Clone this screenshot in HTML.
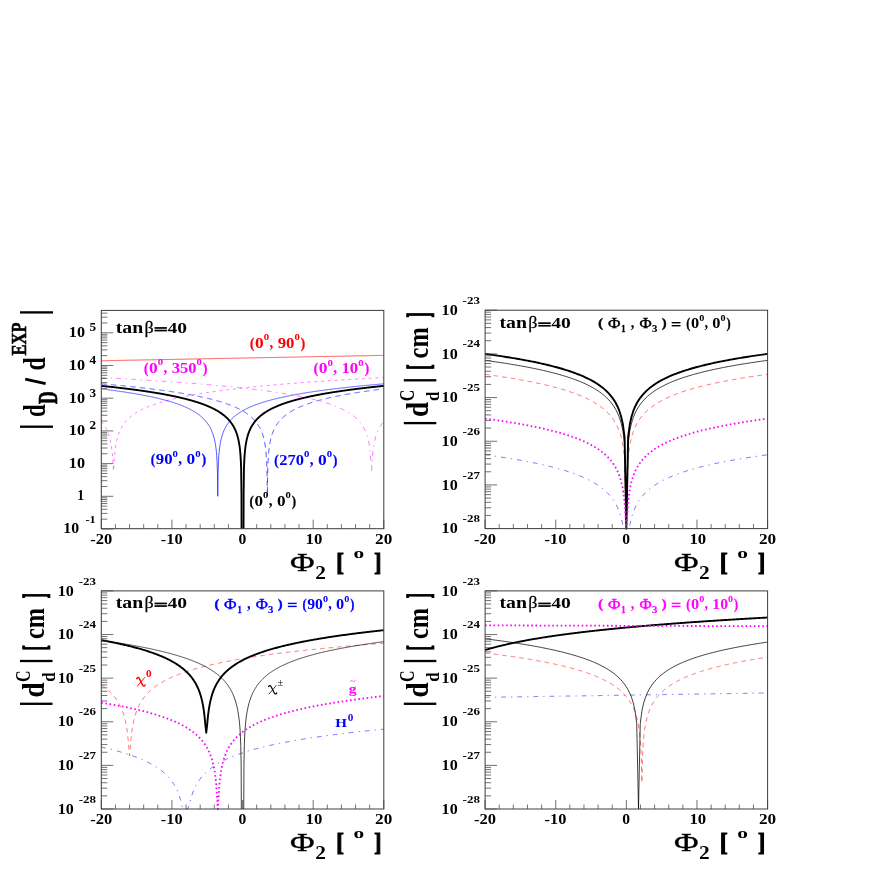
<!DOCTYPE html>
<html><head><meta charset="utf-8"><title>plot</title>
<style>
html,body{margin:0;padding:0;background:#fff;}
body{width:872px;height:872px;overflow:hidden;font-family:"Liberation Serif",serif;}
svg{display:block;font-family:"Liberation Serif",serif;}
</style></head><body>
<svg width="872" height="872" viewBox="0 0 872 872">
<defs><filter id="soft" x="0" y="0" width="872" height="872" filterUnits="userSpaceOnUse"><feGaussianBlur stdDeviation="0.42"/></filter></defs>
<rect width="872" height="872" fill="#fff"/>
<g filter="url(#soft)">
<path d="M101.30 360.76 L102.01 360.75 L102.71 360.73 L103.42 360.72 L104.12 360.70 L104.83 360.69 L105.54 360.68 L106.24 360.66 L106.95 360.65 L107.66 360.64 L108.36 360.62 L109.07 360.61 L109.77 360.60 L110.48 360.58 L111.19 360.57 L111.89 360.56 L112.60 360.54 L113.31 360.53 L114.01 360.52 L114.72 360.50 L115.42 360.49 L116.13 360.48 L116.84 360.46 L117.54 360.45 L118.25 360.43 L118.96 360.42 L119.66 360.41 L120.37 360.39 L121.08 360.38 L121.78 360.37 L122.49 360.35 L123.19 360.34 L123.90 360.33 L124.61 360.31 L125.31 360.30 L126.02 360.29 L126.73 360.27 L127.43 360.26 L128.14 360.25 L128.84 360.23 L129.55 360.22 L130.26 360.21 L130.96 360.19 L131.67 360.18 L132.38 360.16 L133.08 360.15 L133.79 360.14 L134.49 360.12 L135.20 360.11 L135.91 360.10 L136.61 360.08 L137.32 360.07 L138.02 360.06 L138.73 360.04 L139.44 360.03 L140.14 360.02 L140.85 360.00 L141.56 359.99 L142.26 359.98 L142.97 359.96 L143.68 359.95 L144.38 359.94 L145.09 359.92 L145.79 359.91 L146.50 359.90 L147.21 359.88 L147.91 359.87 L148.62 359.85 L149.32 359.84 L150.03 359.83 L150.74 359.81 L151.44 359.80 L152.15 359.79 L152.86 359.77 L153.56 359.76 L154.27 359.75 L154.98 359.73 L155.68 359.72 L156.39 359.71 L157.09 359.69 L157.80 359.68 L158.51 359.67 L159.21 359.65 L159.92 359.64 L160.62 359.63 L161.33 359.61 L162.04 359.60 L162.74 359.58 L163.45 359.57 L164.16 359.56 L164.86 359.54 L165.57 359.53 L166.28 359.52 L166.98 359.50 L167.69 359.49 L168.39 359.48 L169.10 359.46 L169.81 359.45 L170.51 359.44 L171.22 359.42 L171.93 359.41 L172.63 359.40 L173.34 359.38 L174.04 359.37 L174.75 359.36 L175.46 359.34 L176.16 359.33 L176.87 359.32 L177.57 359.30 L178.28 359.29 L178.99 359.27 L179.69 359.26 L180.40 359.25 L181.11 359.23 L181.81 359.22 L182.52 359.21 L183.23 359.19 L183.93 359.18 L184.64 359.17 L185.34 359.15 L186.05 359.14 L186.76 359.13 L187.46 359.11 L188.17 359.10 L188.88 359.09 L189.58 359.07 L190.29 359.06 L190.99 359.05 L191.70 359.03 L192.41 359.02 L193.11 359.00 L193.82 358.99 L194.53 358.98 L195.23 358.96 L195.94 358.95 L196.64 358.94 L197.35 358.92 L198.06 358.91 L198.76 358.90 L199.47 358.88 L200.18 358.87 L200.88 358.86 L201.59 358.84 L202.29 358.83 L203.00 358.82 L203.71 358.80 L204.41 358.79 L205.12 358.78 L205.82 358.76 L206.53 358.75 L207.24 358.74 L207.94 358.72 L208.65 358.71 L209.36 358.69 L210.06 358.68 L210.77 358.67 L211.47 358.65 L212.18 358.64 L212.89 358.63 L213.59 358.61 L214.30 358.60 L215.01 358.59 L215.71 358.57 L216.42 358.56 L217.12 358.55 L217.83 358.53 L218.54 358.52 L219.24 358.51 L219.95 358.49 L220.66 358.48 L221.36 358.47 L222.07 358.45 L222.77 358.44 L223.48 358.42 L224.19 358.41 L224.89 358.40 L225.60 358.38 L226.31 358.37 L227.01 358.36 L227.72 358.34 L228.43 358.33 L229.13 358.32 L229.84 358.30 L230.54 358.29 L231.25 358.28 L231.96 358.26 L232.66 358.25 L233.37 358.24 L234.07 358.22 L234.78 358.21 L235.49 358.20 L236.19 358.18 L236.90 358.17 L237.61 358.16 L238.31 358.14 L239.02 358.13 L239.73 358.11 L240.43 358.10 L241.14 358.09 L241.84 358.07 L242.55 358.06 L243.26 358.05 L243.96 358.03 L244.67 358.02 L245.38 358.01 L246.08 357.99 L246.79 357.98 L247.49 357.97 L248.20 357.95 L248.91 357.94 L249.61 357.93 L250.32 357.91 L251.02 357.90 L251.73 357.89 L252.44 357.87 L253.14 357.86 L253.85 357.84 L254.56 357.83 L255.26 357.82 L255.97 357.80 L256.68 357.79 L257.38 357.78 L258.09 357.76 L258.79 357.75 L259.50 357.74 L260.21 357.72 L260.91 357.71 L261.62 357.70 L262.32 357.68 L263.03 357.67 L263.74 357.66 L264.44 357.64 L265.15 357.63 L265.86 357.62 L266.56 357.60 L267.27 357.59 L267.98 357.58 L268.68 357.56 L269.39 357.55 L270.09 357.53 L270.80 357.52 L271.51 357.51 L272.21 357.49 L272.92 357.48 L273.62 357.47 L274.33 357.45 L275.04 357.44 L275.74 357.43 L276.45 357.41 L277.16 357.40 L277.86 357.39 L278.57 357.37 L279.28 357.36 L279.98 357.35 L280.69 357.33 L281.39 357.32 L282.10 357.31 L282.81 357.29 L283.51 357.28 L284.22 357.26 L284.93 357.25 L285.63 357.24 L286.34 357.22 L287.04 357.21 L287.75 357.20 L288.46 357.18 L289.16 357.17 L289.87 357.16 L290.57 357.14 L291.28 357.13 L291.99 357.12 L292.69 357.10 L293.40 357.09 L294.11 357.08 L294.81 357.06 L295.52 357.05 L296.23 357.04 L296.93 357.02 L297.64 357.01 L298.34 357.00 L299.05 356.98 L299.76 356.97 L300.46 356.95 L301.17 356.94 L301.88 356.93 L302.58 356.91 L303.29 356.90 L303.99 356.89 L304.70 356.87 L305.41 356.86 L306.11 356.85 L306.82 356.83 L307.53 356.82 L308.23 356.81 L308.94 356.79 L309.64 356.78 L310.35 356.77 L311.06 356.75 L311.76 356.74 L312.47 356.73 L313.18 356.71 L313.88 356.70 L314.59 356.68 L315.29 356.67 L316.00 356.66 L316.71 356.64 L317.41 356.63 L318.12 356.62 L318.82 356.60 L319.53 356.59 L320.24 356.58 L320.94 356.56 L321.65 356.55 L322.36 356.54 L323.06 356.52 L323.77 356.51 L324.48 356.50 L325.18 356.48 L325.89 356.47 L326.59 356.46 L327.30 356.44 L328.01 356.43 L328.71 356.42 L329.42 356.40 L330.12 356.39 L330.83 356.37 L331.54 356.36 L332.24 356.35 L332.95 356.33 L333.66 356.32 L334.36 356.31 L335.07 356.29 L335.78 356.28 L336.48 356.27 L337.19 356.25 L337.89 356.24 L338.60 356.23 L339.31 356.21 L340.01 356.20 L340.72 356.19 L341.43 356.17 L342.13 356.16 L342.84 356.15 L343.54 356.13 L344.25 356.12 L344.96 356.10 L345.66 356.09 L346.37 356.08 L347.08 356.06 L347.78 356.05 L348.49 356.04 L349.19 356.02 L349.90 356.01 L350.61 356.00 L351.31 355.98 L352.02 355.97 L352.73 355.96 L353.43 355.94 L354.14 355.93 L354.84 355.92 L355.55 355.90 L356.26 355.89 L356.96 355.88 L357.67 355.86 L358.38 355.85 L359.08 355.84 L359.79 355.82 L360.49 355.81 L361.20 355.79 L361.91 355.78 L362.61 355.77 L363.32 355.75 L364.03 355.74 L364.73 355.73 L365.44 355.71 L366.14 355.70 L366.85 355.69 L367.56 355.67 L368.26 355.66 L368.97 355.65 L369.68 355.63 L370.38 355.62 L371.09 355.61 L371.79 355.59 L372.50 355.58 L373.21 355.57 L373.91 355.55 L374.62 355.54 L375.33 355.52 L376.03 355.51 L376.74 355.50 L377.44 355.48 L378.15 355.47 L378.86 355.46 L379.56 355.44 L380.27 355.43 L380.98 355.42 L381.68 355.40 L382.39 355.39 L383.09 355.38 L383.80 355.36" stroke="#ff2020" stroke-width="0.75" fill="none" stroke-linejoin="round" stroke-linecap="butt"/>
<path d="M101.30 421.50 L101.51 421.75 L102.22 422.61 L102.92 423.52 L103.63 424.50 L104.34 425.55 L105.04 426.69 L105.75 427.92 L106.46 429.27 L107.16 430.76 L107.87 432.43 L108.57 434.31 L109.28 436.49 L109.99 439.05 L110.69 442.18 L111.40 446.17 L112.11 451.65 L112.81 460.20 L113.52 470.85 L114.22 460.20 L114.93 451.65 L115.64 446.17 L116.34 442.18 L117.05 439.05 L117.76 436.49 L118.46 434.31 L119.17 432.43 L119.87 430.76 L120.58 429.27 L121.29 427.92 L121.99 426.69 L122.70 425.55 L123.41 424.50 L124.11 423.52 L124.82 422.61 L125.52 421.75 L126.23 420.94 L126.94 420.17 L127.64 419.44 L128.35 418.75 L129.06 418.09 L129.76 417.46 L130.47 416.85 L131.17 416.27 L131.88 415.72 L132.59 415.18 L133.29 414.67 L134.00 414.17 L134.71 413.69 L135.41 413.22 L136.12 412.77 L136.82 412.33 L137.53 411.91 L138.24 411.50 L138.94 411.10 L139.65 410.71 L140.36 410.33 L141.06 409.96 L141.77 409.60 L142.47 409.25 L143.18 408.91 L143.89 408.58 L144.59 408.25 L145.30 407.93 L146.01 407.62 L146.71 407.31 L147.42 407.01 L148.12 406.72 L148.83 406.43 L149.54 406.15 L150.24 405.88 L150.95 405.61 L151.66 405.34 L152.36 405.08 L153.07 404.82 L153.77 404.57 L154.48 404.33 L155.19 404.08 L155.89 403.84 L156.60 403.61 L157.31 403.38 L158.01 403.15 L158.72 402.93 L159.42 402.71 L160.13 402.49 L160.84 402.28 L161.54 402.07 L162.25 401.86 L162.96 401.66 L163.66 401.45 L164.37 401.26 L165.07 401.06 L165.78 400.87 L166.49 400.68 L167.19 400.49 L167.90 400.30 L168.61 400.12 L169.31 399.94 L170.02 399.76 L170.72 399.58 L171.43 399.41 L172.14 399.24 L172.84 399.07 L173.55 398.90 L174.26 398.73 L174.96 398.57 L175.67 398.41 L176.37 398.25 L177.08 398.09 L177.79 397.93 L178.49 397.77 L179.20 397.62 L179.91 397.47 L180.61 397.32 L181.32 397.17 L182.02 397.02 L182.73 396.88 L183.44 396.73 L184.14 396.59 L184.85 396.45 L185.56 396.31 L186.26 396.17 L186.97 396.03 L187.67 395.90 L188.38 395.76 L189.09 395.63 L189.79 395.50 L190.50 395.37 L191.21 395.24 L191.91 395.11 L192.62 394.98 L193.32 394.85 L194.03 394.73 L194.74 394.61 L195.44 394.48 L196.15 394.36 L196.86 394.24 L197.56 394.12 L198.27 394.00 L198.97 393.88 L199.68 393.77 L200.39 393.65 L201.09 393.54 L201.80 393.42 L202.51 393.31 L203.21 393.20 L203.92 393.08 L204.62 392.97 L205.33 392.86 L206.04 392.76 L206.74 392.65 L207.45 392.54 L208.16 392.43 L208.86 392.33 L209.57 392.22 L210.27 392.12 L210.98 392.02 L211.69 391.91 L212.39 391.81 L213.10 391.71 L213.81 391.61 L214.51 391.51 L215.22 391.41 L215.92 391.31 L216.63 391.22 L217.34 391.12 L218.04 391.02 L218.75 390.93 L219.46 390.83 L220.16 390.74 L220.87 390.64 L221.57 390.55 L222.28 390.46 L222.99 390.37 L223.69 390.28 L224.40 390.18 L225.11 390.09 L225.81 390.00 L226.52 389.92 L227.22 389.83 L227.93 389.74 L228.64 389.65 L229.34 389.57 L230.05 389.48 L230.76 389.39 L231.46 389.31 L232.17 389.22 L232.87 389.14 L233.58 389.05 L234.29 388.97 L234.99 388.89 L235.70 388.81 L236.41 388.72 L237.11 388.64 L237.82 388.56 L238.52 388.48 L239.23 388.40 L239.94 388.32 L240.64 388.24 L241.35 388.16 L242.06 388.09 L242.76 388.01 L243.47 387.93 L244.17 387.85 L244.88 387.78 L245.59 387.70 L246.29 387.63 L247.00 387.55 L247.71 387.48 L248.41 387.40 L249.12 387.33 L249.82 387.25 L250.53 387.18 L251.24 387.11 L251.94 387.03 L252.65 386.96 L253.36 386.89 L254.06 386.82 L254.77 386.75 L255.47 386.68 L256.18 386.61 L256.89 386.54 L257.59 386.47 L258.30 386.40 L259.01 386.33 L259.71 386.26 L260.42 386.19 L261.12 386.12 L261.83 386.05 L262.54 385.99 L263.24 385.92 L263.95 385.85 L264.66 385.79 L265.36 385.72 L266.07 385.65 L266.77 385.59 L267.48 385.52 L268.19 385.46 L268.89 385.39 L269.60 385.33 L270.31 385.26 L271.01 385.20 L271.72 385.14 L272.42 385.07 L273.13 385.01 L273.84 384.95 L274.54 384.89 L275.25 384.82 L275.96 384.76 L276.66 384.70 L277.37 384.64 L278.07 384.58 L278.78 384.52 L279.49 384.46 L280.19 384.40 L280.90 384.34 L281.61 384.28 L282.31 384.22 L283.02 384.16 L283.72 384.10 L284.43 384.04 L285.14 383.98 L285.84 383.92 L286.55 383.86 L287.26 383.81 L287.96 383.75 L288.67 383.69 L289.37 383.63 L290.08 383.58 L290.79 383.52 L291.49 383.46 L292.20 383.41 L292.91 383.35 L293.61 383.30 L294.32 383.24 L295.02 383.19 L295.73 383.13 L296.44 383.08 L297.14 383.02 L297.85 382.97 L298.56 382.91 L299.26 382.86 L299.97 382.80 L300.67 382.75 L301.38 382.70 L302.09 382.64 L302.79 382.59 L303.50 382.54 L304.21 382.48 L304.91 382.43 L305.62 382.38 L306.32 382.33 L307.03 382.28 L307.74 382.22 L308.44 382.17 L309.15 382.12 L309.86 382.07 L310.56 382.02 L311.27 381.97 L311.97 381.92 L312.68 381.87 L313.39 381.82 L314.09 381.77 L314.80 381.72 L315.51 381.67 L316.21 381.62 L316.92 381.57 L317.62 381.52 L318.33 381.47 L319.04 381.42 L319.74 381.37 L320.45 381.32 L321.16 381.28 L321.86 381.23 L322.57 381.18 L323.27 381.13 L323.98 381.08 L324.69 381.04 L325.39 380.99 L326.10 380.94 L326.81 380.89 L327.51 380.85 L328.22 380.80 L328.92 380.75 L329.63 380.71 L330.34 380.66 L331.04 380.61 L331.75 380.57 L332.46 380.52 L333.16 380.48 L333.87 380.43 L334.57 380.39 L335.28 380.34 L335.99 380.30 L336.69 380.25 L337.40 380.21 L338.11 380.16 L338.81 380.12 L339.52 380.07 L340.22 380.03 L340.93 379.98 L341.64 379.94 L342.34 379.90 L343.05 379.85 L343.76 379.81 L344.46 379.76 L345.17 379.72 L345.87 379.68 L346.58 379.64 L347.29 379.59 L347.99 379.55 L348.70 379.51 L349.41 379.46 L350.11 379.42 L350.82 379.38 L351.52 379.34 L352.23 379.29 L352.94 379.25 L353.64 379.21 L354.35 379.17 L355.06 379.13 L355.76 379.09 L356.47 379.05 L357.17 379.00 L357.88 378.96 L358.59 378.92 L359.29 378.88 L360.00 378.84 L360.71 378.80 L361.41 378.76 L362.12 378.72 L362.82 378.68 L363.53 378.64 L364.24 378.60 L364.94 378.56 L365.65 378.52 L366.36 378.48 L367.06 378.44 L367.77 378.40 L368.47 378.36 L369.18 378.32 L369.89 378.28 L370.59 378.24 L371.30 378.20 L372.01 378.16 L372.71 378.13 L373.42 378.09 L374.12 378.05 L374.83 378.01 L375.54 377.97 L376.24 377.93 L376.95 377.90 L377.66 377.86 L378.36 377.82 L379.07 377.78 L379.77 377.74 L380.48 377.71 L381.19 377.67 L381.89 377.63 L382.60 377.59 L383.31 377.56 L383.80 377.53" stroke="#ff00ff" stroke-width="0.75" fill="none" stroke-linejoin="round" stroke-linecap="butt" stroke-dasharray="3 3.8" stroke-opacity="0.7"/>
<path d="M101.30 377.53 L101.79 377.56 L102.50 377.59 L103.21 377.63 L103.91 377.67 L104.62 377.71 L105.33 377.74 L106.03 377.78 L106.74 377.82 L107.44 377.86 L108.15 377.90 L108.86 377.93 L109.56 377.97 L110.27 378.01 L110.98 378.05 L111.68 378.09 L112.39 378.13 L113.09 378.16 L113.80 378.20 L114.51 378.24 L115.21 378.28 L115.92 378.32 L116.63 378.36 L117.33 378.40 L118.04 378.44 L118.74 378.48 L119.45 378.52 L120.16 378.56 L120.86 378.60 L121.57 378.64 L122.28 378.68 L122.98 378.72 L123.69 378.76 L124.39 378.80 L125.10 378.84 L125.81 378.88 L126.51 378.92 L127.22 378.96 L127.93 379.00 L128.63 379.05 L129.34 379.09 L130.04 379.13 L130.75 379.17 L131.46 379.21 L132.16 379.25 L132.87 379.29 L133.58 379.34 L134.28 379.38 L134.99 379.42 L135.69 379.46 L136.40 379.51 L137.11 379.55 L137.81 379.59 L138.52 379.64 L139.23 379.68 L139.93 379.72 L140.64 379.76 L141.34 379.81 L142.05 379.85 L142.76 379.90 L143.46 379.94 L144.17 379.98 L144.88 380.03 L145.58 380.07 L146.29 380.12 L146.99 380.16 L147.70 380.21 L148.41 380.25 L149.11 380.30 L149.82 380.34 L150.53 380.39 L151.23 380.43 L151.94 380.48 L152.64 380.52 L153.35 380.57 L154.06 380.61 L154.76 380.66 L155.47 380.71 L156.18 380.75 L156.88 380.80 L157.59 380.85 L158.29 380.89 L159.00 380.94 L159.71 380.99 L160.41 381.04 L161.12 381.08 L161.83 381.13 L162.53 381.18 L163.24 381.23 L163.94 381.28 L164.65 381.32 L165.36 381.37 L166.06 381.42 L166.77 381.47 L167.48 381.52 L168.18 381.57 L168.89 381.62 L169.59 381.67 L170.30 381.72 L171.01 381.77 L171.71 381.82 L172.42 381.87 L173.13 381.92 L173.83 381.97 L174.54 382.02 L175.24 382.07 L175.95 382.12 L176.66 382.17 L177.36 382.22 L178.07 382.28 L178.78 382.33 L179.48 382.38 L180.19 382.43 L180.89 382.48 L181.60 382.54 L182.31 382.59 L183.01 382.64 L183.72 382.70 L184.43 382.75 L185.13 382.80 L185.84 382.86 L186.54 382.91 L187.25 382.97 L187.96 383.02 L188.66 383.08 L189.37 383.13 L190.08 383.19 L190.78 383.24 L191.49 383.30 L192.19 383.35 L192.90 383.41 L193.61 383.46 L194.31 383.52 L195.02 383.58 L195.73 383.63 L196.43 383.69 L197.14 383.75 L197.84 383.81 L198.55 383.86 L199.26 383.92 L199.96 383.98 L200.67 384.04 L201.38 384.10 L202.08 384.16 L202.79 384.22 L203.49 384.28 L204.20 384.34 L204.91 384.40 L205.61 384.46 L206.32 384.52 L207.03 384.58 L207.73 384.64 L208.44 384.70 L209.14 384.76 L209.85 384.82 L210.56 384.89 L211.26 384.95 L211.97 385.01 L212.68 385.07 L213.38 385.14 L214.09 385.20 L214.79 385.26 L215.50 385.33 L216.21 385.39 L216.91 385.46 L217.62 385.52 L218.33 385.59 L219.03 385.65 L219.74 385.72 L220.44 385.79 L221.15 385.85 L221.86 385.92 L222.56 385.99 L223.27 386.05 L223.98 386.12 L224.68 386.19 L225.39 386.26 L226.09 386.33 L226.80 386.40 L227.51 386.47 L228.21 386.54 L228.92 386.61 L229.63 386.68 L230.33 386.75 L231.04 386.82 L231.74 386.89 L232.45 386.96 L233.16 387.03 L233.86 387.11 L234.57 387.18 L235.28 387.25 L235.98 387.33 L236.69 387.40 L237.39 387.48 L238.10 387.55 L238.81 387.63 L239.51 387.70 L240.22 387.78 L240.93 387.85 L241.63 387.93 L242.34 388.01 L243.04 388.09 L243.75 388.16 L244.46 388.24 L245.16 388.32 L245.87 388.40 L246.58 388.48 L247.28 388.56 L247.99 388.64 L248.69 388.72 L249.40 388.81 L250.11 388.89 L250.81 388.97 L251.52 389.05 L252.23 389.14 L252.93 389.22 L253.64 389.31 L254.34 389.39 L255.05 389.48 L255.76 389.57 L256.46 389.65 L257.17 389.74 L257.88 389.83 L258.58 389.92 L259.29 390.00 L259.99 390.09 L260.70 390.18 L261.41 390.28 L262.11 390.37 L262.82 390.46 L263.53 390.55 L264.23 390.64 L264.94 390.74 L265.64 390.83 L266.35 390.93 L267.06 391.02 L267.76 391.12 L268.47 391.22 L269.18 391.31 L269.88 391.41 L270.59 391.51 L271.29 391.61 L272.00 391.71 L272.71 391.81 L273.41 391.91 L274.12 392.02 L274.83 392.12 L275.53 392.22 L276.24 392.33 L276.94 392.43 L277.65 392.54 L278.36 392.65 L279.06 392.76 L279.77 392.86 L280.48 392.97 L281.18 393.08 L281.89 393.20 L282.59 393.31 L283.30 393.42 L284.01 393.54 L284.71 393.65 L285.42 393.77 L286.13 393.88 L286.83 394.00 L287.54 394.12 L288.24 394.24 L288.95 394.36 L289.66 394.48 L290.36 394.61 L291.07 394.73 L291.78 394.85 L292.48 394.98 L293.19 395.11 L293.89 395.24 L294.60 395.37 L295.31 395.50 L296.01 395.63 L296.72 395.76 L297.43 395.90 L298.13 396.03 L298.84 396.17 L299.54 396.31 L300.25 396.45 L300.96 396.59 L301.66 396.73 L302.37 396.88 L303.08 397.02 L303.78 397.17 L304.49 397.32 L305.19 397.47 L305.90 397.62 L306.61 397.77 L307.31 397.93 L308.02 398.09 L308.73 398.25 L309.43 398.41 L310.14 398.57 L310.84 398.73 L311.55 398.90 L312.26 399.07 L312.96 399.24 L313.67 399.41 L314.38 399.58 L315.08 399.76 L315.79 399.94 L316.49 400.12 L317.20 400.30 L317.91 400.49 L318.61 400.68 L319.32 400.87 L320.03 401.06 L320.73 401.26 L321.44 401.45 L322.14 401.66 L322.85 401.86 L323.56 402.07 L324.26 402.28 L324.97 402.49 L325.68 402.71 L326.38 402.93 L327.09 403.15 L327.79 403.38 L328.50 403.61 L329.21 403.84 L329.91 404.08 L330.62 404.33 L331.33 404.57 L332.03 404.82 L332.74 405.08 L333.44 405.34 L334.15 405.61 L334.86 405.88 L335.56 406.15 L336.27 406.43 L336.98 406.72 L337.68 407.01 L338.39 407.31 L339.09 407.62 L339.80 407.93 L340.51 408.25 L341.21 408.58 L341.92 408.91 L342.63 409.25 L343.33 409.60 L344.04 409.96 L344.74 410.33 L345.45 410.71 L346.16 411.10 L346.86 411.50 L347.57 411.91 L348.28 412.33 L348.98 412.77 L349.69 413.22 L350.39 413.69 L351.10 414.17 L351.81 414.67 L352.51 415.18 L353.22 415.72 L353.93 416.27 L354.63 416.85 L355.34 417.46 L356.04 418.09 L356.75 418.75 L357.46 419.44 L358.16 420.17 L358.87 420.94 L359.58 421.75 L360.28 422.61 L360.99 423.52 L361.69 424.50 L362.40 425.55 L363.11 426.69 L363.81 427.92 L364.52 429.27 L365.23 430.76 L365.93 432.43 L366.64 434.31 L367.34 436.49 L368.05 439.05 L368.76 442.18 L369.46 446.17 L370.17 451.65 L370.88 460.20 L371.58 470.85 L372.29 460.20 L372.99 451.65 L373.70 446.17 L374.41 442.18 L375.11 439.05 L375.82 436.49 L376.53 434.31 L377.23 432.43 L377.94 430.76 L378.64 429.27 L379.35 427.92 L380.06 426.69 L380.76 425.55 L381.47 424.50 L382.18 423.52 L382.88 422.61 L383.59 421.75 L383.80 421.50" stroke="#ff00ff" stroke-width="0.75" fill="none" stroke-linejoin="round" stroke-linecap="butt" stroke-dasharray="4.8 4.5 1.3 4.5" stroke-opacity="0.7"/>
<path d="M101.30 388.87 L101.58 388.90 L101.94 388.94 L102.29 388.99 L102.64 389.03 L103.00 389.08 L103.35 389.12 L103.70 389.16 L104.05 389.21 L104.41 389.25 L104.76 389.30 L105.11 389.34 L105.47 389.38 L105.82 389.43 L106.17 389.47 L106.53 389.52 L106.88 389.56 L107.23 389.61 L107.59 389.66 L107.94 389.70 L108.29 389.75 L108.65 389.79 L109.00 389.84 L109.35 389.88 L109.70 389.93 L110.06 389.98 L110.41 390.02 L110.76 390.07 L111.12 390.12 L111.47 390.16 L111.82 390.21 L112.18 390.26 L112.53 390.31 L112.88 390.35 L113.24 390.40 L113.59 390.45 L113.94 390.50 L114.30 390.55 L114.65 390.60 L115.00 390.64 L115.35 390.69 L115.71 390.74 L116.06 390.79 L116.41 390.84 L116.77 390.89 L117.12 390.94 L117.47 390.99 L117.83 391.04 L118.18 391.09 L118.53 391.14 L118.89 391.19 L119.24 391.24 L119.59 391.29 L119.95 391.34 L120.30 391.40 L120.65 391.45 L121.00 391.50 L121.36 391.55 L121.71 391.60 L122.06 391.66 L122.42 391.71 L122.77 391.76 L123.12 391.81 L123.48 391.87 L123.83 391.92 L124.18 391.97 L124.54 392.03 L124.89 392.08 L125.24 392.14 L125.60 392.19 L125.95 392.24 L126.30 392.30 L126.65 392.35 L127.01 392.41 L127.36 392.46 L127.71 392.52 L128.07 392.58 L128.42 392.63 L128.77 392.69 L129.13 392.74 L129.48 392.80 L129.83 392.86 L130.19 392.92 L130.54 392.97 L130.89 393.03 L131.25 393.09 L131.60 393.15 L131.95 393.20 L132.30 393.26 L132.66 393.32 L133.01 393.38 L133.36 393.44 L133.72 393.50 L134.07 393.56 L134.42 393.62 L134.78 393.68 L135.13 393.74 L135.48 393.80 L135.84 393.86 L136.19 393.92 L136.54 393.99 L136.90 394.05 L137.25 394.11 L137.60 394.17 L137.95 394.23 L138.31 394.30 L138.66 394.36 L139.01 394.42 L139.37 394.49 L139.72 394.55 L140.07 394.62 L140.43 394.68 L140.78 394.75 L141.13 394.81 L141.49 394.88 L141.84 394.94 L142.19 395.01 L142.55 395.08 L142.90 395.14 L143.25 395.21 L143.60 395.28 L143.96 395.35 L144.31 395.41 L144.66 395.48 L145.02 395.55 L145.37 395.62 L145.72 395.69 L146.08 395.76 L146.43 395.83 L146.78 395.90 L147.14 395.97 L147.49 396.04 L147.84 396.11 L148.20 396.18 L148.55 396.26 L148.90 396.33 L149.25 396.40 L149.61 396.48 L149.96 396.55 L150.31 396.62 L150.67 396.70 L151.02 396.77 L151.37 396.85 L151.73 396.92 L152.08 397.00 L152.43 397.08 L152.79 397.15 L153.14 397.23 L153.49 397.31 L153.85 397.39 L154.20 397.47 L154.55 397.55 L154.90 397.63 L155.26 397.71 L155.61 397.79 L155.96 397.87 L156.32 397.95 L156.67 398.03 L157.02 398.11 L157.38 398.20 L157.73 398.28 L158.08 398.36 L158.44 398.45 L158.79 398.53 L159.14 398.62 L159.50 398.70 L159.85 398.79 L160.20 398.88 L160.55 398.96 L160.91 399.05 L161.26 399.14 L161.61 399.23 L161.97 399.32 L162.32 399.41 L162.67 399.50 L163.03 399.59 L163.38 399.68 L163.73 399.77 L164.09 399.87 L164.44 399.96 L164.79 400.06 L165.15 400.15 L165.50 400.25 L165.85 400.34 L166.20 400.44 L166.56 400.54 L166.91 400.64 L167.26 400.73 L167.62 400.83 L167.97 400.93 L168.32 401.04 L168.68 401.14 L169.03 401.24 L169.38 401.34 L169.74 401.45 L170.09 401.55 L170.44 401.66 L170.80 401.76 L171.15 401.87 L171.50 401.98 L171.85 402.09 L172.21 402.20 L172.56 402.31 L172.91 402.42 L173.27 402.53 L173.62 402.65 L173.97 402.76 L174.33 402.87 L174.68 402.99 L175.03 403.11 L175.39 403.22 L175.74 403.34 L176.09 403.46 L176.45 403.58 L176.80 403.71 L177.15 403.83 L177.50 403.95 L177.86 404.08 L178.21 404.20 L178.56 404.33 L178.92 404.46 L179.27 404.59 L179.62 404.72 L179.98 404.85 L180.33 404.99 L180.68 405.12 L181.04 405.26 L181.39 405.39 L181.74 405.53 L182.10 405.67 L182.45 405.81 L182.80 405.96 L183.15 406.10 L183.51 406.25 L183.86 406.39 L184.21 406.54 L184.57 406.69 L184.92 406.84 L185.27 407.00 L185.63 407.15 L185.98 407.31 L186.33 407.47 L186.69 407.63 L187.04 407.79 L187.39 407.96 L187.75 408.12 L188.10 408.29 L188.45 408.46 L188.80 408.63 L189.16 408.81 L189.51 408.98 L189.86 409.16 L190.22 409.34 L190.57 409.53 L190.92 409.71 L191.28 409.90 L191.63 410.09 L191.98 410.28 L192.34 410.48 L192.69 410.68 L193.04 410.88 L193.40 411.08 L193.75 411.29 L194.10 411.50 L194.45 411.71 L194.81 411.93 L195.16 412.15 L195.51 412.38 L195.87 412.60 L196.22 412.83 L196.57 413.07 L196.93 413.31 L197.28 413.55 L197.63 413.80 L197.99 414.05 L198.34 414.30 L198.69 414.56 L199.05 414.83 L199.40 415.10 L199.75 415.38 L200.10 415.66 L200.46 415.94 L200.81 416.24 L201.16 416.54 L201.52 416.84 L201.87 417.15 L202.22 417.47 L202.58 417.80 L202.93 418.13 L203.28 418.48 L203.64 418.83 L203.99 419.19 L204.34 419.55 L204.70 419.93 L205.05 420.32 L205.40 420.72 L205.75 421.13 L206.11 421.56 L206.46 422.00 L206.81 422.45 L207.17 422.91 L207.52 423.39 L207.87 423.89 L208.23 424.41 L208.58 424.94 L208.93 425.50 L209.29 426.08 L209.64 426.69 L209.99 427.32 L210.35 427.98 L210.70 428.67 L211.05 429.40 L211.40 430.17 L211.76 430.98 L212.11 431.84 L212.46 432.75 L212.82 433.73 L213.17 434.79 L213.52 435.92 L213.88 437.16 L214.23 438.51 L214.58 440.01 L214.94 441.68 L215.29 443.58 L215.64 445.76 L216.00 448.35 L216.35 451.51 L216.70 455.59 L217.05 461.32 L217.41 471.01 L217.76 496.30 L218.11 471.01 L218.47 461.32 L218.82 455.59 L219.17 451.51 L219.53 448.35 L219.88 445.76 L220.23 443.58 L220.59 441.68 L220.94 440.01 L221.29 438.51 L221.65 437.16 L222.00 435.92 L222.35 434.79 L222.70 433.73 L223.06 432.75 L223.41 431.84 L223.76 430.98 L224.12 430.17 L224.47 429.40 L224.82 428.67 L225.18 427.98 L225.53 427.32 L225.88 426.69 L226.24 426.08 L226.59 425.50 L226.94 424.94 L227.30 424.41 L227.65 423.89 L228.00 423.39 L228.35 422.91 L228.71 422.45 L229.06 422.00 L229.41 421.56 L229.77 421.13 L230.12 420.72 L230.47 420.32 L230.83 419.93 L231.18 419.55 L231.53 419.19 L231.89 418.83 L232.24 418.48 L232.59 418.13 L232.95 417.80 L233.30 417.47 L233.65 417.15 L234.00 416.84 L234.36 416.54 L234.71 416.24 L235.06 415.94 L235.42 415.66 L235.77 415.38 L236.12 415.10 L236.48 414.83 L236.83 414.56 L237.18 414.30 L237.54 414.05 L237.89 413.80 L238.24 413.55 L238.60 413.31 L238.95 413.07 L239.30 412.83 L239.65 412.60 L240.01 412.38 L240.36 412.15 L240.71 411.93 L241.07 411.71 L241.42 411.50 L241.77 411.29 L242.13 411.08 L242.48 410.88 L242.83 410.68 L243.19 410.48 L243.54 410.28 L243.89 410.09 L244.25 409.90 L244.60 409.71 L244.95 409.53 L245.30 409.34 L245.66 409.16 L246.01 408.98 L246.36 408.81 L246.72 408.63 L247.07 408.46 L247.42 408.29 L247.78 408.12 L248.13 407.96 L248.48 407.79 L248.84 407.63 L249.19 407.47 L249.54 407.31 L249.90 407.15 L250.25 407.00 L250.60 406.84 L250.95 406.69 L251.31 406.54 L251.66 406.39 L252.01 406.25 L252.37 406.10 L252.72 405.96 L253.07 405.81 L253.43 405.67 L253.78 405.53 L254.13 405.39 L254.49 405.26 L254.84 405.12 L255.19 404.99 L255.55 404.85 L255.90 404.72 L256.25 404.59 L256.60 404.46 L256.96 404.33 L257.31 404.20 L257.66 404.08 L258.02 403.95 L258.37 403.83 L258.72 403.71 L259.08 403.58 L259.43 403.46 L259.78 403.34 L260.14 403.22 L260.49 403.11 L260.84 402.99 L261.20 402.87 L261.55 402.76 L261.90 402.65 L262.25 402.53 L262.61 402.42 L262.96 402.31 L263.31 402.20 L263.67 402.09 L264.02 401.98 L264.37 401.87 L264.73 401.76 L265.08 401.66 L265.43 401.55 L265.79 401.45 L266.14 401.34 L266.49 401.24 L266.85 401.14 L267.20 401.04 L267.55 400.93 L267.90 400.83 L268.26 400.73 L268.61 400.64 L268.96 400.54 L269.32 400.44 L269.67 400.34 L270.02 400.25 L270.38 400.15 L270.73 400.06 L271.08 399.96 L271.44 399.87 L271.79 399.77 L272.14 399.68 L272.50 399.59 L272.85 399.50 L273.20 399.41 L273.55 399.32 L273.91 399.23 L274.26 399.14 L274.61 399.05 L274.97 398.96 L275.32 398.88 L275.67 398.79 L276.03 398.70 L276.38 398.62 L276.73 398.53 L277.09 398.45 L277.44 398.36 L277.79 398.28 L278.15 398.20 L278.50 398.11 L278.85 398.03 L279.20 397.95 L279.56 397.87 L279.91 397.79 L280.26 397.71 L280.62 397.63 L280.97 397.55 L281.32 397.47 L281.68 397.39 L282.03 397.31 L282.38 397.23 L282.74 397.15 L283.09 397.08 L283.44 397.00 L283.80 396.92 L284.15 396.85 L284.50 396.77 L284.85 396.70 L285.21 396.62 L285.56 396.55 L285.91 396.48 L286.27 396.40 L286.62 396.33 L286.97 396.26 L287.33 396.18 L287.68 396.11 L288.03 396.04 L288.39 395.97 L288.74 395.90 L289.09 395.83 L289.45 395.76 L289.80 395.69 L290.15 395.62 L290.50 395.55 L290.86 395.48 L291.21 395.41 L291.56 395.35 L291.92 395.28 L292.27 395.21 L292.62 395.14 L292.98 395.08 L293.33 395.01 L293.68 394.94 L294.04 394.88 L294.39 394.81 L294.74 394.75 L295.10 394.68 L295.45 394.62 L295.80 394.55 L296.15 394.49 L296.51 394.42 L296.86 394.36 L297.21 394.30 L297.57 394.23 L297.92 394.17 L298.27 394.11 L298.63 394.05 L298.98 393.99 L299.33 393.92 L299.69 393.86 L300.04 393.80 L300.39 393.74 L300.75 393.68 L301.10 393.62 L301.45 393.56 L301.80 393.50 L302.16 393.44 L302.51 393.38 L302.86 393.32 L303.22 393.26 L303.57 393.20 L303.92 393.15 L304.28 393.09 L304.63 393.03 L304.98 392.97 L305.34 392.92 L305.69 392.86 L306.04 392.80 L306.40 392.74 L306.75 392.69 L307.10 392.63 L307.45 392.58 L307.81 392.52 L308.16 392.46 L308.51 392.41 L308.87 392.35 L309.22 392.30 L309.57 392.24 L309.93 392.19 L310.28 392.14 L310.63 392.08 L310.99 392.03 L311.34 391.97 L311.69 391.92 L312.05 391.87 L312.40 391.81 L312.75 391.76 L313.10 391.71 L313.46 391.66 L313.81 391.60 L314.16 391.55 L314.52 391.50 L314.87 391.45 L315.22 391.40 L315.58 391.34 L315.93 391.29 L316.28 391.24 L316.64 391.19 L316.99 391.14 L317.34 391.09 L317.70 391.04 L318.05 390.99 L318.40 390.94 L318.75 390.89 L319.11 390.84 L319.46 390.79 L319.81 390.74 L320.17 390.69 L320.52 390.64 L320.87 390.60 L321.23 390.55 L321.58 390.50 L321.93 390.45 L322.29 390.40 L322.64 390.35 L322.99 390.31 L323.35 390.26 L323.70 390.21 L324.05 390.16 L324.40 390.12 L324.76 390.07 L325.11 390.02 L325.46 389.98 L325.82 389.93 L326.17 389.88 L326.52 389.84 L326.88 389.79 L327.23 389.75 L327.58 389.70 L327.94 389.66 L328.29 389.61 L328.64 389.56 L329.00 389.52 L329.35 389.47 L329.70 389.43 L330.05 389.38 L330.41 389.34 L330.76 389.30 L331.11 389.25 L331.47 389.21 L331.82 389.16 L332.17 389.12 L332.53 389.08 L332.88 389.03 L333.23 388.99 L333.59 388.94 L333.94 388.90 L334.29 388.86 L334.65 388.82 L335.00 388.77 L335.35 388.73 L335.70 388.69 L336.06 388.65 L336.41 388.60 L336.76 388.56 L337.12 388.52 L337.47 388.48 L337.82 388.43 L338.18 388.39 L338.53 388.35 L338.88 388.31 L339.24 388.27 L339.59 388.23 L339.94 388.19 L340.30 388.15 L340.65 388.10 L341.00 388.06 L341.35 388.02 L341.71 387.98 L342.06 387.94 L342.41 387.90 L342.77 387.86 L343.12 387.82 L343.47 387.78 L343.83 387.74 L344.18 387.70 L344.53 387.66 L344.89 387.62 L345.24 387.58 L345.59 387.54 L345.95 387.51 L346.30 387.47 L346.65 387.43 L347.00 387.39 L347.36 387.35 L347.71 387.31 L348.06 387.27 L348.42 387.23 L348.77 387.20 L349.12 387.16 L349.48 387.12 L349.83 387.08 L350.18 387.04 L350.54 387.01 L350.89 386.97 L351.24 386.93 L351.60 386.89 L351.95 386.86 L352.30 386.82 L352.65 386.78 L353.01 386.74 L353.36 386.71 L353.71 386.67 L354.07 386.63 L354.42 386.60 L354.77 386.56 L355.13 386.52 L355.48 386.49 L355.83 386.45 L356.19 386.41 L356.54 386.38 L356.89 386.34 L357.25 386.31 L357.60 386.27 L357.95 386.23 L358.30 386.20 L358.66 386.16 L359.01 386.13 L359.36 386.09 L359.72 386.06 L360.07 386.02 L360.42 385.99 L360.78 385.95 L361.13 385.92 L361.48 385.88 L361.84 385.85 L362.19 385.81 L362.54 385.78 L362.90 385.74 L363.25 385.71 L363.60 385.67 L363.95 385.64 L364.31 385.60 L364.66 385.57 L365.01 385.54 L365.37 385.50 L365.72 385.47 L366.07 385.43 L366.43 385.40 L366.78 385.37 L367.13 385.33 L367.49 385.30 L367.84 385.27 L368.19 385.23 L368.55 385.20 L368.90 385.17 L369.25 385.13 L369.60 385.10 L369.96 385.07 L370.31 385.03 L370.66 385.00 L371.02 384.97 L371.37 384.94 L371.72 384.90 L372.08 384.87 L372.43 384.84 L372.78 384.81 L373.14 384.77 L373.49 384.74 L373.84 384.71 L374.20 384.68 L374.55 384.64 L374.90 384.61 L375.25 384.58 L375.61 384.55 L375.96 384.52 L376.31 384.49 L376.67 384.45 L377.02 384.42 L377.37 384.39 L377.73 384.36 L378.08 384.33 L378.43 384.30 L378.79 384.27 L379.14 384.23 L379.49 384.20 L379.85 384.17 L380.20 384.14 L380.55 384.11 L380.90 384.08 L381.26 384.05 L381.61 384.02 L381.96 383.99 L382.32 383.96 L382.67 383.93 L383.02 383.90 L383.38 383.87 L383.73 383.84 L383.80 383.83" stroke="#2020ff" stroke-width="0.75" fill="none" stroke-linejoin="round" stroke-linecap="butt"/>
<path d="M101.30 383.83 L101.37 383.84 L101.72 383.87 L102.08 383.90 L102.43 383.93 L102.78 383.96 L103.14 383.99 L103.49 384.02 L103.84 384.05 L104.20 384.08 L104.55 384.11 L104.90 384.14 L105.26 384.17 L105.61 384.20 L105.96 384.23 L106.31 384.27 L106.67 384.30 L107.02 384.33 L107.37 384.36 L107.73 384.39 L108.08 384.42 L108.43 384.45 L108.79 384.49 L109.14 384.52 L109.49 384.55 L109.85 384.58 L110.20 384.61 L110.55 384.64 L110.91 384.68 L111.26 384.71 L111.61 384.74 L111.96 384.77 L112.32 384.81 L112.67 384.84 L113.02 384.87 L113.38 384.90 L113.73 384.94 L114.08 384.97 L114.44 385.00 L114.79 385.03 L115.14 385.07 L115.50 385.10 L115.85 385.13 L116.20 385.17 L116.56 385.20 L116.91 385.23 L117.26 385.27 L117.61 385.30 L117.97 385.33 L118.32 385.37 L118.67 385.40 L119.03 385.43 L119.38 385.47 L119.73 385.50 L120.09 385.54 L120.44 385.57 L120.79 385.60 L121.15 385.64 L121.50 385.67 L121.85 385.71 L122.21 385.74 L122.56 385.78 L122.91 385.81 L123.26 385.85 L123.62 385.88 L123.97 385.92 L124.32 385.95 L124.68 385.99 L125.03 386.02 L125.38 386.06 L125.74 386.09 L126.09 386.13 L126.44 386.16 L126.80 386.20 L127.15 386.23 L127.50 386.27 L127.86 386.31 L128.21 386.34 L128.56 386.38 L128.91 386.41 L129.27 386.45 L129.62 386.49 L129.97 386.52 L130.33 386.56 L130.68 386.60 L131.03 386.63 L131.39 386.67 L131.74 386.71 L132.09 386.74 L132.45 386.78 L132.80 386.82 L133.15 386.86 L133.51 386.89 L133.86 386.93 L134.21 386.97 L134.56 387.01 L134.92 387.04 L135.27 387.08 L135.62 387.12 L135.98 387.16 L136.33 387.20 L136.68 387.23 L137.04 387.27 L137.39 387.31 L137.74 387.35 L138.10 387.39 L138.45 387.43 L138.80 387.47 L139.16 387.51 L139.51 387.54 L139.86 387.58 L140.21 387.62 L140.57 387.66 L140.92 387.70 L141.27 387.74 L141.63 387.78 L141.98 387.82 L142.33 387.86 L142.69 387.90 L143.04 387.94 L143.39 387.98 L143.75 388.02 L144.10 388.06 L144.45 388.10 L144.81 388.15 L145.16 388.19 L145.51 388.23 L145.86 388.27 L146.22 388.31 L146.57 388.35 L146.92 388.39 L147.28 388.43 L147.63 388.48 L147.98 388.52 L148.34 388.56 L148.69 388.60 L149.04 388.65 L149.40 388.69 L149.75 388.73 L150.10 388.77 L150.46 388.82 L150.81 388.86 L151.16 388.90 L151.51 388.94 L151.87 388.99 L152.22 389.03 L152.57 389.08 L152.93 389.12 L153.28 389.16 L153.63 389.21 L153.99 389.25 L154.34 389.30 L154.69 389.34 L155.05 389.38 L155.40 389.43 L155.75 389.47 L156.11 389.52 L156.46 389.56 L156.81 389.61 L157.16 389.66 L157.52 389.70 L157.87 389.75 L158.22 389.79 L158.58 389.84 L158.93 389.88 L159.28 389.93 L159.64 389.98 L159.99 390.02 L160.34 390.07 L160.70 390.12 L161.05 390.16 L161.40 390.21 L161.76 390.26 L162.11 390.31 L162.46 390.35 L162.81 390.40 L163.17 390.45 L163.52 390.50 L163.87 390.55 L164.23 390.60 L164.58 390.64 L164.93 390.69 L165.29 390.74 L165.64 390.79 L165.99 390.84 L166.35 390.89 L166.70 390.94 L167.05 390.99 L167.41 391.04 L167.76 391.09 L168.11 391.14 L168.46 391.19 L168.82 391.24 L169.17 391.29 L169.52 391.34 L169.88 391.40 L170.23 391.45 L170.58 391.50 L170.94 391.55 L171.29 391.60 L171.64 391.66 L172.00 391.71 L172.35 391.76 L172.70 391.81 L173.06 391.87 L173.41 391.92 L173.76 391.97 L174.11 392.03 L174.47 392.08 L174.82 392.14 L175.17 392.19 L175.53 392.24 L175.88 392.30 L176.23 392.35 L176.59 392.41 L176.94 392.46 L177.29 392.52 L177.65 392.58 L178.00 392.63 L178.35 392.69 L178.71 392.74 L179.06 392.80 L179.41 392.86 L179.76 392.92 L180.12 392.97 L180.47 393.03 L180.82 393.09 L181.18 393.15 L181.53 393.20 L181.88 393.26 L182.24 393.32 L182.59 393.38 L182.94 393.44 L183.30 393.50 L183.65 393.56 L184.00 393.62 L184.36 393.68 L184.71 393.74 L185.06 393.80 L185.41 393.86 L185.77 393.92 L186.12 393.99 L186.47 394.05 L186.83 394.11 L187.18 394.17 L187.53 394.23 L187.89 394.30 L188.24 394.36 L188.59 394.42 L188.95 394.49 L189.30 394.55 L189.65 394.62 L190.01 394.68 L190.36 394.75 L190.71 394.81 L191.06 394.88 L191.42 394.94 L191.77 395.01 L192.12 395.08 L192.48 395.14 L192.83 395.21 L193.18 395.28 L193.54 395.35 L193.89 395.41 L194.24 395.48 L194.60 395.55 L194.95 395.62 L195.30 395.69 L195.66 395.76 L196.01 395.83 L196.36 395.90 L196.71 395.97 L197.07 396.04 L197.42 396.11 L197.77 396.18 L198.13 396.26 L198.48 396.33 L198.83 396.40 L199.19 396.48 L199.54 396.55 L199.89 396.62 L200.25 396.70 L200.60 396.77 L200.95 396.85 L201.31 396.92 L201.66 397.00 L202.01 397.08 L202.36 397.15 L202.72 397.23 L203.07 397.31 L203.42 397.39 L203.78 397.47 L204.13 397.55 L204.48 397.63 L204.84 397.71 L205.19 397.79 L205.54 397.87 L205.90 397.95 L206.25 398.03 L206.60 398.11 L206.96 398.20 L207.31 398.28 L207.66 398.36 L208.01 398.45 L208.37 398.53 L208.72 398.62 L209.07 398.70 L209.43 398.79 L209.78 398.88 L210.13 398.96 L210.49 399.05 L210.84 399.14 L211.19 399.23 L211.55 399.32 L211.90 399.41 L212.25 399.50 L212.61 399.59 L212.96 399.68 L213.31 399.77 L213.66 399.87 L214.02 399.96 L214.37 400.06 L214.72 400.15 L215.08 400.25 L215.43 400.34 L215.78 400.44 L216.14 400.54 L216.49 400.64 L216.84 400.73 L217.20 400.83 L217.55 400.93 L217.90 401.04 L218.26 401.14 L218.61 401.24 L218.96 401.34 L219.31 401.45 L219.67 401.55 L220.02 401.66 L220.37 401.76 L220.73 401.87 L221.08 401.98 L221.43 402.09 L221.79 402.20 L222.14 402.31 L222.49 402.42 L222.85 402.53 L223.20 402.65 L223.55 402.76 L223.91 402.87 L224.26 402.99 L224.61 403.11 L224.96 403.22 L225.32 403.34 L225.67 403.46 L226.02 403.58 L226.38 403.71 L226.73 403.83 L227.08 403.95 L227.44 404.08 L227.79 404.20 L228.14 404.33 L228.50 404.46 L228.85 404.59 L229.20 404.72 L229.56 404.85 L229.91 404.99 L230.26 405.12 L230.61 405.26 L230.97 405.39 L231.32 405.53 L231.67 405.67 L232.03 405.81 L232.38 405.96 L232.73 406.10 L233.09 406.25 L233.44 406.39 L233.79 406.54 L234.15 406.69 L234.50 406.84 L234.85 407.00 L235.21 407.15 L235.56 407.31 L235.91 407.47 L236.26 407.63 L236.62 407.79 L236.97 407.96 L237.32 408.12 L237.68 408.29 L238.03 408.46 L238.38 408.63 L238.74 408.81 L239.09 408.98 L239.44 409.16 L239.80 409.34 L240.15 409.53 L240.50 409.71 L240.86 409.90 L241.21 410.09 L241.56 410.28 L241.91 410.48 L242.27 410.68 L242.62 410.88 L242.97 411.08 L243.33 411.29 L243.68 411.50 L244.03 411.71 L244.39 411.93 L244.74 412.15 L245.09 412.38 L245.45 412.60 L245.80 412.83 L246.15 413.07 L246.51 413.31 L246.86 413.55 L247.21 413.80 L247.56 414.05 L247.92 414.30 L248.27 414.56 L248.62 414.83 L248.98 415.10 L249.33 415.38 L249.68 415.66 L250.04 415.94 L250.39 416.24 L250.74 416.54 L251.10 416.84 L251.45 417.15 L251.80 417.47 L252.16 417.80 L252.51 418.13 L252.86 418.48 L253.21 418.83 L253.57 419.19 L253.92 419.55 L254.27 419.93 L254.63 420.32 L254.98 420.72 L255.33 421.13 L255.69 421.56 L256.04 422.00 L256.39 422.45 L256.75 422.91 L257.10 423.39 L257.45 423.89 L257.81 424.41 L258.16 424.94 L258.51 425.50 L258.86 426.08 L259.22 426.69 L259.57 427.32 L259.92 427.98 L260.28 428.67 L260.63 429.40 L260.98 430.17 L261.34 430.98 L261.69 431.84 L262.04 432.75 L262.40 433.73 L262.75 434.79 L263.10 435.92 L263.46 437.16 L263.81 438.51 L264.16 440.01 L264.51 441.68 L264.87 443.58 L265.22 445.76 L265.57 448.35 L265.93 451.51 L266.28 455.59 L266.63 461.32 L266.99 471.01 L267.34 496.30 L267.69 471.01 L268.05 461.32 L268.40 455.59 L268.75 451.51 L269.11 448.35 L269.46 445.76 L269.81 443.58 L270.16 441.68 L270.52 440.01 L270.87 438.51 L271.22 437.16 L271.58 435.92 L271.93 434.79 L272.28 433.73 L272.64 432.75 L272.99 431.84 L273.34 430.98 L273.70 430.17 L274.05 429.40 L274.40 428.67 L274.76 427.98 L275.11 427.32 L275.46 426.69 L275.81 426.08 L276.17 425.50 L276.52 424.94 L276.87 424.41 L277.23 423.89 L277.58 423.39 L277.93 422.91 L278.29 422.45 L278.64 422.00 L278.99 421.56 L279.35 421.13 L279.70 420.72 L280.05 420.32 L280.41 419.93 L280.76 419.55 L281.11 419.19 L281.46 418.83 L281.82 418.48 L282.17 418.13 L282.52 417.80 L282.88 417.47 L283.23 417.15 L283.58 416.84 L283.94 416.54 L284.29 416.24 L284.64 415.94 L285.00 415.66 L285.35 415.38 L285.70 415.10 L286.06 414.83 L286.41 414.56 L286.76 414.30 L287.11 414.05 L287.47 413.80 L287.82 413.55 L288.17 413.31 L288.53 413.07 L288.88 412.83 L289.23 412.60 L289.59 412.38 L289.94 412.15 L290.29 411.93 L290.65 411.71 L291.00 411.50 L291.35 411.29 L291.71 411.08 L292.06 410.88 L292.41 410.68 L292.76 410.48 L293.12 410.28 L293.47 410.09 L293.82 409.90 L294.18 409.71 L294.53 409.53 L294.88 409.34 L295.24 409.16 L295.59 408.98 L295.94 408.81 L296.30 408.63 L296.65 408.46 L297.00 408.29 L297.36 408.12 L297.71 407.96 L298.06 407.79 L298.41 407.63 L298.77 407.47 L299.12 407.31 L299.47 407.15 L299.83 407.00 L300.18 406.84 L300.53 406.69 L300.89 406.54 L301.24 406.39 L301.59 406.25 L301.95 406.10 L302.30 405.96 L302.65 405.81 L303.01 405.67 L303.36 405.53 L303.71 405.39 L304.06 405.26 L304.42 405.12 L304.77 404.99 L305.12 404.85 L305.48 404.72 L305.83 404.59 L306.18 404.46 L306.54 404.33 L306.89 404.20 L307.24 404.08 L307.60 403.95 L307.95 403.83 L308.30 403.71 L308.66 403.58 L309.01 403.46 L309.36 403.34 L309.71 403.22 L310.07 403.11 L310.42 402.99 L310.77 402.87 L311.13 402.76 L311.48 402.65 L311.83 402.53 L312.19 402.42 L312.54 402.31 L312.89 402.20 L313.25 402.09 L313.60 401.98 L313.95 401.87 L314.31 401.76 L314.66 401.66 L315.01 401.55 L315.36 401.45 L315.72 401.34 L316.07 401.24 L316.42 401.14 L316.78 401.04 L317.13 400.93 L317.48 400.83 L317.84 400.73 L318.19 400.64 L318.54 400.54 L318.90 400.44 L319.25 400.34 L319.60 400.25 L319.96 400.15 L320.31 400.06 L320.66 399.96 L321.01 399.87 L321.37 399.77 L321.72 399.68 L322.07 399.59 L322.43 399.50 L322.78 399.41 L323.13 399.32 L323.49 399.23 L323.84 399.14 L324.19 399.05 L324.55 398.96 L324.90 398.88 L325.25 398.79 L325.61 398.70 L325.96 398.62 L326.31 398.53 L326.66 398.45 L327.02 398.36 L327.37 398.28 L327.72 398.20 L328.08 398.11 L328.43 398.03 L328.78 397.95 L329.14 397.87 L329.49 397.79 L329.84 397.71 L330.20 397.63 L330.55 397.55 L330.90 397.47 L331.26 397.39 L331.61 397.31 L331.96 397.23 L332.31 397.15 L332.67 397.08 L333.02 397.00 L333.37 396.92 L333.73 396.85 L334.08 396.77 L334.43 396.70 L334.79 396.62 L335.14 396.55 L335.49 396.48 L335.85 396.40 L336.20 396.33 L336.55 396.26 L336.91 396.18 L337.26 396.11 L337.61 396.04 L337.96 395.97 L338.32 395.90 L338.67 395.83 L339.02 395.76 L339.38 395.69 L339.73 395.62 L340.08 395.55 L340.44 395.48 L340.79 395.41 L341.14 395.35 L341.50 395.28 L341.85 395.21 L342.20 395.14 L342.56 395.08 L342.91 395.01 L343.26 394.94 L343.61 394.88 L343.97 394.81 L344.32 394.75 L344.67 394.68 L345.03 394.62 L345.38 394.55 L345.73 394.49 L346.09 394.42 L346.44 394.36 L346.79 394.30 L347.15 394.23 L347.50 394.17 L347.85 394.11 L348.21 394.05 L348.56 393.99 L348.91 393.92 L349.26 393.86 L349.62 393.80 L349.97 393.74 L350.32 393.68 L350.68 393.62 L351.03 393.56 L351.38 393.50 L351.74 393.44 L352.09 393.38 L352.44 393.32 L352.80 393.26 L353.15 393.20 L353.50 393.15 L353.86 393.09 L354.21 393.03 L354.56 392.97 L354.91 392.92 L355.27 392.86 L355.62 392.80 L355.97 392.74 L356.33 392.69 L356.68 392.63 L357.03 392.58 L357.39 392.52 L357.74 392.46 L358.09 392.41 L358.45 392.35 L358.80 392.30 L359.15 392.24 L359.51 392.19 L359.86 392.14 L360.21 392.08 L360.56 392.03 L360.92 391.97 L361.27 391.92 L361.62 391.87 L361.98 391.81 L362.33 391.76 L362.68 391.71 L363.04 391.66 L363.39 391.60 L363.74 391.55 L364.10 391.50 L364.45 391.45 L364.80 391.40 L365.16 391.34 L365.51 391.29 L365.86 391.24 L366.21 391.19 L366.57 391.14 L366.92 391.09 L367.27 391.04 L367.63 390.99 L367.98 390.94 L368.33 390.89 L368.69 390.84 L369.04 390.79 L369.39 390.74 L369.75 390.69 L370.10 390.64 L370.45 390.60 L370.81 390.55 L371.16 390.50 L371.51 390.45 L371.86 390.40 L372.22 390.35 L372.57 390.31 L372.92 390.26 L373.28 390.21 L373.63 390.16 L373.98 390.12 L374.34 390.07 L374.69 390.02 L375.04 389.98 L375.40 389.93 L375.75 389.88 L376.10 389.84 L376.46 389.79 L376.81 389.75 L377.16 389.70 L377.51 389.66 L377.87 389.61 L378.22 389.56 L378.57 389.52 L378.93 389.47 L379.28 389.43 L379.63 389.38 L379.99 389.34 L380.34 389.30 L380.69 389.25 L381.05 389.21 L381.40 389.16 L381.75 389.12 L382.11 389.08 L382.46 389.03 L382.81 388.99 L383.16 388.94 L383.52 388.90 L383.80 388.87" stroke="#2020ff" stroke-width="0.75" fill="none" stroke-linejoin="round" stroke-linecap="butt" stroke-dasharray="5.5 4.2"/>
<path d="M101.30 385.87 L101.65 385.90 L102.01 385.94 L102.36 385.97 L102.71 386.01 L103.07 386.05 L103.42 386.08 L103.77 386.12 L104.12 386.16 L104.48 386.19 L104.83 386.23 L105.18 386.27 L105.54 386.30 L105.89 386.34 L106.24 386.38 L106.60 386.41 L106.95 386.45 L107.30 386.49 L107.66 386.53 L108.01 386.56 L108.36 386.60 L108.72 386.64 L109.07 386.68 L109.42 386.71 L109.77 386.75 L110.13 386.79 L110.48 386.83 L110.83 386.87 L111.19 386.90 L111.54 386.94 L111.89 386.98 L112.25 387.02 L112.60 387.06 L112.95 387.10 L113.31 387.14 L113.66 387.18 L114.01 387.22 L114.37 387.26 L114.72 387.29 L115.07 387.33 L115.42 387.37 L115.78 387.41 L116.13 387.45 L116.48 387.49 L116.84 387.53 L117.19 387.57 L117.54 387.61 L117.90 387.66 L118.25 387.70 L118.60 387.74 L118.96 387.78 L119.31 387.82 L119.66 387.86 L120.02 387.90 L120.37 387.94 L120.72 387.98 L121.08 388.03 L121.43 388.07 L121.78 388.11 L122.13 388.15 L122.49 388.19 L122.84 388.23 L123.19 388.28 L123.55 388.32 L123.90 388.36 L124.25 388.40 L124.61 388.45 L124.96 388.49 L125.31 388.53 L125.67 388.58 L126.02 388.62 L126.37 388.66 L126.73 388.71 L127.08 388.75 L127.43 388.79 L127.78 388.84 L128.14 388.88 L128.49 388.93 L128.84 388.97 L129.20 389.02 L129.55 389.06 L129.90 389.11 L130.26 389.15 L130.61 389.20 L130.96 389.24 L131.32 389.29 L131.67 389.33 L132.02 389.38 L132.38 389.42 L132.73 389.47 L133.08 389.52 L133.43 389.56 L133.79 389.61 L134.14 389.66 L134.49 389.70 L134.85 389.75 L135.20 389.80 L135.55 389.84 L135.91 389.89 L136.26 389.94 L136.61 389.99 L136.97 390.03 L137.32 390.08 L137.67 390.13 L138.02 390.18 L138.38 390.23 L138.73 390.28 L139.08 390.32 L139.44 390.37 L139.79 390.42 L140.14 390.47 L140.50 390.52 L140.85 390.57 L141.20 390.62 L141.56 390.67 L141.91 390.72 L142.26 390.77 L142.62 390.82 L142.97 390.87 L143.32 390.92 L143.68 390.98 L144.03 391.03 L144.38 391.08 L144.73 391.13 L145.09 391.18 L145.44 391.23 L145.79 391.29 L146.15 391.34 L146.50 391.39 L146.85 391.44 L147.21 391.50 L147.56 391.55 L147.91 391.60 L148.27 391.66 L148.62 391.71 L148.97 391.77 L149.32 391.82 L149.68 391.87 L150.03 391.93 L150.38 391.98 L150.74 392.04 L151.09 392.09 L151.44 392.15 L151.80 392.21 L152.15 392.26 L152.50 392.32 L152.86 392.37 L153.21 392.43 L153.56 392.49 L153.92 392.54 L154.27 392.60 L154.62 392.66 L154.98 392.72 L155.33 392.78 L155.68 392.83 L156.03 392.89 L156.39 392.95 L156.74 393.01 L157.09 393.07 L157.45 393.13 L157.80 393.19 L158.15 393.25 L158.51 393.31 L158.86 393.37 L159.21 393.43 L159.57 393.49 L159.92 393.55 L160.27 393.61 L160.62 393.68 L160.98 393.74 L161.33 393.80 L161.68 393.86 L162.04 393.93 L162.39 393.99 L162.74 394.05 L163.10 394.12 L163.45 394.18 L163.80 394.24 L164.16 394.31 L164.51 394.37 L164.86 394.44 L165.22 394.50 L165.57 394.57 L165.92 394.64 L166.28 394.70 L166.63 394.77 L166.98 394.84 L167.33 394.90 L167.69 394.97 L168.04 395.04 L168.39 395.11 L168.75 395.18 L169.10 395.25 L169.45 395.32 L169.81 395.39 L170.16 395.46 L170.51 395.53 L170.87 395.60 L171.22 395.67 L171.57 395.74 L171.93 395.81 L172.28 395.88 L172.63 395.96 L172.98 396.03 L173.34 396.10 L173.69 396.18 L174.04 396.25 L174.40 396.32 L174.75 396.40 L175.10 396.47 L175.46 396.55 L175.81 396.63 L176.16 396.70 L176.52 396.78 L176.87 396.86 L177.22 396.93 L177.57 397.01 L177.93 397.09 L178.28 397.17 L178.63 397.25 L178.99 397.33 L179.34 397.41 L179.69 397.49 L180.05 397.57 L180.40 397.65 L180.75 397.74 L181.11 397.82 L181.46 397.90 L181.81 397.99 L182.17 398.07 L182.52 398.15 L182.87 398.24 L183.23 398.33 L183.58 398.41 L183.93 398.50 L184.28 398.59 L184.64 398.67 L184.99 398.76 L185.34 398.85 L185.70 398.94 L186.05 399.03 L186.40 399.12 L186.76 399.21 L187.11 399.30 L187.46 399.40 L187.82 399.49 L188.17 399.58 L188.52 399.68 L188.88 399.77 L189.23 399.87 L189.58 399.96 L189.93 400.06 L190.29 400.16 L190.64 400.26 L190.99 400.36 L191.35 400.45 L191.70 400.55 L192.05 400.66 L192.41 400.76 L192.76 400.86 L193.11 400.96 L193.47 401.07 L193.82 401.17 L194.17 401.28 L194.53 401.38 L194.88 401.49 L195.23 401.60 L195.58 401.71 L195.94 401.82 L196.29 401.93 L196.64 402.04 L197.00 402.15 L197.35 402.26 L197.70 402.38 L198.06 402.49 L198.41 402.61 L198.76 402.72 L199.12 402.84 L199.47 402.96 L199.82 403.08 L200.18 403.20 L200.53 403.32 L200.88 403.44 L201.23 403.57 L201.59 403.69 L201.94 403.82 L202.29 403.95 L202.65 404.08 L203.00 404.20 L203.35 404.34 L203.71 404.47 L204.06 404.60 L204.41 404.73 L204.77 404.87 L205.12 405.01 L205.47 405.15 L205.82 405.29 L206.18 405.43 L206.53 405.57 L206.88 405.71 L207.24 405.86 L207.59 406.00 L207.94 406.15 L208.30 406.30 L208.65 406.45 L209.00 406.61 L209.36 406.76 L209.71 406.92 L210.06 407.08 L210.42 407.24 L210.77 407.40 L211.12 407.56 L211.47 407.73 L211.83 407.90 L212.18 408.07 L212.53 408.24 L212.89 408.41 L213.24 408.59 L213.59 408.77 L213.95 408.95 L214.30 409.13 L214.65 409.31 L215.01 409.50 L215.36 409.69 L215.71 409.88 L216.07 410.08 L216.42 410.28 L216.77 410.48 L217.12 410.68 L217.48 410.89 L217.83 411.10 L218.18 411.31 L218.54 411.53 L218.89 411.75 L219.24 411.97 L219.60 412.20 L219.95 412.43 L220.30 412.66 L220.66 412.90 L221.01 413.14 L221.36 413.39 L221.72 413.64 L222.07 413.89 L222.42 414.15 L222.77 414.42 L223.13 414.69 L223.48 414.96 L223.83 415.24 L224.19 415.53 L224.54 415.82 L224.89 416.12 L225.25 416.42 L225.60 416.73 L225.95 417.05 L226.31 417.37 L226.66 417.71 L227.01 418.05 L227.37 418.40 L227.72 418.75 L228.07 419.12 L228.43 419.50 L228.78 419.88 L229.13 420.28 L229.48 420.69 L229.84 421.11 L230.19 421.55 L230.54 422.00 L230.90 422.46 L231.25 422.94 L231.60 423.43 L231.96 423.94 L232.31 424.48 L232.66 425.03 L233.02 425.60 L233.37 426.20 L233.72 426.83 L234.07 427.48 L234.43 428.17 L234.78 428.89 L235.13 429.65 L235.49 430.45 L235.84 431.30 L236.19 432.21 L236.55 433.17 L236.90 434.21 L237.25 435.33 L237.61 436.55 L237.96 437.87 L238.31 439.34 L238.67 440.97 L239.02 442.82 L239.37 444.94 L239.73 447.44 L240.08 450.47 L240.43 454.34 L240.78 459.66 L241.14 468.27 L241.49 493.71 L241.56 528.70" stroke="#000" stroke-width="1.9" fill="none" stroke-linejoin="round" stroke-linecap="butt"/>
<path d="M243.54 528.70 L243.61 493.71 L243.96 468.27 L244.32 459.66 L244.67 454.34 L245.02 450.47 L245.38 447.44 L245.73 444.94 L246.08 442.82 L246.43 440.97 L246.79 439.34 L247.14 437.87 L247.49 436.55 L247.85 435.33 L248.20 434.21 L248.55 433.17 L248.91 432.21 L249.26 431.30 L249.61 430.45 L249.97 429.65 L250.32 428.89 L250.67 428.17 L251.02 427.48 L251.38 426.83 L251.73 426.20 L252.08 425.60 L252.44 425.03 L252.79 424.48 L253.14 423.94 L253.50 423.43 L253.85 422.94 L254.20 422.46 L254.56 422.00 L254.91 421.55 L255.26 421.11 L255.62 420.69 L255.97 420.28 L256.32 419.88 L256.68 419.50 L257.03 419.12 L257.38 418.75 L257.73 418.40 L258.09 418.05 L258.44 417.71 L258.79 417.37 L259.15 417.05 L259.50 416.73 L259.85 416.42 L260.21 416.12 L260.56 415.82 L260.91 415.53 L261.27 415.24 L261.62 414.96 L261.97 414.69 L262.32 414.42 L262.68 414.15 L263.03 413.89 L263.38 413.64 L263.74 413.39 L264.09 413.14 L264.44 412.90 L264.80 412.66 L265.15 412.43 L265.50 412.20 L265.86 411.97 L266.21 411.75 L266.56 411.53 L266.92 411.31 L267.27 411.10 L267.62 410.89 L267.97 410.68 L268.33 410.48 L268.68 410.28 L269.03 410.08 L269.39 409.88 L269.74 409.69 L270.09 409.50 L270.45 409.31 L270.80 409.13 L271.15 408.95 L271.51 408.77 L271.86 408.59 L272.21 408.41 L272.57 408.24 L272.92 408.07 L273.27 407.90 L273.62 407.73 L273.98 407.56 L274.33 407.40 L274.68 407.24 L275.04 407.08 L275.39 406.92 L275.74 406.76 L276.10 406.61 L276.45 406.45 L276.80 406.30 L277.16 406.15 L277.51 406.00 L277.86 405.86 L278.22 405.71 L278.57 405.57 L278.92 405.43 L279.27 405.29 L279.63 405.15 L279.98 405.01 L280.33 404.87 L280.69 404.73 L281.04 404.60 L281.39 404.47 L281.75 404.34 L282.10 404.20 L282.45 404.08 L282.81 403.95 L283.16 403.82 L283.51 403.69 L283.87 403.57 L284.22 403.44 L284.57 403.32 L284.93 403.20 L285.28 403.08 L285.63 402.96 L285.98 402.84 L286.34 402.72 L286.69 402.61 L287.04 402.49 L287.40 402.38 L287.75 402.26 L288.10 402.15 L288.46 402.04 L288.81 401.93 L289.16 401.82 L289.52 401.71 L289.87 401.60 L290.22 401.49 L290.57 401.38 L290.93 401.28 L291.28 401.17 L291.63 401.07 L291.99 400.96 L292.34 400.86 L292.69 400.76 L293.05 400.66 L293.40 400.55 L293.75 400.45 L294.11 400.36 L294.46 400.26 L294.81 400.16 L295.17 400.06 L295.52 399.96 L295.87 399.87 L296.23 399.77 L296.58 399.68 L296.93 399.58 L297.28 399.49 L297.64 399.40 L297.99 399.30 L298.34 399.21 L298.70 399.12 L299.05 399.03 L299.40 398.94 L299.76 398.85 L300.11 398.76 L300.46 398.67 L300.82 398.59 L301.17 398.50 L301.52 398.41 L301.88 398.33 L302.23 398.24 L302.58 398.15 L302.93 398.07 L303.29 397.99 L303.64 397.90 L303.99 397.82 L304.35 397.74 L304.70 397.65 L305.05 397.57 L305.41 397.49 L305.76 397.41 L306.11 397.33 L306.47 397.25 L306.82 397.17 L307.17 397.09 L307.52 397.01 L307.88 396.93 L308.23 396.86 L308.58 396.78 L308.94 396.70 L309.29 396.63 L309.64 396.55 L310.00 396.47 L310.35 396.40 L310.70 396.32 L311.06 396.25 L311.41 396.18 L311.76 396.10 L312.12 396.03 L312.47 395.96 L312.82 395.88 L313.18 395.81 L313.53 395.74 L313.88 395.67 L314.23 395.60 L314.59 395.53 L314.94 395.46 L315.29 395.39 L315.65 395.32 L316.00 395.25 L316.35 395.18 L316.71 395.11 L317.06 395.04 L317.41 394.97 L317.77 394.90 L318.12 394.84 L318.47 394.77 L318.82 394.70 L319.18 394.64 L319.53 394.57 L319.88 394.50 L320.24 394.44 L320.59 394.37 L320.94 394.31 L321.30 394.24 L321.65 394.18 L322.00 394.12 L322.36 394.05 L322.71 393.99 L323.06 393.93 L323.42 393.86 L323.77 393.80 L324.12 393.74 L324.48 393.68 L324.83 393.61 L325.18 393.55 L325.53 393.49 L325.89 393.43 L326.24 393.37 L326.59 393.31 L326.95 393.25 L327.30 393.19 L327.65 393.13 L328.01 393.07 L328.36 393.01 L328.71 392.95 L329.07 392.89 L329.42 392.83 L329.77 392.78 L330.12 392.72 L330.48 392.66 L330.83 392.60 L331.18 392.54 L331.54 392.49 L331.89 392.43 L332.24 392.37 L332.60 392.32 L332.95 392.26 L333.30 392.21 L333.66 392.15 L334.01 392.09 L334.36 392.04 L334.72 391.98 L335.07 391.93 L335.42 391.87 L335.78 391.82 L336.13 391.77 L336.48 391.71 L336.83 391.66 L337.19 391.60 L337.54 391.55 L337.89 391.50 L338.25 391.44 L338.60 391.39 L338.95 391.34 L339.31 391.29 L339.66 391.23 L340.01 391.18 L340.37 391.13 L340.72 391.08 L341.07 391.03 L341.43 390.98 L341.78 390.92 L342.13 390.87 L342.48 390.82 L342.84 390.77 L343.19 390.72 L343.54 390.67 L343.90 390.62 L344.25 390.57 L344.60 390.52 L344.96 390.47 L345.31 390.42 L345.66 390.37 L346.02 390.32 L346.37 390.28 L346.72 390.23 L347.07 390.18 L347.43 390.13 L347.78 390.08 L348.13 390.03 L348.49 389.99 L348.84 389.94 L349.19 389.89 L349.55 389.84 L349.90 389.80 L350.25 389.75 L350.61 389.70 L350.96 389.66 L351.31 389.61 L351.67 389.56 L352.02 389.52 L352.37 389.47 L352.73 389.42 L353.08 389.38 L353.43 389.33 L353.78 389.29 L354.14 389.24 L354.49 389.20 L354.84 389.15 L355.20 389.11 L355.55 389.06 L355.90 389.02 L356.26 388.97 L356.61 388.93 L356.96 388.88 L357.32 388.84 L357.67 388.79 L358.02 388.75 L358.38 388.71 L358.73 388.66 L359.08 388.62 L359.43 388.58 L359.79 388.53 L360.14 388.49 L360.49 388.45 L360.85 388.40 L361.20 388.36 L361.55 388.32 L361.91 388.28 L362.26 388.23 L362.61 388.19 L362.97 388.15 L363.32 388.11 L363.67 388.07 L364.03 388.03 L364.38 387.98 L364.73 387.94 L365.08 387.90 L365.44 387.86 L365.79 387.82 L366.14 387.78 L366.50 387.74 L366.85 387.70 L367.20 387.66 L367.56 387.61 L367.91 387.57 L368.26 387.53 L368.62 387.49 L368.97 387.45 L369.32 387.41 L369.68 387.37 L370.03 387.33 L370.38 387.29 L370.73 387.26 L371.09 387.22 L371.44 387.18 L371.79 387.14 L372.15 387.10 L372.50 387.06 L372.85 387.02 L373.21 386.98 L373.56 386.94 L373.91 386.90 L374.27 386.87 L374.62 386.83 L374.97 386.79 L375.32 386.75 L375.68 386.71 L376.03 386.68 L376.38 386.64 L376.74 386.60 L377.09 386.56 L377.44 386.53 L377.80 386.49 L378.15 386.45 L378.50 386.41 L378.86 386.38 L379.21 386.34 L379.56 386.30 L379.92 386.27 L380.27 386.23 L380.62 386.19 L380.98 386.16 L381.33 386.12 L381.68 386.08 L382.03 386.05 L382.39 386.01 L382.74 385.97 L383.09 385.94 L383.45 385.90 L383.80 385.87" stroke="#000" stroke-width="1.9" fill="none" stroke-linejoin="round" stroke-linecap="butt"/>
<rect x="101.30" y="310.40" width="282.50" height="218.30" fill="none" stroke="#3c3c3c" stroke-width="1"/>
<path d="M101.30 528.70v-9 M115.42 528.70v-4.5 M129.55 528.70v-4.5 M143.68 528.70v-4.5 M157.80 528.70v-4.5 M171.93 528.70v-9 M186.05 528.70v-4.5 M200.18 528.70v-4.5 M214.30 528.70v-4.5 M228.43 528.70v-4.5 M242.55 528.70v-9 M256.68 528.70v-4.5 M270.80 528.70v-4.5 M284.93 528.70v-4.5 M299.05 528.70v-4.5 M313.18 528.70v-9 M327.30 528.70v-4.5 M341.43 528.70v-4.5 M355.55 528.70v-4.5 M369.68 528.70v-4.5 M383.80 528.70v-9 M101.30 529.00h12 M101.30 519.16h6 M101.30 513.40h6 M101.30 509.31h6 M101.30 506.14h6 M101.30 503.55h6 M101.30 501.37h6 M101.30 499.47h6 M101.30 497.80h6 M101.30 496.30h12 M101.30 486.46h6 M101.30 480.70h6 M101.30 476.61h6 M101.30 473.44h6 M101.30 470.85h6 M101.30 468.67h6 M101.30 466.77h6 M101.30 465.10h6 M101.30 463.60h12 M101.30 453.76h6 M101.30 448.00h6 M101.30 443.91h6 M101.30 440.74h6 M101.30 438.15h6 M101.30 435.97h6 M101.30 434.07h6 M101.30 432.40h6 M101.30 430.90h12 M101.30 421.06h6 M101.30 415.30h6 M101.30 411.21h6 M101.30 408.04h6 M101.30 405.45h6 M101.30 403.27h6 M101.30 401.37h6 M101.30 399.70h6 M101.30 398.20h12 M101.30 388.36h6 M101.30 382.60h6 M101.30 378.51h6 M101.30 375.34h6 M101.30 372.75h6 M101.30 370.57h6 M101.30 368.67h6 M101.30 367.00h6 M101.30 365.50h12 M101.30 355.66h6 M101.30 349.90h6 M101.30 345.81h6 M101.30 342.64h6 M101.30 340.05h6 M101.30 337.87h6 M101.30 335.97h6 M101.30 334.30h6 M101.30 332.80h12 M101.30 322.96h6 M101.30 317.20h6 M101.30 313.11h6" stroke="#444" stroke-width="0.75" fill="none"/>
<path d="M485.10 454.77 L486.87 455.01 L488.63 455.25 L490.40 455.50 L492.16 455.75 L493.93 456.00 L495.69 456.25 L497.46 456.51 L499.23 456.77 L500.99 457.04 L502.76 457.31 L504.52 457.58 L506.29 457.86 L508.05 458.14 L509.82 458.42 L511.58 458.71 L513.35 459.01 L515.12 459.30 L516.88 459.61 L518.65 459.92 L520.41 460.23 L522.18 460.55 L523.94 460.87 L525.71 461.20 L527.48 461.54 L529.24 461.88 L531.01 462.23 L532.77 462.58 L534.54 462.94 L536.30 463.31 L538.07 463.69 L539.83 464.07 L541.60 464.46 L543.37 464.86 L545.13 465.27 L546.90 465.69 L548.66 466.11 L550.43 466.55 L552.19 467.00 L553.96 467.45 L555.73 467.92 L557.49 468.40 L559.26 468.89 L561.02 469.40 L562.79 469.92 L564.55 470.45 L566.32 471.00 L568.08 471.57 L569.85 472.15 L571.62 472.76 L573.38 473.38 L575.15 474.02 L576.91 474.69 L578.68 475.38 L580.44 476.09 L582.21 476.84 L583.98 477.61 L585.74 478.42 L587.51 479.26 L589.27 480.14 L591.04 481.07 L592.80 482.04 L594.57 483.07 L596.33 484.15 L598.10 485.30 L599.87 486.53 L601.63 487.84 L603.40 489.24 L605.16 490.76 L606.93 492.41 L608.69 494.22 L610.46 496.22 L612.23 498.45 L613.99 500.99 L615.76 503.91 L617.52 507.37 L619.29 511.60 L621.05 517.06 L622.82 524.75 L624.58 528.60 L626.35 528.60 L628.12 528.60 L629.88 524.75 L631.65 517.06 L633.41 511.60 L635.18 507.37 L636.94 503.91 L638.71 500.99 L640.48 498.45 L642.24 496.22 L644.01 494.22 L645.77 492.41 L647.54 490.76 L649.30 489.24 L651.07 487.84 L652.83 486.53 L654.60 485.30 L656.37 484.15 L658.13 483.07 L659.90 482.04 L661.66 481.07 L663.43 480.14 L665.19 479.26 L666.96 478.42 L668.73 477.61 L670.49 476.84 L672.26 476.09 L674.02 475.38 L675.79 474.69 L677.55 474.02 L679.32 473.38 L681.08 472.76 L682.85 472.15 L684.62 471.57 L686.38 471.00 L688.15 470.45 L689.91 469.92 L691.68 469.40 L693.44 468.89 L695.21 468.40 L696.98 467.92 L698.74 467.45 L700.51 467.00 L702.27 466.55 L704.04 466.11 L705.80 465.69 L707.57 465.27 L709.33 464.86 L711.10 464.46 L712.87 464.07 L714.63 463.69 L716.40 463.31 L718.16 462.94 L719.93 462.58 L721.69 462.23 L723.46 461.88 L725.23 461.54 L726.99 461.20 L728.76 460.87 L730.52 460.55 L732.29 460.23 L734.05 459.92 L735.82 459.61 L737.58 459.30 L739.35 459.01 L741.12 458.71 L742.88 458.42 L744.65 458.14 L746.41 457.86 L748.18 457.58 L749.94 457.31 L751.71 457.04 L753.48 456.77 L755.24 456.51 L757.01 456.25 L758.77 456.00 L760.54 455.75 L762.30 455.50 L764.07 455.25 L765.83 455.01 L767.60 454.77" stroke="#2020ff" stroke-width="0.75" fill="none" stroke-linejoin="round" stroke-linecap="butt" stroke-dasharray="4.8 5 1.3 5" stroke-opacity="0.8"/>
<path d="M485.10 374.35 L486.87 374.58 L488.63 374.83 L490.40 375.07 L492.16 375.32 L493.93 375.57 L495.69 375.82 L497.46 376.08 L499.23 376.34 L500.99 376.61 L502.76 376.88 L504.52 377.15 L506.29 377.43 L508.05 377.71 L509.82 377.99 L511.58 378.28 L513.35 378.58 L515.12 378.88 L516.88 379.18 L518.65 379.49 L520.41 379.80 L522.18 380.12 L523.94 380.45 L525.71 380.78 L527.48 381.11 L529.24 381.45 L531.01 381.80 L532.77 382.16 L534.54 382.52 L536.30 382.89 L538.07 383.26 L539.83 383.64 L541.60 384.04 L543.37 384.43 L545.13 384.84 L546.90 385.26 L548.66 385.69 L550.43 386.12 L552.19 386.57 L553.96 387.03 L555.73 387.49 L557.49 387.97 L559.26 388.47 L561.02 388.97 L562.79 389.49 L564.55 390.03 L566.32 390.58 L568.08 391.14 L569.85 391.73 L571.62 392.33 L573.38 392.95 L575.15 393.59 L576.91 394.26 L578.68 394.95 L580.44 395.67 L582.21 396.41 L583.98 397.18 L585.74 397.99 L587.51 398.83 L589.27 399.72 L591.04 400.64 L592.80 401.62 L594.57 402.64 L596.33 403.73 L598.10 404.88 L599.87 406.10 L601.63 407.41 L603.40 408.81 L605.16 410.33 L606.93 411.98 L608.69 413.79 L610.46 415.79 L612.23 418.03 L613.99 420.56 L615.76 423.48 L617.52 426.94 L619.29 431.17 L621.05 436.63 L622.82 444.32 L624.58 457.47 L626.35 528.60 L628.12 457.47 L629.88 444.32 L631.65 436.63 L633.41 431.17 L635.18 426.94 L636.94 423.48 L638.71 420.56 L640.48 418.03 L642.24 415.79 L644.01 413.79 L645.77 411.98 L647.54 410.33 L649.30 408.81 L651.07 407.41 L652.83 406.10 L654.60 404.88 L656.37 403.73 L658.13 402.64 L659.90 401.62 L661.66 400.64 L663.43 399.72 L665.19 398.83 L666.96 397.99 L668.73 397.18 L670.49 396.41 L672.26 395.67 L674.02 394.95 L675.79 394.26 L677.55 393.59 L679.32 392.95 L681.08 392.33 L682.85 391.73 L684.62 391.14 L686.38 390.58 L688.15 390.03 L689.91 389.49 L691.68 388.97 L693.44 388.47 L695.21 387.97 L696.98 387.49 L698.74 387.03 L700.51 386.57 L702.27 386.12 L704.04 385.69 L705.80 385.26 L707.57 384.84 L709.33 384.43 L711.10 384.04 L712.87 383.64 L714.63 383.26 L716.40 382.89 L718.16 382.52 L719.93 382.16 L721.69 381.80 L723.46 381.45 L725.23 381.11 L726.99 380.78 L728.76 380.45 L730.52 380.12 L732.29 379.80 L734.05 379.49 L735.82 379.18 L737.58 378.88 L739.35 378.58 L741.12 378.28 L742.88 377.99 L744.65 377.71 L746.41 377.43 L748.18 377.15 L749.94 376.88 L751.71 376.61 L753.48 376.34 L755.24 376.08 L757.01 375.82 L758.77 375.57 L760.54 375.32 L762.30 375.07 L764.07 374.83 L765.83 374.58 L767.60 374.35" stroke="#ff2020" stroke-width="0.75" fill="none" stroke-linejoin="round" stroke-linecap="butt" stroke-dasharray="4.6 4" stroke-opacity="0.8"/>
<path d="M485.10 360.38 L486.87 360.62 L488.63 360.86 L490.40 361.10 L492.16 361.35 L493.93 361.60 L495.69 361.86 L497.46 362.11 L499.23 362.38 L500.99 362.64 L502.76 362.91 L504.52 363.18 L506.29 363.46 L508.05 363.74 L509.82 364.03 L511.58 364.32 L513.35 364.61 L515.12 364.91 L516.88 365.21 L518.65 365.52 L520.41 365.83 L522.18 366.15 L523.94 366.48 L525.71 366.81 L527.48 367.14 L529.24 367.48 L531.01 367.83 L532.77 368.19 L534.54 368.55 L536.30 368.92 L538.07 369.29 L539.83 369.68 L541.60 370.07 L543.37 370.47 L545.13 370.87 L546.90 371.29 L548.66 371.72 L550.43 372.15 L552.19 372.60 L553.96 373.06 L555.73 373.53 L557.49 374.01 L559.26 374.50 L561.02 375.00 L562.79 375.52 L564.55 376.06 L566.32 376.61 L568.08 377.18 L569.85 377.76 L571.62 378.36 L573.38 378.98 L575.15 379.63 L576.91 380.29 L578.68 380.98 L580.44 381.70 L582.21 382.44 L583.98 383.22 L585.74 384.02 L587.51 384.87 L589.27 385.75 L591.04 386.68 L592.80 387.65 L594.57 388.67 L596.33 389.76 L598.10 390.91 L599.87 392.13 L601.63 393.44 L603.40 394.85 L605.16 396.37 L606.93 398.02 L608.69 399.82 L610.46 401.82 L612.23 404.06 L613.99 406.59 L615.76 409.51 L617.52 412.97 L619.29 417.21 L621.05 422.66 L622.82 430.36 L624.58 443.50 L626.35 528.60 L628.12 443.50 L629.88 430.36 L631.65 422.66 L633.41 417.21 L635.18 412.97 L636.94 409.51 L638.71 406.59 L640.48 404.06 L642.24 401.82 L644.01 399.82 L645.77 398.02 L647.54 396.37 L649.30 394.85 L651.07 393.44 L652.83 392.13 L654.60 390.91 L656.37 389.76 L658.13 388.67 L659.90 387.65 L661.66 386.68 L663.43 385.75 L665.19 384.87 L666.96 384.02 L668.73 383.22 L670.49 382.44 L672.26 381.70 L674.02 380.98 L675.79 380.29 L677.55 379.63 L679.32 378.98 L681.08 378.36 L682.85 377.76 L684.62 377.18 L686.38 376.61 L688.15 376.06 L689.91 375.52 L691.68 375.00 L693.44 374.50 L695.21 374.01 L696.98 373.53 L698.74 373.06 L700.51 372.60 L702.27 372.15 L704.04 371.72 L705.80 371.29 L707.57 370.87 L709.33 370.47 L711.10 370.07 L712.87 369.68 L714.63 369.29 L716.40 368.92 L718.16 368.55 L719.93 368.19 L721.69 367.83 L723.46 367.48 L725.23 367.14 L726.99 366.81 L728.76 366.48 L730.52 366.15 L732.29 365.83 L734.05 365.52 L735.82 365.21 L737.58 364.91 L739.35 364.61 L741.12 364.32 L742.88 364.03 L744.65 363.74 L746.41 363.46 L748.18 363.18 L749.94 362.91 L751.71 362.64 L753.48 362.38 L755.24 362.11 L757.01 361.86 L758.77 361.60 L760.54 361.35 L762.30 361.10 L764.07 360.86 L765.83 360.62 L767.60 360.38" stroke="#000" stroke-width="0.75" fill="none" stroke-linejoin="round" stroke-linecap="butt"/>
<path d="M485.10 353.88 L486.87 354.12 L488.63 354.36 L490.40 354.61 L492.16 354.85 L493.93 355.10 L495.69 355.36 L497.46 355.62 L499.23 355.88 L500.99 356.14 L502.76 356.41 L504.52 356.69 L506.29 356.96 L508.05 357.24 L509.82 357.53 L511.58 357.82 L513.35 358.11 L515.12 358.41 L516.88 358.72 L518.65 359.02 L520.41 359.34 L522.18 359.66 L523.94 359.98 L525.71 360.31 L527.48 360.65 L529.24 360.99 L531.01 361.34 L532.77 361.69 L534.54 362.05 L536.30 362.42 L538.07 362.80 L539.83 363.18 L541.60 363.57 L543.37 363.97 L545.13 364.38 L546.90 364.79 L548.66 365.22 L550.43 365.66 L552.19 366.10 L553.96 366.56 L555.73 367.03 L557.49 367.51 L559.26 368.00 L561.02 368.51 L562.79 369.03 L564.55 369.56 L566.32 370.11 L568.08 370.68 L569.85 371.26 L571.62 371.86 L573.38 372.49 L575.15 373.13 L576.91 373.80 L578.68 374.49 L580.44 375.20 L582.21 375.94 L583.98 376.72 L585.74 377.53 L587.51 378.37 L589.27 379.25 L591.04 380.18 L592.80 381.15 L594.57 382.18 L596.33 383.26 L598.10 384.41 L599.87 385.64 L601.63 386.94 L603.40 388.35 L605.16 389.87 L606.93 391.52 L608.69 393.33 L610.46 395.33 L612.23 397.56 L613.99 400.09 L615.76 403.02 L617.52 406.48 L619.29 410.71 L621.05 416.17 L622.82 423.86 L624.58 437.01 L626.35 528.60 L628.12 437.01 L629.88 423.86 L631.65 416.17 L633.41 410.71 L635.18 406.48 L636.94 403.02 L638.71 400.09 L640.48 397.56 L642.24 395.33 L644.01 393.33 L645.77 391.52 L647.54 389.87 L649.30 388.35 L651.07 386.94 L652.83 385.64 L654.60 384.41 L656.37 383.26 L658.13 382.18 L659.90 381.15 L661.66 380.18 L663.43 379.25 L665.19 378.37 L666.96 377.53 L668.73 376.72 L670.49 375.94 L672.26 375.20 L674.02 374.49 L675.79 373.80 L677.55 373.13 L679.32 372.49 L681.08 371.86 L682.85 371.26 L684.62 370.68 L686.38 370.11 L688.15 369.56 L689.91 369.03 L691.68 368.51 L693.44 368.00 L695.21 367.51 L696.98 367.03 L698.74 366.56 L700.51 366.10 L702.27 365.66 L704.04 365.22 L705.80 364.79 L707.57 364.38 L709.33 363.97 L711.10 363.57 L712.87 363.18 L714.63 362.80 L716.40 362.42 L718.16 362.05 L719.93 361.69 L721.69 361.34 L723.46 360.99 L725.23 360.65 L726.99 360.31 L728.76 359.98 L730.52 359.66 L732.29 359.34 L734.05 359.02 L735.82 358.72 L737.58 358.41 L739.35 358.11 L741.12 357.82 L742.88 357.53 L744.65 357.24 L746.41 356.96 L748.18 356.69 L749.94 356.41 L751.71 356.14 L753.48 355.88 L755.24 355.62 L757.01 355.36 L758.77 355.10 L760.54 354.85 L762.30 354.61 L764.07 354.36 L765.83 354.12 L767.60 353.88" stroke="#000" stroke-width="1.9" fill="none" stroke-linejoin="round" stroke-linecap="butt"/>
<path d="M485.10 418.59 L486.87 418.83 L488.63 419.07 L490.40 419.32 L492.16 419.56 L493.93 419.82 L495.69 420.07 L497.46 420.33 L499.23 420.59 L500.99 420.86 L502.76 421.12 L504.52 421.40 L506.29 421.67 L508.05 421.96 L509.82 422.24 L511.58 422.53 L513.35 422.82 L515.12 423.12 L516.88 423.43 L518.65 423.74 L520.41 424.05 L522.18 424.37 L523.94 424.69 L525.71 425.02 L527.48 425.36 L529.24 425.70 L531.01 426.05 L532.77 426.40 L534.54 426.76 L536.30 427.13 L538.07 427.51 L539.83 427.89 L541.60 428.28 L543.37 428.68 L545.13 429.09 L546.90 429.51 L548.66 429.93 L550.43 430.37 L552.19 430.81 L553.96 431.27 L555.73 431.74 L557.49 432.22 L559.26 432.71 L561.02 433.22 L562.79 433.74 L564.55 434.27 L566.32 434.82 L568.08 435.39 L569.85 435.97 L571.62 436.58 L573.38 437.20 L575.15 437.84 L576.91 438.51 L578.68 439.20 L580.44 439.91 L582.21 440.66 L583.98 441.43 L585.74 442.24 L587.51 443.08 L589.27 443.96 L591.04 444.89 L592.80 445.86 L594.57 446.89 L596.33 447.97 L598.10 449.12 L599.87 450.35 L601.63 451.66 L603.40 453.06 L605.16 454.58 L606.93 456.23 L608.69 458.04 L610.46 460.04 L612.23 462.27 L613.99 464.80 L615.76 467.73 L617.52 471.19 L619.29 475.42 L621.05 480.88 L622.82 488.57 L624.58 501.72 L626.35 528.60 L628.12 501.72 L629.88 488.57 L631.65 480.88 L633.41 475.42 L635.18 471.19 L636.94 467.73 L638.71 464.80 L640.48 462.27 L642.24 460.04 L644.01 458.04 L645.77 456.23 L647.54 454.58 L649.30 453.06 L651.07 451.66 L652.83 450.35 L654.60 449.12 L656.37 447.97 L658.13 446.89 L659.90 445.86 L661.66 444.89 L663.43 443.96 L665.19 443.08 L666.96 442.24 L668.73 441.43 L670.49 440.66 L672.26 439.91 L674.02 439.20 L675.79 438.51 L677.55 437.84 L679.32 437.20 L681.08 436.58 L682.85 435.97 L684.62 435.39 L686.38 434.82 L688.15 434.27 L689.91 433.74 L691.68 433.22 L693.44 432.71 L695.21 432.22 L696.98 431.74 L698.74 431.27 L700.51 430.81 L702.27 430.37 L704.04 429.93 L705.80 429.51 L707.57 429.09 L709.33 428.68 L711.10 428.28 L712.87 427.89 L714.63 427.51 L716.40 427.13 L718.16 426.76 L719.93 426.40 L721.69 426.05 L723.46 425.70 L725.23 425.36 L726.99 425.02 L728.76 424.69 L730.52 424.37 L732.29 424.05 L734.05 423.74 L735.82 423.43 L737.58 423.12 L739.35 422.82 L741.12 422.53 L742.88 422.24 L744.65 421.96 L746.41 421.67 L748.18 421.40 L749.94 421.12 L751.71 420.86 L753.48 420.59 L755.24 420.33 L757.01 420.07 L758.77 419.82 L760.54 419.56 L762.30 419.32 L764.07 419.07 L765.83 418.83 L767.60 418.59" stroke="#ff00ff" stroke-width="1.8" fill="none" stroke-linejoin="round" stroke-linecap="butt" stroke-dasharray="1.6 2.6"/>
<rect x="485.10" y="310.20" width="282.50" height="218.40" fill="none" stroke="#3c3c3c" stroke-width="1"/>
<path d="M485.10 528.60v-9 M499.23 528.60v-4.5 M513.35 528.60v-4.5 M527.48 528.60v-4.5 M541.60 528.60v-4.5 M555.73 528.60v-9 M569.85 528.60v-4.5 M583.98 528.60v-4.5 M598.10 528.60v-4.5 M612.23 528.60v-4.5 M626.35 528.60v-9 M640.48 528.60v-4.5 M654.60 528.60v-4.5 M668.73 528.60v-4.5 M682.85 528.60v-4.5 M696.98 528.60v-9 M711.10 528.60v-4.5 M725.23 528.60v-4.5 M739.35 528.60v-4.5 M753.48 528.60v-4.5 M767.60 528.60v-9 M485.10 528.60h12 M485.10 515.45h6 M485.10 507.76h6 M485.10 502.30h6 M485.10 498.07h6 M485.10 494.61h6 M485.10 491.69h6 M485.10 489.15h6 M485.10 486.92h6 M485.10 484.92h12 M485.10 471.77h6 M485.10 464.08h6 M485.10 458.62h6 M485.10 454.39h6 M485.10 450.93h6 M485.10 448.01h6 M485.10 445.47h6 M485.10 443.24h6 M485.10 441.24h12 M485.10 428.09h6 M485.10 420.40h6 M485.10 414.94h6 M485.10 410.71h6 M485.10 407.25h6 M485.10 404.33h6 M485.10 401.79h6 M485.10 399.56h6 M485.10 397.56h12 M485.10 384.41h6 M485.10 376.72h6 M485.10 371.26h6 M485.10 367.03h6 M485.10 363.57h6 M485.10 360.65h6 M485.10 358.11h6 M485.10 355.88h6 M485.10 353.88h12 M485.10 340.73h6 M485.10 333.04h6 M485.10 327.58h6 M485.10 323.35h6 M485.10 319.89h6 M485.10 316.97h6 M485.10 314.43h6 M485.10 312.20h6 M485.10 310.20h12" stroke="#444" stroke-width="0.75" fill="none"/>
<path d="M101.30 747.05 L102.78 747.39 L104.55 747.80 L106.31 748.21 L108.08 748.64 L109.85 749.07 L111.61 749.52 L113.38 749.98 L115.14 750.44 L116.91 750.92 L118.67 751.42 L120.44 751.92 L122.21 752.44 L123.97 752.97 L125.74 753.52 L127.50 754.09 L129.27 754.67 L131.03 755.27 L132.80 755.89 L134.56 756.54 L136.33 757.20 L138.10 757.89 L139.86 758.60 L141.63 759.35 L143.39 760.12 L145.16 760.93 L146.92 761.77 L148.69 762.65 L150.45 763.57 L152.22 764.55 L153.99 765.57 L155.75 766.65 L157.52 767.80 L159.28 769.02 L161.05 770.33 L162.81 771.74 L164.58 773.25 L166.35 774.90 L168.11 776.71 L169.88 778.70 L171.64 780.93 L173.41 783.46 L175.17 786.38 L176.94 789.84 L178.70 794.06 L180.47 799.51 L182.24 807.19 L184.00 809.00 L185.77 809.00 L187.53 809.00 L189.30 805.47 L191.06 797.79 L192.83 792.34 L194.60 788.11 L196.36 784.66 L198.13 781.74 L199.89 779.21 L201.66 776.97 L203.42 774.98 L205.19 773.17 L206.95 771.52 L208.72 770.01 L210.49 768.60 L212.25 767.30 L214.02 766.07 L215.78 764.93 L217.55 763.84 L219.31 762.82 L221.08 761.85 L222.85 760.92 L224.61 760.04 L226.38 759.20 L228.14 758.39 L229.91 757.62 L231.67 756.88 L233.44 756.16 L235.20 755.47 L236.97 754.81 L238.74 754.17 L240.50 753.55 L242.27 752.94 L244.03 752.36 L245.80 751.80 L247.56 751.25 L249.33 750.71 L251.10 750.19 L252.86 749.69 L254.63 749.20 L256.39 748.72 L258.16 748.25 L259.92 747.79 L261.69 747.35 L263.46 746.91 L265.22 746.49 L266.99 746.07 L268.75 745.66 L270.52 745.26 L272.28 744.87 L274.05 744.49 L275.81 744.11 L277.58 743.75 L279.35 743.39 L281.11 743.03 L282.88 742.68 L284.64 742.34 L286.41 742.01 L288.17 741.68 L289.94 741.35 L291.70 741.04 L293.47 740.72 L295.24 740.41 L297.00 740.11 L298.77 739.81 L300.53 739.52 L302.30 739.23 L304.06 738.94 L305.83 738.66 L307.60 738.39 L309.36 738.12 L311.13 737.85 L312.89 737.58 L314.66 737.32 L316.42 737.06 L318.19 736.81 L319.95 736.56 L321.72 736.31 L323.49 736.07 L325.25 735.82 L327.02 735.59 L328.78 735.35 L330.55 735.12 L332.31 734.89 L334.08 734.66 L335.85 734.44 L337.61 734.22 L339.38 734.00 L341.14 733.78 L342.91 733.57 L344.67 733.35 L346.44 733.14 L348.20 732.94 L349.97 732.73 L351.74 732.53 L353.50 732.33 L355.27 732.13 L357.03 731.94 L358.80 731.74 L360.56 731.55 L362.33 731.36 L364.10 731.17 L365.86 730.98 L367.63 730.80 L369.39 730.62 L371.16 730.43 L372.92 730.25 L374.69 730.08 L376.45 729.90 L378.22 729.73 L379.99 729.55 L381.75 729.38 L383.52 729.21 L383.80 729.18" stroke="#2020ff" stroke-width="0.75" fill="none" stroke-linejoin="round" stroke-linecap="butt" stroke-dasharray="4.8 5 1.3 5" stroke-opacity="0.8"/>
<path d="M101.30 684.89 L102.01 685.37 L102.71 685.86 L103.42 686.37 L104.13 686.89 L104.83 687.42 L105.54 687.97 L106.24 688.53 L106.95 689.12 L107.66 689.72 L108.36 690.34 L109.07 690.98 L109.78 691.64 L110.48 692.33 L111.19 693.04 L111.89 693.79 L112.60 694.56 L113.31 695.36 L114.01 696.20 L114.72 697.08 L115.43 698.01 L116.13 698.98 L116.84 700.00 L117.54 701.08 L118.25 702.22 L118.96 703.44 L119.66 704.74 L120.37 706.14 L121.08 707.65 L121.78 709.28 L122.49 711.07 L123.19 713.05 L123.90 715.25 L124.61 717.74 L125.31 720.60 L126.02 723.95 L126.73 728.00 L127.43 733.06 L128.14 739.73 L128.84 748.70 L129.55 755.78 L130.26 748.70 L130.96 739.73 L131.67 733.06 L132.38 728.00 L133.08 723.95 L133.79 720.60 L134.49 717.74 L135.20 715.25 L135.91 713.05 L136.61 711.07 L137.32 709.28 L138.03 707.65 L138.73 706.14 L139.44 704.74 L140.14 703.44 L140.85 702.22 L141.56 701.08 L142.26 700.00 L142.97 698.98 L143.68 698.01 L144.38 697.08 L145.09 696.20 L145.79 695.36 L146.50 694.56 L147.21 693.79 L147.91 693.04 L148.62 692.33 L149.33 691.64 L150.03 690.98 L150.74 690.34 L151.44 689.72 L152.15 689.12 L152.86 688.53 L153.56 687.97 L154.27 687.42 L154.98 686.89 L155.68 686.37 L156.39 685.86 L157.09 685.37 L157.80 684.89 L158.51 684.42 L159.21 683.97 L159.92 683.52 L160.63 683.09 L161.33 682.66 L162.04 682.25 L162.74 681.84 L163.45 681.44 L164.16 681.05 L164.86 680.67 L165.57 680.29 L166.28 679.92 L166.98 679.56 L167.69 679.21 L168.39 678.86 L169.10 678.52 L169.81 678.18 L170.51 677.86 L171.22 677.53 L171.93 677.21 L172.63 676.90 L173.34 676.59 L174.04 676.29 L174.75 675.99 L175.46 675.70 L176.16 675.41 L176.87 675.12 L177.58 674.84 L178.28 674.57 L178.99 674.29 L179.69 674.03 L180.40 673.76 L181.11 673.50 L181.81 673.24 L182.52 672.99 L183.23 672.74 L183.93 672.49 L184.64 672.24 L185.34 672.00 L186.05 671.76 L186.76 671.53 L187.46 671.30 L188.17 671.07 L188.88 670.84 L189.58 670.62 L190.29 670.39 L190.99 670.18 L191.70 669.96 L192.41 669.75 L193.11 669.53 L193.82 669.32 L194.53 669.12 L195.23 668.91 L195.94 668.71 L196.64 668.51 L197.35 668.31 L198.06 668.11 L198.76 667.92 L199.47 667.73 L200.18 667.54 L200.88 667.35 L201.59 667.16 L202.29 666.98 L203.00 666.79 L203.71 666.61 L204.41 666.43 L205.12 666.26 L205.83 666.08 L206.53 665.91 L207.24 665.73 L207.94 665.56 L208.65 665.39 L209.36 665.22 L210.06 665.06 L210.77 664.89 L211.48 664.73 L212.18 664.56 L212.89 664.40 L213.59 664.24 L214.30 664.08 L215.01 663.93 L215.71 663.77 L216.42 663.62 L217.13 663.46 L217.83 663.31 L218.54 663.16 L219.24 663.01 L219.95 662.86 L220.66 662.71 L221.36 662.57 L222.07 662.42 L222.78 662.28 L223.48 662.14 L224.19 661.99 L224.89 661.85 L225.60 661.71 L226.31 661.57 L227.01 661.44 L227.72 661.30 L228.43 661.16 L229.13 661.03 L229.84 660.90 L230.54 660.76 L231.25 660.63 L231.96 660.50 L232.66 660.37 L233.37 660.24 L234.08 660.11 L234.78 659.98 L235.49 659.86 L236.19 659.73 L236.90 659.61 L237.61 659.48 L238.31 659.36 L239.02 659.24 L239.73 659.11 L240.43 658.99 L241.14 658.87 L241.84 658.75 L242.55 658.63 L243.26 658.52 L243.96 658.40 L244.67 658.28 L245.38 658.17 L246.08 658.05 L246.79 657.94 L247.49 657.82 L248.20 657.71 L248.91 657.60 L249.61 657.49 L250.32 657.38 L251.03 657.26 L251.73 657.15 L252.44 657.05 L253.14 656.94 L253.85 656.83 L254.56 656.72 L255.26 656.62 L255.97 656.51 L256.68 656.40 L257.38 656.30 L258.09 656.19 L258.79 656.09 L259.50 655.99 L260.21 655.88 L260.91 655.78 L261.62 655.68 L262.33 655.58 L263.03 655.48 L263.74 655.38 L264.44 655.28 L265.15 655.18 L265.86 655.08 L266.56 654.98 L267.27 654.89 L267.98 654.79 L268.68 654.69 L269.39 654.60 L270.09 654.50 L270.80 654.41 L271.51 654.31 L272.21 654.22 L272.92 654.13 L273.63 654.03 L274.33 653.94 L275.04 653.85 L275.74 653.76 L276.45 653.66 L277.16 653.57 L277.86 653.48 L278.57 653.39 L279.28 653.30 L279.98 653.21 L280.69 653.13 L281.39 653.04 L282.10 652.95 L282.81 652.86 L283.51 652.78 L284.22 652.69 L284.93 652.60 L285.63 652.52 L286.34 652.43 L287.04 652.35 L287.75 652.26 L288.46 652.18 L289.16 652.09 L289.87 652.01 L290.58 651.93 L291.28 651.84 L291.99 651.76 L292.69 651.68 L293.40 651.60 L294.11 651.51 L294.81 651.43 L295.52 651.35 L296.23 651.27 L296.93 651.19 L297.64 651.11 L298.34 651.03 L299.05 650.95 L299.76 650.87 L300.46 650.80 L301.17 650.72 L301.88 650.64 L302.58 650.56 L303.29 650.49 L303.99 650.41 L304.70 650.33 L305.41 650.26 L306.11 650.18 L306.82 650.10 L307.52 650.03 L308.23 649.95 L308.94 649.88 L309.64 649.81 L310.35 649.73 L311.06 649.66 L311.76 649.58 L312.47 649.51 L313.17 649.44 L313.88 649.36 L314.59 649.29 L315.29 649.22 L316.00 649.15 L316.71 649.08 L317.41 649.01 L318.12 648.93 L318.82 648.86 L319.53 648.79 L320.24 648.72 L320.94 648.65 L321.65 648.58 L322.36 648.51 L323.06 648.44 L323.77 648.37 L324.47 648.31 L325.18 648.24 L325.89 648.17 L326.59 648.10 L327.30 648.03 L328.01 647.97 L328.71 647.90 L329.42 647.83 L330.12 647.76 L330.83 647.70 L331.54 647.63 L332.24 647.57 L332.95 647.50 L333.66 647.43 L334.36 647.37 L335.07 647.30 L335.77 647.24 L336.48 647.17 L337.19 647.11 L337.89 647.04 L338.60 646.98 L339.31 646.92 L340.01 646.85 L340.72 646.79 L341.42 646.73 L342.13 646.66 L342.84 646.60 L343.54 646.54 L344.25 646.48 L344.96 646.41 L345.66 646.35 L346.37 646.29 L347.07 646.23 L347.78 646.17 L348.49 646.11 L349.19 646.04 L349.90 645.98 L350.61 645.92 L351.31 645.86 L352.02 645.80 L352.72 645.74 L353.43 645.68 L354.14 645.62 L354.84 645.56 L355.55 645.50 L356.26 645.44 L356.96 645.39 L357.67 645.33 L358.37 645.27 L359.08 645.21 L359.79 645.15 L360.49 645.09 L361.20 645.04 L361.91 644.98 L362.61 644.92 L363.32 644.86 L364.02 644.81 L364.73 644.75 L365.44 644.69 L366.14 644.64 L366.85 644.58 L367.56 644.52 L368.26 644.47 L368.97 644.41 L369.68 644.36 L370.38 644.30 L371.09 644.24 L371.79 644.19 L372.50 644.13 L373.21 644.08 L373.91 644.02 L374.62 643.97 L375.33 643.91 L376.03 643.86 L376.74 643.81 L377.44 643.75 L378.15 643.70 L378.86 643.64 L379.56 643.59 L380.27 643.54 L380.98 643.48 L381.68 643.43 L382.39 643.38 L383.09 643.33 L383.80 643.27" stroke="#ff2020" stroke-width="0.75" fill="none" stroke-linejoin="round" stroke-linecap="butt" stroke-dasharray="4.6 4" stroke-opacity="0.8"/>
<path d="M101.30 640.39 L101.65 640.44 L102.01 640.48 L102.36 640.53 L102.71 640.58 L103.07 640.63 L103.42 640.68 L103.77 640.73 L104.12 640.78 L104.48 640.83 L104.83 640.88 L105.18 640.94 L105.54 640.99 L105.89 641.04 L106.24 641.09 L106.60 641.14 L106.95 641.19 L107.30 641.24 L107.66 641.29 L108.01 641.35 L108.36 641.40 L108.72 641.45 L109.07 641.50 L109.42 641.55 L109.77 641.61 L110.13 641.66 L110.48 641.71 L110.83 641.76 L111.19 641.82 L111.54 641.87 L111.89 641.92 L112.25 641.98 L112.60 642.03 L112.95 642.08 L113.31 642.14 L113.66 642.19 L114.01 642.24 L114.37 642.30 L114.72 642.35 L115.07 642.41 L115.42 642.46 L115.78 642.52 L116.13 642.57 L116.48 642.63 L116.84 642.68 L117.19 642.74 L117.54 642.79 L117.90 642.85 L118.25 642.90 L118.60 642.96 L118.96 643.02 L119.31 643.07 L119.66 643.13 L120.02 643.18 L120.37 643.24 L120.72 643.30 L121.08 643.36 L121.43 643.41 L121.78 643.47 L122.13 643.53 L122.49 643.59 L122.84 643.64 L123.19 643.70 L123.55 643.76 L123.90 643.82 L124.25 643.88 L124.61 643.94 L124.96 643.99 L125.31 644.05 L125.67 644.11 L126.02 644.17 L126.37 644.23 L126.73 644.29 L127.08 644.35 L127.43 644.41 L127.78 644.47 L128.14 644.53 L128.49 644.59 L128.84 644.65 L129.20 644.72 L129.55 644.78 L129.90 644.84 L130.26 644.90 L130.61 644.96 L130.96 645.02 L131.32 645.09 L131.67 645.15 L132.02 645.21 L132.38 645.27 L132.73 645.34 L133.08 645.40 L133.43 645.46 L133.79 645.53 L134.14 645.59 L134.49 645.66 L134.85 645.72 L135.20 645.78 L135.55 645.85 L135.91 645.91 L136.26 645.98 L136.61 646.04 L136.97 646.11 L137.32 646.18 L137.67 646.24 L138.02 646.31 L138.38 646.37 L138.73 646.44 L139.08 646.51 L139.44 646.57 L139.79 646.64 L140.14 646.71 L140.50 646.78 L140.85 646.85 L141.20 646.91 L141.56 646.98 L141.91 647.05 L142.26 647.12 L142.62 647.19 L142.97 647.26 L143.32 647.33 L143.68 647.40 L144.03 647.47 L144.38 647.54 L144.73 647.61 L145.09 647.68 L145.44 647.75 L145.79 647.82 L146.15 647.89 L146.50 647.97 L146.85 648.04 L147.21 648.11 L147.56 648.18 L147.91 648.26 L148.27 648.33 L148.62 648.40 L148.97 648.48 L149.32 648.55 L149.68 648.63 L150.03 648.70 L150.38 648.78 L150.74 648.85 L151.09 648.93 L151.44 649.00 L151.80 649.08 L152.15 649.15 L152.50 649.23 L152.86 649.31 L153.21 649.39 L153.56 649.46 L153.92 649.54 L154.27 649.62 L154.62 649.70 L154.98 649.78 L155.33 649.86 L155.68 649.94 L156.03 650.01 L156.39 650.09 L156.74 650.18 L157.09 650.26 L157.45 650.34 L157.80 650.42 L158.15 650.50 L158.51 650.58 L158.86 650.67 L159.21 650.75 L159.57 650.83 L159.92 650.91 L160.27 651.00 L160.62 651.08 L160.98 651.17 L161.33 651.25 L161.68 651.34 L162.04 651.42 L162.39 651.51 L162.74 651.60 L163.10 651.68 L163.45 651.77 L163.80 651.86 L164.16 651.95 L164.51 652.03 L164.86 652.12 L165.22 652.21 L165.57 652.30 L165.92 652.39 L166.28 652.48 L166.63 652.57 L166.98 652.66 L167.33 652.76 L167.69 652.85 L168.04 652.94 L168.39 653.03 L168.75 653.13 L169.10 653.22 L169.45 653.32 L169.81 653.41 L170.16 653.51 L170.51 653.60 L170.87 653.70 L171.22 653.79 L171.57 653.89 L171.93 653.99 L172.28 654.09 L172.63 654.19 L172.98 654.29 L173.34 654.39 L173.69 654.49 L174.04 654.59 L174.40 654.69 L174.75 654.79 L175.10 654.89 L175.46 654.99 L175.81 655.10 L176.16 655.20 L176.52 655.31 L176.87 655.41 L177.22 655.52 L177.57 655.62 L177.93 655.73 L178.28 655.84 L178.63 655.94 L178.99 656.05 L179.34 656.16 L179.69 656.27 L180.05 656.38 L180.40 656.49 L180.75 656.61 L181.11 656.72 L181.46 656.83 L181.81 656.94 L182.17 657.06 L182.52 657.17 L182.87 657.29 L183.23 657.41 L183.58 657.52 L183.93 657.64 L184.28 657.76 L184.64 657.88 L184.99 658.00 L185.34 658.12 L185.70 658.24 L186.05 658.36 L186.40 658.48 L186.76 658.61 L187.11 658.73 L187.46 658.86 L187.82 658.98 L188.17 659.11 L188.52 659.24 L188.88 659.37 L189.23 659.50 L189.58 659.63 L189.93 659.76 L190.29 659.89 L190.64 660.02 L190.99 660.16 L191.35 660.29 L191.70 660.43 L192.05 660.56 L192.41 660.70 L192.76 660.84 L193.11 660.98 L193.47 661.12 L193.82 661.26 L194.17 661.41 L194.53 661.55 L194.88 661.70 L195.23 661.84 L195.58 661.99 L195.94 662.14 L196.29 662.29 L196.64 662.44 L197.00 662.59 L197.35 662.74 L197.70 662.90 L198.06 663.05 L198.41 663.21 L198.76 663.37 L199.12 663.53 L199.47 663.69 L199.82 663.85 L200.18 664.01 L200.53 664.18 L200.88 664.34 L201.23 664.51 L201.59 664.68 L201.94 664.85 L202.29 665.02 L202.65 665.20 L203.00 665.37 L203.35 665.55 L203.71 665.73 L204.06 665.91 L204.41 666.09 L204.77 666.27 L205.12 666.46 L205.47 666.64 L205.82 666.83 L206.18 667.02 L206.53 667.22 L206.88 667.41 L207.24 667.61 L207.59 667.81 L207.94 668.01 L208.30 668.21 L208.65 668.42 L209.00 668.62 L209.36 668.83 L209.71 669.04 L210.06 669.26 L210.42 669.47 L210.77 669.69 L211.12 669.92 L211.47 670.14 L211.83 670.37 L212.18 670.60 L212.53 670.83 L212.89 671.06 L213.24 671.30 L213.59 671.54 L213.95 671.79 L214.30 672.03 L214.65 672.28 L215.01 672.54 L215.36 672.80 L215.71 673.06 L216.07 673.32 L216.42 673.59 L216.77 673.86 L217.12 674.14 L217.48 674.42 L217.83 674.70 L218.18 674.99 L218.54 675.28 L218.89 675.58 L219.24 675.88 L219.60 676.19 L219.95 676.50 L220.30 676.81 L220.66 677.14 L221.01 677.46 L221.36 677.80 L221.72 678.14 L222.07 678.48 L222.42 678.83 L222.77 679.19 L223.13 679.56 L223.48 679.93 L223.83 680.31 L224.19 680.70 L224.54 681.09 L224.89 681.50 L225.25 681.91 L225.60 682.33 L225.95 682.76 L226.31 683.20 L226.66 683.65 L227.01 684.12 L227.37 684.59 L227.72 685.08 L228.07 685.58 L228.43 686.09 L228.78 686.61 L229.13 687.16 L229.48 687.71 L229.84 688.29 L230.19 688.88 L230.54 689.49 L230.90 690.12 L231.25 690.77 L231.60 691.45 L231.96 692.15 L232.31 692.88 L232.66 693.63 L233.02 694.42 L233.37 695.24 L233.72 696.10 L234.07 697.00 L234.43 697.95 L234.78 698.94 L235.13 699.99 L235.49 701.10 L235.84 702.28 L236.19 703.53 L236.55 704.88 L236.90 706.33 L237.25 707.90 L237.61 709.60 L237.96 711.48 L238.31 713.57 L238.67 715.91 L239.02 718.59 L239.37 721.70 L239.73 725.43 L240.08 730.07 L240.43 736.24 L240.78 745.44 L241.14 764.02 L241.35 809.00" stroke="#000" stroke-width="0.75" fill="none" stroke-linejoin="round" stroke-linecap="butt"/>
<path d="M243.75 809.00 L243.96 764.03 L244.32 745.45 L244.67 736.26 L245.02 730.10 L245.38 725.45 L245.73 721.73 L246.08 718.62 L246.43 715.95 L246.79 713.61 L247.14 711.52 L247.49 709.65 L247.85 707.94 L248.20 706.38 L248.55 704.93 L248.91 703.59 L249.26 702.34 L249.61 701.16 L249.97 700.05 L250.32 699.01 L250.67 698.02 L251.02 697.08 L251.38 696.18 L251.73 695.33 L252.08 694.51 L252.44 693.72 L252.79 692.97 L253.14 692.24 L253.50 691.55 L253.85 690.87 L254.20 690.23 L254.56 689.60 L254.91 688.99 L255.26 688.40 L255.62 687.83 L255.97 687.28 L256.32 686.74 L256.68 686.22 L257.03 685.71 L257.38 685.21 L257.73 684.73 L258.09 684.26 L258.44 683.80 L258.79 683.35 L259.15 682.91 L259.50 682.48 L259.85 682.06 L260.21 681.66 L260.56 681.25 L260.91 680.86 L261.27 680.48 L261.62 680.10 L261.97 679.73 L262.32 679.37 L262.68 679.02 L263.03 678.67 L263.38 678.32 L263.74 677.99 L264.09 677.66 L264.44 677.33 L264.80 677.01 L265.15 676.70 L265.50 676.39 L265.86 676.09 L266.21 675.79 L266.56 675.50 L266.92 675.21 L267.27 674.92 L267.62 674.64 L267.97 674.36 L268.33 674.09 L268.68 673.82 L269.03 673.56 L269.39 673.30 L269.74 673.04 L270.09 672.79 L270.45 672.54 L270.80 672.29 L271.15 672.04 L271.51 671.80 L271.86 671.56 L272.21 671.33 L272.57 671.10 L272.92 670.87 L273.27 670.64 L273.62 670.42 L273.98 670.20 L274.33 669.98 L274.68 669.76 L275.04 669.55 L275.39 669.34 L275.74 669.13 L276.10 668.92 L276.45 668.72 L276.80 668.52 L277.16 668.32 L277.51 668.12 L277.86 667.93 L278.22 667.73 L278.57 667.54 L278.92 667.35 L279.27 667.16 L279.63 666.98 L279.98 666.79 L280.33 666.61 L280.69 666.43 L281.04 666.25 L281.39 666.08 L281.75 665.90 L282.10 665.73 L282.45 665.55 L282.81 665.38 L283.16 665.21 L283.51 665.05 L283.87 664.88 L284.22 664.72 L284.57 664.55 L284.93 664.39 L285.28 664.23 L285.63 664.07 L285.98 663.92 L286.34 663.76 L286.69 663.61 L287.04 663.45 L287.40 663.30 L287.75 663.15 L288.10 663.00 L288.46 662.85 L288.81 662.70 L289.16 662.56 L289.52 662.41 L289.87 662.27 L290.22 662.12 L290.57 661.98 L290.93 661.84 L291.28 661.70 L291.63 661.56 L291.99 661.43 L292.34 661.29 L292.69 661.15 L293.05 661.02 L293.40 660.89 L293.75 660.75 L294.11 660.62 L294.46 660.49 L294.81 660.36 L295.17 660.23 L295.52 660.10 L295.87 659.98 L296.23 659.85 L296.58 659.72 L296.93 659.60 L297.28 659.48 L297.64 659.35 L297.99 659.23 L298.34 659.11 L298.70 658.99 L299.05 658.87 L299.40 658.75 L299.76 658.63 L300.11 658.51 L300.46 658.40 L300.82 658.28 L301.17 658.17 L301.52 658.05 L301.88 657.94 L302.23 657.83 L302.58 657.71 L302.93 657.60 L303.29 657.49 L303.64 657.38 L303.99 657.27 L304.35 657.16 L304.70 657.05 L305.05 656.94 L305.41 656.84 L305.76 656.73 L306.11 656.62 L306.47 656.52 L306.82 656.41 L307.17 656.31 L307.52 656.21 L307.88 656.10 L308.23 656.00 L308.58 655.90 L308.94 655.80 L309.29 655.70 L309.64 655.60 L310.00 655.50 L310.35 655.40 L310.70 655.30 L311.06 655.20 L311.41 655.10 L311.76 655.01 L312.12 654.91 L312.47 654.82 L312.82 654.72 L313.18 654.62 L313.53 654.53 L313.88 654.44 L314.23 654.34 L314.59 654.25 L314.94 654.16 L315.29 654.06 L315.65 653.97 L316.00 653.88 L316.35 653.79 L316.71 653.70 L317.06 653.61 L317.41 653.52 L317.77 653.43 L318.12 653.34 L318.47 653.26 L318.82 653.17 L319.18 653.08 L319.53 652.99 L319.88 652.91 L320.24 652.82 L320.59 652.74 L320.94 652.65 L321.30 652.57 L321.65 652.48 L322.00 652.40 L322.36 652.31 L322.71 652.23 L323.06 652.15 L323.42 652.06 L323.77 651.98 L324.12 651.90 L324.48 651.82 L324.83 651.74 L325.18 651.66 L325.53 651.58 L325.89 651.50 L326.24 651.42 L326.59 651.34 L326.95 651.26 L327.30 651.18 L327.65 651.10 L328.01 651.02 L328.36 650.95 L328.71 650.87 L329.07 650.79 L329.42 650.72 L329.77 650.64 L330.12 650.56 L330.48 650.49 L330.83 650.41 L331.18 650.34 L331.54 650.26 L331.89 650.19 L332.24 650.11 L332.60 650.04 L332.95 649.97 L333.30 649.89 L333.66 649.82 L334.01 649.75 L334.36 649.68 L334.72 649.60 L335.07 649.53 L335.42 649.46 L335.78 649.39 L336.13 649.32 L336.48 649.25 L336.83 649.18 L337.19 649.11 L337.54 649.04 L337.89 648.97 L338.25 648.90 L338.60 648.83 L338.95 648.76 L339.31 648.69 L339.66 648.62 L340.01 648.56 L340.37 648.49 L340.72 648.42 L341.07 648.35 L341.43 648.29 L341.78 648.22 L342.13 648.15 L342.48 648.09 L342.84 648.02 L343.19 647.96 L343.54 647.89 L343.90 647.82 L344.25 647.76 L344.60 647.69 L344.96 647.63 L345.31 647.57 L345.66 647.50 L346.02 647.44 L346.37 647.37 L346.72 647.31 L347.07 647.25 L347.43 647.18 L347.78 647.12 L348.13 647.06 L348.49 647.00 L348.84 646.93 L349.19 646.87 L349.55 646.81 L349.90 646.75 L350.25 646.69 L350.61 646.63 L350.96 646.57 L351.31 646.51 L351.67 646.45 L352.02 646.38 L352.37 646.32 L352.73 646.26 L353.08 646.21 L353.43 646.15 L353.78 646.09 L354.14 646.03 L354.49 645.97 L354.84 645.91 L355.20 645.85 L355.55 645.79 L355.90 645.74 L356.26 645.68 L356.61 645.62 L356.96 645.56 L357.32 645.50 L357.67 645.45 L358.02 645.39 L358.38 645.33 L358.73 645.28 L359.08 645.22 L359.43 645.16 L359.79 645.11 L360.14 645.05 L360.49 645.00 L360.85 644.94 L361.20 644.89 L361.55 644.83 L361.91 644.78 L362.26 644.72 L362.61 644.67 L362.97 644.61 L363.32 644.56 L363.67 644.50 L364.03 644.45 L364.38 644.39 L364.73 644.34 L365.08 644.29 L365.44 644.23 L365.79 644.18 L366.14 644.13 L366.50 644.07 L366.85 644.02 L367.20 643.97 L367.56 643.92 L367.91 643.86 L368.26 643.81 L368.62 643.76 L368.97 643.71 L369.32 643.66 L369.68 643.60 L370.03 643.55 L370.38 643.50 L370.73 643.45 L371.09 643.40 L371.44 643.35 L371.79 643.30 L372.15 643.25 L372.50 643.20 L372.85 643.15 L373.21 643.10 L373.56 643.05 L373.91 643.00 L374.27 642.95 L374.62 642.90 L374.97 642.85 L375.32 642.80 L375.68 642.75 L376.03 642.70 L376.38 642.65 L376.74 642.60 L377.09 642.56 L377.44 642.51 L377.80 642.46 L378.15 642.41 L378.50 642.36 L378.86 642.31 L379.21 642.27 L379.56 642.22 L379.92 642.17 L380.27 642.12 L380.62 642.08 L380.98 642.03 L381.33 641.98 L381.68 641.94 L382.03 641.89 L382.39 641.84 L382.74 641.80 L383.09 641.75 L383.45 641.70 L383.80 641.66" stroke="#000" stroke-width="0.75" fill="none" stroke-linejoin="round" stroke-linecap="butt"/>
<path d="M101.30 640.15 L102.01 640.27 L102.85 640.43 L103.70 640.59 L104.55 640.74 L105.40 640.90 L106.24 641.06 L107.09 641.22 L107.94 641.38 L108.79 641.55 L109.63 641.71 L110.48 641.88 L111.33 642.05 L112.18 642.22 L113.02 642.39 L113.87 642.56 L114.72 642.74 L115.57 642.91 L116.41 643.09 L117.26 643.27 L118.11 643.45 L118.96 643.64 L119.80 643.82 L120.65 644.01 L121.50 644.20 L122.35 644.39 L123.19 644.58 L124.04 644.77 L124.89 644.97 L125.74 645.17 L126.58 645.37 L127.43 645.57 L128.28 645.78 L129.13 645.98 L129.97 646.19 L130.82 646.40 L131.67 646.62 L132.52 646.83 L133.36 647.05 L134.21 647.27 L135.06 647.50 L135.91 647.73 L136.75 647.96 L137.60 648.19 L138.45 648.42 L139.30 648.66 L140.14 648.90 L140.99 649.15 L141.84 649.39 L142.69 649.65 L143.53 649.90 L144.38 650.16 L145.23 650.42 L146.08 650.68 L146.92 650.95 L147.77 651.22 L148.62 651.50 L149.47 651.78 L150.31 652.07 L151.16 652.36 L152.01 652.65 L152.86 652.95 L153.70 653.25 L154.55 653.56 L155.40 653.87 L156.25 654.19 L157.09 654.51 L157.94 654.84 L158.79 655.18 L159.64 655.52 L160.48 655.87 L161.33 656.22 L162.18 656.58 L163.03 656.95 L163.87 657.32 L164.72 657.71 L165.57 658.10 L166.42 658.50 L167.26 658.90 L168.11 659.32 L168.96 659.75 L169.81 660.18 L170.65 660.63 L171.50 661.08 L172.35 661.55 L173.20 662.03 L174.04 662.52 L174.89 663.03 L175.74 663.54 L176.59 664.08 L177.43 664.63 L178.28 665.19 L179.13 665.77 L179.98 666.38 L180.82 667.00 L181.67 667.64 L182.52 668.30 L183.37 668.99 L184.21 669.70 L185.06 670.45 L185.91 671.22 L186.76 672.02 L187.60 672.86 L188.45 673.74 L189.30 674.67 L190.15 675.63 L190.99 676.66 L191.84 677.74 L192.69 678.88 L193.54 680.10 L194.38 681.40 L195.23 682.80 L196.08 684.31 L196.93 685.94 L197.77 687.73 L198.62 689.71 L199.47 691.92 L200.32 694.41 L201.16 697.27 L202.01 700.62 L202.86 704.67 L203.71 709.75 L204.55 716.44 L205.40 725.50 L206.25 732.74 L207.10 725.50 L207.94 716.44 L208.79 709.75 L209.64 704.67 L210.49 700.62 L211.33 697.27 L212.18 694.41 L213.03 691.92 L213.88 689.71 L214.72 687.73 L215.57 685.94 L216.42 684.31 L217.27 682.80 L218.11 681.40 L218.96 680.10 L219.81 678.88 L220.66 677.74 L221.50 676.66 L222.35 675.63 L223.20 674.67 L224.05 673.74 L224.89 672.86 L225.74 672.02 L226.59 671.22 L227.44 670.45 L228.28 669.70 L229.13 668.99 L229.98 668.30 L230.83 667.64 L231.67 667.00 L232.52 666.38 L233.37 665.77 L234.22 665.19 L235.06 664.63 L235.91 664.08 L236.76 663.54 L237.61 663.03 L238.45 662.52 L239.30 662.03 L240.15 661.55 L241.00 661.08 L241.84 660.63 L242.69 660.18 L243.54 659.75 L244.39 659.32 L245.23 658.90 L246.08 658.50 L246.93 658.10 L247.78 657.71 L248.62 657.32 L249.47 656.95 L250.32 656.58 L251.17 656.22 L252.01 655.87 L252.86 655.52 L253.71 655.18 L254.56 654.84 L255.40 654.51 L256.25 654.19 L257.10 653.87 L257.95 653.56 L258.79 653.25 L259.64 652.95 L260.49 652.65 L261.34 652.36 L262.18 652.07 L263.03 651.78 L263.88 651.50 L264.73 651.22 L265.57 650.95 L266.42 650.68 L267.27 650.42 L268.12 650.16 L268.96 649.90 L269.81 649.65 L270.66 649.39 L271.51 649.15 L272.35 648.90 L273.20 648.66 L274.05 648.42 L274.90 648.19 L275.74 647.96 L276.59 647.73 L277.44 647.50 L278.29 647.27 L279.13 647.05 L279.98 646.83 L280.83 646.62 L281.68 646.40 L282.52 646.19 L283.37 645.98 L284.22 645.78 L285.07 645.57 L285.91 645.37 L286.76 645.17 L287.61 644.97 L288.46 644.77 L289.30 644.58 L290.15 644.39 L291.00 644.20 L291.85 644.01 L292.69 643.82 L293.54 643.64 L294.39 643.45 L295.24 643.27 L296.08 643.09 L296.93 642.91 L297.78 642.74 L298.63 642.56 L299.47 642.39 L300.32 642.22 L301.17 642.05 L302.02 641.88 L302.86 641.71 L303.71 641.55 L304.56 641.38 L305.41 641.22 L306.25 641.06 L307.10 640.90 L307.95 640.74 L308.80 640.59 L309.64 640.43 L310.49 640.27 L311.34 640.12 L312.19 639.97 L313.03 639.82 L313.88 639.67 L314.73 639.52 L315.58 639.37 L316.42 639.23 L317.27 639.08 L318.12 638.94 L318.97 638.79 L319.81 638.65 L320.66 638.51 L321.51 638.37 L322.36 638.23 L323.20 638.10 L324.05 637.96 L324.90 637.82 L325.75 637.69 L326.59 637.55 L327.44 637.42 L328.29 637.29 L329.14 637.16 L329.98 637.03 L330.83 636.90 L331.68 636.77 L332.53 636.64 L333.37 636.52 L334.22 636.39 L335.07 636.26 L335.92 636.14 L336.76 636.02 L337.61 635.89 L338.46 635.77 L339.31 635.65 L340.15 635.53 L341.00 635.41 L341.85 635.29 L342.70 635.17 L343.54 635.06 L344.39 634.94 L345.24 634.83 L346.09 634.71 L346.93 634.60 L347.78 634.48 L348.63 634.37 L349.48 634.26 L350.32 634.14 L351.17 634.03 L352.02 633.92 L352.87 633.81 L353.71 633.70 L354.56 633.60 L355.41 633.49 L356.26 633.38 L357.10 633.27 L357.95 633.17 L358.80 633.06 L359.65 632.96 L360.49 632.85 L361.34 632.75 L362.19 632.65 L363.04 632.54 L363.88 632.44 L364.73 632.34 L365.58 632.24 L366.43 632.14 L367.27 632.04 L368.12 631.94 L368.97 631.84 L369.82 631.74 L370.66 631.64 L371.51 631.55 L372.36 631.45 L373.21 631.35 L374.05 631.26 L374.90 631.16 L375.75 631.07 L376.60 630.97 L377.44 630.88 L378.29 630.78 L379.14 630.69 L379.99 630.60 L380.83 630.51 L381.68 630.41 L382.53 630.32 L383.38 630.23 L383.80 630.19" stroke="#000" stroke-width="1.9" fill="none" stroke-linejoin="round" stroke-linecap="butt"/>
<path d="M101.30 702.67 L103.07 702.96 L104.83 703.26 L106.60 703.55 L108.36 703.86 L110.13 704.16 L111.89 704.48 L113.66 704.80 L115.42 705.12 L117.19 705.45 L118.96 705.78 L120.72 706.13 L122.49 706.47 L124.25 706.83 L126.02 707.19 L127.78 707.56 L129.55 707.93 L131.32 708.31 L133.08 708.70 L134.85 709.10 L136.61 709.51 L138.38 709.93 L140.14 710.35 L141.91 710.79 L143.68 711.23 L145.44 711.69 L147.21 712.16 L148.97 712.64 L150.74 713.13 L152.50 713.64 L154.27 714.15 L156.03 714.69 L157.80 715.24 L159.57 715.80 L161.33 716.39 L163.10 716.99 L164.86 717.61 L166.63 718.25 L168.39 718.92 L170.16 719.60 L171.93 720.32 L173.69 721.06 L175.46 721.84 L177.22 722.64 L178.99 723.48 L180.75 724.37 L182.52 725.29 L184.28 726.26 L186.05 727.29 L187.82 728.37 L189.58 729.52 L191.35 730.74 L193.11 732.05 L194.88 733.45 L196.64 734.97 L198.41 736.62 L200.18 738.42 L201.94 740.42 L203.71 742.65 L205.47 745.18 L207.24 748.10 L209.00 751.55 L210.77 755.78 L212.53 761.23 L214.30 768.91 L216.07 782.04 L217.83 809.00 L219.60 782.04 L221.36 768.91 L223.13 761.23 L224.89 755.78 L226.66 751.55 L228.43 748.10 L230.19 745.18 L231.96 742.65 L233.72 740.42 L235.49 738.42 L237.25 736.62 L239.02 734.97 L240.78 733.45 L242.55 732.05 L244.32 730.74 L246.08 729.52 L247.85 728.37 L249.61 727.29 L251.38 726.26 L253.14 725.29 L254.91 724.37 L256.68 723.48 L258.44 722.64 L260.21 721.84 L261.97 721.06 L263.74 720.32 L265.50 719.60 L267.27 718.92 L269.03 718.25 L270.80 717.61 L272.57 716.99 L274.33 716.39 L276.10 715.80 L277.86 715.24 L279.63 714.69 L281.39 714.15 L283.16 713.64 L284.93 713.13 L286.69 712.64 L288.46 712.16 L290.22 711.69 L291.99 711.23 L293.75 710.79 L295.52 710.35 L297.28 709.93 L299.05 709.51 L300.82 709.10 L302.58 708.70 L304.35 708.31 L306.11 707.93 L307.88 707.56 L309.64 707.19 L311.41 706.83 L313.18 706.47 L314.94 706.13 L316.71 705.78 L318.47 705.45 L320.24 705.12 L322.00 704.80 L323.77 704.48 L325.53 704.16 L327.30 703.86 L329.07 703.55 L330.83 703.26 L332.60 702.96 L334.36 702.67 L336.13 702.39 L337.89 702.11 L339.66 701.83 L341.43 701.56 L343.19 701.29 L344.96 701.02 L346.72 700.76 L348.49 700.50 L350.25 700.25 L352.02 700.00 L353.78 699.75 L355.55 699.51 L357.32 699.27 L359.08 699.03 L360.85 698.79 L362.61 698.56 L364.38 698.33 L366.14 698.10 L367.91 697.88 L369.68 697.66 L371.44 697.44 L373.21 697.22 L374.97 697.01 L376.74 696.80 L378.50 696.59 L380.27 696.38 L382.03 696.18 L383.80 695.97" stroke="#ff00ff" stroke-width="1.8" fill="none" stroke-linejoin="round" stroke-linecap="butt" stroke-dasharray="1.6 2.6"/>
<rect x="101.30" y="590.90" width="282.50" height="218.10" fill="none" stroke="#3c3c3c" stroke-width="1"/>
<path d="M101.30 809.00v-9 M115.42 809.00v-4.5 M129.55 809.00v-4.5 M143.68 809.00v-4.5 M157.80 809.00v-4.5 M171.93 809.00v-9 M186.05 809.00v-4.5 M200.18 809.00v-4.5 M214.30 809.00v-4.5 M228.43 809.00v-4.5 M242.55 809.00v-9 M256.68 809.00v-4.5 M270.80 809.00v-4.5 M284.93 809.00v-4.5 M299.05 809.00v-4.5 M313.18 809.00v-9 M327.30 809.00v-4.5 M341.43 809.00v-4.5 M355.55 809.00v-4.5 M369.68 809.00v-4.5 M383.80 809.00v-9 M101.30 809.00h12 M101.30 795.87h6 M101.30 788.19h6 M101.30 782.74h6 M101.30 778.51h6 M101.30 775.06h6 M101.30 772.14h6 M101.30 769.61h6 M101.30 767.38h6 M101.30 765.38h12 M101.30 752.25h6 M101.30 744.57h6 M101.30 739.12h6 M101.30 734.89h6 M101.30 731.44h6 M101.30 728.52h6 M101.30 725.99h6 M101.30 723.76h6 M101.30 721.76h12 M101.30 708.63h6 M101.30 700.95h6 M101.30 695.50h6 M101.30 691.27h6 M101.30 687.82h6 M101.30 684.90h6 M101.30 682.37h6 M101.30 680.14h6 M101.30 678.14h12 M101.30 665.01h6 M101.30 657.33h6 M101.30 651.88h6 M101.30 647.65h6 M101.30 644.20h6 M101.30 641.28h6 M101.30 638.75h6 M101.30 636.52h6 M101.30 634.52h12 M101.30 621.39h6 M101.30 613.71h6 M101.30 608.26h6 M101.30 604.03h6 M101.30 600.58h6 M101.30 597.66h6 M101.30 595.13h6 M101.30 592.90h6 M101.30 590.90h12" stroke="#444" stroke-width="0.75" fill="none"/>
<path d="M485.10 697.33 L485.81 697.32 L486.51 697.31 L487.22 697.30 L487.93 697.29 L488.63 697.28 L489.34 697.27 L490.04 697.26 L490.75 697.25 L491.46 697.23 L492.16 697.22 L492.87 697.21 L493.58 697.20 L494.28 697.19 L494.99 697.18 L495.69 697.17 L496.40 697.16 L497.11 697.15 L497.81 697.14 L498.52 697.13 L499.23 697.11 L499.93 697.10 L500.64 697.09 L501.34 697.08 L502.05 697.07 L502.76 697.06 L503.46 697.05 L504.17 697.04 L504.88 697.03 L505.58 697.02 L506.29 697.01 L506.99 696.99 L507.70 696.98 L508.41 696.97 L509.11 696.96 L509.82 696.95 L510.53 696.94 L511.23 696.93 L511.94 696.92 L512.64 696.91 L513.35 696.90 L514.06 696.89 L514.76 696.87 L515.47 696.86 L516.18 696.85 L516.88 696.84 L517.59 696.83 L518.29 696.82 L519.00 696.81 L519.71 696.80 L520.41 696.79 L521.12 696.78 L521.83 696.77 L522.53 696.75 L523.24 696.74 L523.94 696.73 L524.65 696.72 L525.36 696.71 L526.06 696.70 L526.77 696.69 L527.48 696.68 L528.18 696.67 L528.89 696.66 L529.59 696.65 L530.30 696.63 L531.01 696.62 L531.71 696.61 L532.42 696.60 L533.12 696.59 L533.83 696.58 L534.54 696.57 L535.24 696.56 L535.95 696.55 L536.66 696.54 L537.36 696.53 L538.07 696.51 L538.78 696.50 L539.48 696.49 L540.19 696.48 L540.89 696.47 L541.60 696.46 L542.31 696.45 L543.01 696.44 L543.72 696.43 L544.43 696.42 L545.13 696.41 L545.84 696.39 L546.54 696.38 L547.25 696.37 L547.96 696.36 L548.66 696.35 L549.37 696.34 L550.08 696.33 L550.78 696.32 L551.49 696.31 L552.19 696.30 L552.90 696.29 L553.61 696.28 L554.31 696.26 L555.02 696.25 L555.73 696.24 L556.43 696.23 L557.14 696.22 L557.84 696.21 L558.55 696.20 L559.26 696.19 L559.96 696.18 L560.67 696.17 L561.38 696.16 L562.08 696.14 L562.79 696.13 L563.49 696.12 L564.20 696.11 L564.91 696.10 L565.61 696.09 L566.32 696.08 L567.03 696.07 L567.73 696.06 L568.44 696.05 L569.14 696.04 L569.85 696.02 L570.56 696.01 L571.26 696.00 L571.97 695.99 L572.68 695.98 L573.38 695.97 L574.09 695.96 L574.79 695.95 L575.50 695.94 L576.21 695.93 L576.91 695.92 L577.62 695.90 L578.33 695.89 L579.03 695.88 L579.74 695.87 L580.44 695.86 L581.15 695.85 L581.86 695.84 L582.56 695.83 L583.27 695.82 L583.98 695.81 L584.68 695.80 L585.39 695.78 L586.09 695.77 L586.80 695.76 L587.51 695.75 L588.21 695.74 L588.92 695.73 L589.62 695.72 L590.33 695.71 L591.04 695.70 L591.74 695.69 L592.45 695.68 L593.16 695.66 L593.86 695.65 L594.57 695.64 L595.27 695.63 L595.98 695.62 L596.69 695.61 L597.39 695.60 L598.10 695.59 L598.81 695.58 L599.51 695.57 L600.22 695.56 L600.93 695.54 L601.63 695.53 L602.34 695.52 L603.04 695.51 L603.75 695.50 L604.46 695.49 L605.16 695.48 L605.87 695.47 L606.58 695.46 L607.28 695.45 L607.99 695.44 L608.69 695.42 L609.40 695.41 L610.11 695.40 L610.81 695.39 L611.52 695.38 L612.23 695.37 L612.93 695.36 L613.64 695.35 L614.34 695.34 L615.05 695.33 L615.76 695.32 L616.46 695.30 L617.17 695.29 L617.88 695.28 L618.58 695.27 L619.29 695.26 L619.99 695.25 L620.70 695.24 L621.41 695.23 L622.11 695.22 L622.82 695.21 L623.53 695.20 L624.23 695.18 L624.94 695.17 L625.64 695.16 L626.35 695.15 L627.06 695.14 L627.76 695.13 L628.47 695.12 L629.17 695.11 L629.88 695.10 L630.59 695.09 L631.29 695.08 L632.00 695.06 L632.71 695.05 L633.41 695.04 L634.12 695.03 L634.83 695.02 L635.53 695.01 L636.24 695.00 L636.94 694.99 L637.65 694.98 L638.36 694.97 L639.06 694.96 L639.77 694.94 L640.48 694.93 L641.18 694.92 L641.89 694.91 L642.59 694.90 L643.30 694.89 L644.01 694.88 L644.71 694.87 L645.42 694.86 L646.12 694.85 L646.83 694.84 L647.54 694.82 L648.24 694.81 L648.95 694.80 L649.66 694.79 L650.36 694.78 L651.07 694.77 L651.78 694.76 L652.48 694.75 L653.19 694.74 L653.89 694.73 L654.60 694.72 L655.31 694.70 L656.01 694.69 L656.72 694.68 L657.43 694.67 L658.13 694.66 L658.84 694.65 L659.54 694.64 L660.25 694.63 L660.96 694.62 L661.66 694.61 L662.37 694.60 L663.08 694.58 L663.78 694.57 L664.49 694.56 L665.19 694.55 L665.90 694.54 L666.61 694.53 L667.31 694.52 L668.02 694.51 L668.73 694.50 L669.43 694.49 L670.14 694.48 L670.84 694.46 L671.55 694.45 L672.26 694.44 L672.96 694.43 L673.67 694.42 L674.38 694.41 L675.08 694.40 L675.79 694.39 L676.49 694.38 L677.20 694.37 L677.91 694.36 L678.61 694.34 L679.32 694.33 L680.03 694.32 L680.73 694.31 L681.44 694.30 L682.14 694.29 L682.85 694.28 L683.56 694.27 L684.26 694.26 L684.97 694.25 L685.68 694.24 L686.38 694.22 L687.09 694.21 L687.79 694.20 L688.50 694.19 L689.21 694.18 L689.91 694.17 L690.62 694.16 L691.33 694.15 L692.03 694.14 L692.74 694.13 L693.44 694.12 L694.15 694.10 L694.86 694.09 L695.56 694.08 L696.27 694.07 L696.98 694.06 L697.68 694.05 L698.39 694.04 L699.09 694.03 L699.80 694.02 L700.51 694.01 L701.21 694.00 L701.92 693.98 L702.62 693.97 L703.33 693.96 L704.04 693.95 L704.74 693.94 L705.45 693.93 L706.16 693.92 L706.86 693.91 L707.57 693.90 L708.28 693.89 L708.98 693.88 L709.69 693.87 L710.39 693.85 L711.10 693.84 L711.81 693.83 L712.51 693.82 L713.22 693.81 L713.92 693.80 L714.63 693.79 L715.34 693.78 L716.04 693.77 L716.75 693.76 L717.46 693.75 L718.16 693.73 L718.87 693.72 L719.58 693.71 L720.28 693.70 L720.99 693.69 L721.69 693.68 L722.40 693.67 L723.11 693.66 L723.81 693.65 L724.52 693.64 L725.23 693.63 L725.93 693.61 L726.64 693.60 L727.34 693.59 L728.05 693.58 L728.76 693.57 L729.46 693.56 L730.17 693.55 L730.88 693.54 L731.58 693.53 L732.29 693.52 L732.99 693.51 L733.70 693.49 L734.41 693.48 L735.11 693.47 L735.82 693.46 L736.53 693.45 L737.23 693.44 L737.94 693.43 L738.64 693.42 L739.35 693.41 L740.06 693.40 L740.76 693.39 L741.47 693.37 L742.17 693.36 L742.88 693.35 L743.59 693.34 L744.29 693.33 L745.00 693.32 L745.71 693.31 L746.41 693.30 L747.12 693.29 L747.83 693.28 L748.53 693.27 L749.24 693.25 L749.94 693.24 L750.65 693.23 L751.36 693.22 L752.06 693.21 L752.77 693.20 L753.48 693.19 L754.18 693.18 L754.89 693.17 L755.59 693.16 L756.30 693.15 L757.01 693.13 L757.71 693.12 L758.42 693.11 L759.12 693.10 L759.83 693.09 L760.54 693.08 L761.24 693.07 L761.95 693.06 L762.66 693.05 L763.36 693.04 L764.07 693.03 L764.78 693.01 L765.48 693.00 L766.19 692.99 L766.89 692.98 L767.60 692.97" stroke="#2020ff" stroke-width="0.75" fill="none" stroke-linejoin="round" stroke-linecap="butt" stroke-dasharray="4.8 5 1.3 5" stroke-opacity="0.8"/>
<path d="M485.10 652.98 L485.81 653.07 L486.51 653.15 L487.22 653.24 L487.93 653.32 L488.63 653.41 L489.34 653.50 L490.04 653.59 L490.75 653.68 L491.46 653.76 L492.16 653.85 L492.87 653.94 L493.58 654.03 L494.28 654.12 L494.99 654.21 L495.69 654.31 L496.40 654.40 L497.11 654.49 L497.81 654.58 L498.52 654.67 L499.23 654.77 L499.93 654.86 L500.64 654.96 L501.34 655.05 L502.05 655.15 L502.76 655.24 L503.46 655.34 L504.17 655.44 L504.88 655.53 L505.58 655.63 L506.29 655.73 L506.99 655.83 L507.70 655.93 L508.41 656.03 L509.11 656.13 L509.82 656.23 L510.53 656.33 L511.23 656.43 L511.94 656.54 L512.64 656.64 L513.35 656.74 L514.06 656.85 L514.76 656.95 L515.47 657.06 L516.18 657.16 L516.88 657.27 L517.59 657.38 L518.29 657.49 L519.00 657.60 L519.71 657.70 L520.41 657.81 L521.12 657.92 L521.83 658.04 L522.53 658.15 L523.24 658.26 L523.94 658.37 L524.65 658.49 L525.36 658.60 L526.06 658.72 L526.77 658.83 L527.48 658.95 L528.18 659.07 L528.89 659.18 L529.59 659.30 L530.30 659.42 L531.01 659.54 L531.71 659.66 L532.42 659.79 L533.13 659.91 L533.83 660.03 L534.54 660.16 L535.24 660.28 L535.95 660.41 L536.66 660.53 L537.36 660.66 L538.07 660.79 L538.78 660.92 L539.48 661.05 L540.19 661.18 L540.89 661.31 L541.60 661.44 L542.31 661.58 L543.01 661.71 L543.72 661.85 L544.43 661.99 L545.13 662.12 L545.84 662.26 L546.54 662.40 L547.25 662.54 L547.96 662.69 L548.66 662.83 L549.37 662.97 L550.08 663.12 L550.78 663.26 L551.49 663.41 L552.19 663.56 L552.90 663.71 L553.61 663.86 L554.31 664.01 L555.02 664.17 L555.73 664.32 L556.43 664.48 L557.14 664.63 L557.84 664.79 L558.55 664.95 L559.26 665.11 L559.96 665.28 L560.67 665.44 L561.38 665.61 L562.08 665.77 L562.79 665.94 L563.49 666.11 L564.20 666.28 L564.91 666.46 L565.61 666.63 L566.32 666.81 L567.03 666.98 L567.73 667.16 L568.44 667.34 L569.14 667.53 L569.85 667.71 L570.56 667.90 L571.26 668.09 L571.97 668.28 L572.68 668.47 L573.38 668.66 L574.09 668.86 L574.79 669.06 L575.50 669.26 L576.21 669.46 L576.91 669.67 L577.62 669.87 L578.33 670.08 L579.03 670.30 L579.74 670.51 L580.44 670.73 L581.15 670.94 L581.86 671.17 L582.56 671.39 L583.27 671.62 L583.98 671.85 L584.68 672.08 L585.39 672.31 L586.09 672.55 L586.80 672.79 L587.51 673.04 L588.21 673.29 L588.92 673.54 L589.63 673.79 L590.33 674.05 L591.04 674.31 L591.74 674.58 L592.45 674.84 L593.16 675.12 L593.86 675.39 L594.57 675.67 L595.28 675.96 L595.98 676.25 L596.69 676.54 L597.39 676.84 L598.10 677.14 L598.81 677.45 L599.51 677.76 L600.22 678.08 L600.93 678.41 L601.63 678.74 L602.34 679.07 L603.04 679.41 L603.75 679.76 L604.46 680.11 L605.16 680.48 L605.87 680.84 L606.58 681.22 L607.28 681.60 L607.99 681.99 L608.69 682.39 L609.40 682.80 L610.11 683.21 L610.81 683.64 L611.52 684.08 L612.23 684.52 L612.93 684.98 L613.64 685.45 L614.34 685.93 L615.05 686.42 L615.76 686.92 L616.46 687.44 L617.17 687.98 L617.88 688.52 L618.58 689.09 L619.29 689.67 L619.99 690.27 L620.70 690.90 L621.41 691.54 L622.11 692.20 L622.82 692.89 L623.53 693.61 L624.23 694.35 L624.94 695.12 L625.64 695.93 L626.35 696.77 L627.06 697.65 L627.76 698.58 L628.47 699.55 L629.18 700.57 L629.88 701.65 L630.59 702.80 L631.29 704.02 L632.00 705.33 L632.71 706.73 L633.41 708.25 L634.12 709.90 L634.83 711.70 L635.53 713.70 L636.24 715.93 L636.94 718.45 L637.65 721.37 L638.36 724.82 L639.06 729.03 L639.77 734.46 L640.48 742.07 L641.18 754.82 L641.89 782.83 L642.59 754.82 L643.30 742.07 L644.01 734.46 L644.71 729.03 L645.42 724.82 L646.13 721.37 L646.83 718.45 L647.54 715.93 L648.24 713.70 L648.95 711.70 L649.66 709.90 L650.36 708.25 L651.07 706.73 L651.78 705.33 L652.48 704.02 L653.19 702.80 L653.89 701.65 L654.60 700.57 L655.31 699.55 L656.01 698.58 L656.72 697.65 L657.43 696.77 L658.13 695.93 L658.84 695.12 L659.54 694.35 L660.25 693.61 L660.96 692.89 L661.66 692.20 L662.37 691.54 L663.08 690.90 L663.78 690.27 L664.49 689.67 L665.19 689.09 L665.90 688.52 L666.61 687.98 L667.31 687.44 L668.02 686.92 L668.73 686.42 L669.43 685.93 L670.14 685.45 L670.84 684.98 L671.55 684.52 L672.26 684.08 L672.96 683.64 L673.67 683.21 L674.38 682.80 L675.08 682.39 L675.79 681.99 L676.49 681.60 L677.20 681.22 L677.91 680.84 L678.61 680.48 L679.32 680.11 L680.03 679.76 L680.73 679.41 L681.44 679.07 L682.14 678.74 L682.85 678.41 L683.56 678.08 L684.26 677.76 L684.97 677.45 L685.67 677.14 L686.38 676.84 L687.09 676.54 L687.79 676.25 L688.50 675.96 L689.21 675.67 L689.91 675.39 L690.62 675.12 L691.33 674.84 L692.03 674.58 L692.74 674.31 L693.44 674.05 L694.15 673.79 L694.86 673.54 L695.56 673.29 L696.27 673.04 L696.97 672.79 L697.68 672.55 L698.39 672.31 L699.09 672.08 L699.80 671.85 L700.51 671.62 L701.21 671.39 L701.92 671.17 L702.62 670.94 L703.33 670.73 L704.04 670.51 L704.74 670.30 L705.45 670.08 L706.16 669.87 L706.86 669.67 L707.57 669.46 L708.27 669.26 L708.98 669.06 L709.69 668.86 L710.39 668.66 L711.10 668.47 L711.81 668.28 L712.51 668.09 L713.22 667.90 L713.92 667.71 L714.63 667.53 L715.34 667.34 L716.04 667.16 L716.75 666.98 L717.46 666.81 L718.16 666.63 L718.87 666.46 L719.57 666.28 L720.28 666.11 L720.99 665.94 L721.69 665.77 L722.40 665.61 L723.11 665.44 L723.81 665.28 L724.52 665.11 L725.22 664.95 L725.93 664.79 L726.64 664.63 L727.34 664.48 L728.05 664.32 L728.76 664.17 L729.46 664.01 L730.17 663.86 L730.87 663.71 L731.58 663.56 L732.29 663.41 L732.99 663.26 L733.70 663.12 L734.41 662.97 L735.11 662.83 L735.82 662.69 L736.52 662.54 L737.23 662.40 L737.94 662.26 L738.64 662.12 L739.35 661.99 L740.06 661.85 L740.76 661.71 L741.47 661.58 L742.17 661.44 L742.88 661.31 L743.59 661.18 L744.29 661.05 L745.00 660.92 L745.71 660.79 L746.41 660.66 L747.12 660.53 L747.82 660.41 L748.53 660.28 L749.24 660.16 L749.94 660.03 L750.65 659.91 L751.36 659.79 L752.06 659.66 L752.77 659.54 L753.48 659.42 L754.18 659.30 L754.89 659.18 L755.59 659.07 L756.30 658.95 L757.01 658.83 L757.71 658.72 L758.42 658.60 L759.13 658.49 L759.83 658.37 L760.54 658.26 L761.24 658.15 L761.95 658.04 L762.66 657.92 L763.36 657.81 L764.07 657.70 L764.78 657.60 L765.48 657.49 L766.19 657.38 L766.89 657.27 L767.60 657.16" stroke="#ff2020" stroke-width="0.75" fill="none" stroke-linejoin="round" stroke-linecap="butt" stroke-dasharray="4.6 4" stroke-opacity="0.8"/>
<path d="M485.10 638.82 L486.65 639.01 L488.42 639.23 L490.19 639.45 L491.95 639.68 L493.72 639.91 L495.48 640.14 L497.25 640.38 L499.01 640.62 L500.78 640.86 L502.54 641.10 L504.31 641.35 L506.08 641.60 L507.84 641.86 L509.61 642.11 L511.37 642.37 L513.14 642.64 L514.90 642.91 L516.67 643.18 L518.44 643.46 L520.20 643.74 L521.97 644.02 L523.73 644.31 L525.50 644.61 L527.26 644.90 L529.03 645.21 L530.79 645.52 L532.56 645.83 L534.33 646.15 L536.09 646.47 L537.86 646.80 L539.62 647.14 L541.39 647.48 L543.15 647.82 L544.92 648.18 L546.69 648.54 L548.45 648.91 L550.22 649.28 L551.98 649.66 L553.75 650.06 L555.51 650.45 L557.28 650.86 L559.04 651.28 L560.81 651.70 L562.58 652.14 L564.34 652.58 L566.11 653.04 L567.87 653.51 L569.64 653.99 L571.40 654.48 L573.17 654.99 L574.93 655.51 L576.70 656.04 L578.47 656.59 L580.23 657.15 L582.00 657.74 L583.76 658.34 L585.53 658.96 L587.29 659.60 L589.06 660.27 L590.83 660.96 L592.59 661.67 L594.36 662.41 L596.12 663.19 L597.89 663.99 L599.65 664.83 L601.42 665.72 L603.19 666.64 L604.95 667.61 L606.72 668.64 L608.48 669.72 L610.25 670.87 L612.01 672.09 L613.78 673.40 L615.54 674.80 L617.31 676.32 L619.08 677.97 L620.84 679.77 L622.61 681.77 L624.37 684.00 L626.14 686.53 L627.90 689.45 L629.67 692.90 L631.44 697.13 L633.20 702.58 L634.97 710.26 L636.73 723.39 L638.50 809.00 L640.26 723.39 L642.03 710.26 L643.79 702.58 L645.56 697.13 L647.33 692.90 L649.09 689.45 L650.86 686.53 L652.62 684.00 L654.39 681.77 L656.15 679.77 L657.92 677.97 L659.69 676.32 L661.45 674.80 L663.22 673.40 L664.98 672.09 L666.75 670.87 L668.51 669.72 L670.28 668.64 L672.04 667.61 L673.81 666.64 L675.58 665.72 L677.34 664.83 L679.11 663.99 L680.87 663.19 L682.64 662.41 L684.40 661.67 L686.17 660.96 L687.93 660.27 L689.70 659.60 L691.47 658.96 L693.23 658.34 L695.00 657.74 L696.76 657.15 L698.53 656.59 L700.29 656.04 L702.06 655.51 L703.83 654.99 L705.59 654.48 L707.36 653.99 L709.12 653.51 L710.89 653.04 L712.65 652.58 L714.42 652.14 L716.18 651.70 L717.95 651.28 L719.72 650.86 L721.48 650.45 L723.25 650.06 L725.01 649.66 L726.78 649.28 L728.54 648.91 L730.31 648.54 L732.08 648.18 L733.84 647.82 L735.61 647.48 L737.37 647.14 L739.14 646.80 L740.90 646.47 L742.67 646.15 L744.43 645.83 L746.20 645.52 L747.97 645.21 L749.73 644.90 L751.50 644.61 L753.26 644.31 L755.03 644.02 L756.79 643.74 L758.56 643.46 L760.33 643.18 L762.09 642.91 L763.86 642.64 L765.62 642.37 L767.39 642.11 L767.60 642.08" stroke="#000" stroke-width="0.75" fill="none" stroke-linejoin="round" stroke-linecap="butt"/>
<path d="M485.10 650.07 L485.81 649.85 L486.51 649.64 L487.22 649.43 L487.93 649.22 L488.63 649.01 L489.34 648.81 L490.04 648.61 L490.75 648.41 L491.46 648.21 L492.16 648.02 L492.87 647.82 L493.58 647.63 L494.28 647.44 L494.99 647.26 L495.69 647.07 L496.40 646.89 L497.11 646.70 L497.81 646.52 L498.52 646.34 L499.23 646.17 L499.93 645.99 L500.64 645.82 L501.34 645.65 L502.05 645.48 L502.76 645.31 L503.46 645.14 L504.17 644.97 L504.88 644.81 L505.58 644.64 L506.29 644.48 L506.99 644.32 L507.70 644.16 L508.41 644.00 L509.11 643.85 L509.82 643.69 L510.53 643.54 L511.23 643.39 L511.94 643.23 L512.64 643.08 L513.35 642.94 L514.06 642.79 L514.76 642.64 L515.47 642.49 L516.18 642.35 L516.88 642.21 L517.59 642.06 L518.29 641.92 L519.00 641.78 L519.71 641.64 L520.41 641.50 L521.12 641.37 L521.83 641.23 L522.53 641.10 L523.24 640.96 L523.94 640.83 L524.65 640.70 L525.36 640.56 L526.06 640.43 L526.77 640.30 L527.48 640.17 L528.18 640.05 L528.89 639.92 L529.59 639.79 L530.30 639.67 L531.01 639.54 L531.71 639.42 L532.42 639.30 L533.12 639.17 L533.83 639.05 L534.54 638.93 L535.24 638.81 L535.95 638.69 L536.66 638.57 L537.36 638.46 L538.07 638.34 L538.78 638.22 L539.48 638.11 L540.19 637.99 L540.89 637.88 L541.60 637.77 L542.31 637.65 L543.01 637.54 L543.72 637.43 L544.43 637.32 L545.13 637.21 L545.84 637.10 L546.54 636.99 L547.25 636.88 L547.96 636.77 L548.66 636.67 L549.37 636.56 L550.08 636.46 L550.78 636.35 L551.49 636.25 L552.19 636.14 L552.90 636.04 L553.61 635.93 L554.31 635.83 L555.02 635.73 L555.73 635.63 L556.43 635.53 L557.14 635.43 L557.84 635.33 L558.55 635.23 L559.26 635.13 L559.96 635.03 L560.67 634.93 L561.38 634.84 L562.08 634.74 L562.79 634.64 L563.49 634.55 L564.20 634.45 L564.91 634.36 L565.61 634.27 L566.32 634.17 L567.03 634.08 L567.73 633.99 L568.44 633.89 L569.14 633.80 L569.85 633.71 L570.56 633.62 L571.26 633.53 L571.97 633.44 L572.68 633.35 L573.38 633.26 L574.09 633.17 L574.79 633.08 L575.50 632.99 L576.21 632.90 L576.91 632.82 L577.62 632.73 L578.33 632.64 L579.03 632.56 L579.74 632.47 L580.44 632.39 L581.15 632.30 L581.86 632.22 L582.56 632.13 L583.27 632.05 L583.98 631.97 L584.68 631.88 L585.39 631.80 L586.09 631.72 L586.80 631.64 L587.51 631.55 L588.21 631.47 L588.92 631.39 L589.62 631.31 L590.33 631.23 L591.04 631.15 L591.74 631.07 L592.45 630.99 L593.16 630.91 L593.86 630.83 L594.57 630.76 L595.27 630.68 L595.98 630.60 L596.69 630.52 L597.39 630.45 L598.10 630.37 L598.81 630.29 L599.51 630.22 L600.22 630.14 L600.93 630.07 L601.63 629.99 L602.34 629.92 L603.04 629.84 L603.75 629.77 L604.46 629.69 L605.16 629.62 L605.87 629.55 L606.58 629.47 L607.28 629.40 L607.99 629.33 L608.69 629.26 L609.40 629.18 L610.11 629.11 L610.81 629.04 L611.52 628.97 L612.23 628.90 L612.93 628.83 L613.64 628.76 L614.34 628.69 L615.05 628.62 L615.76 628.55 L616.46 628.48 L617.17 628.41 L617.88 628.34 L618.58 628.27 L619.29 628.20 L619.99 628.13 L620.70 628.07 L621.41 628.00 L622.11 627.93 L622.82 627.86 L623.53 627.80 L624.23 627.73 L624.94 627.66 L625.64 627.60 L626.35 627.53 L627.06 627.47 L627.76 627.40 L628.47 627.34 L629.17 627.27 L629.88 627.21 L630.59 627.14 L631.29 627.08 L632.00 627.01 L632.71 626.95 L633.41 626.88 L634.12 626.82 L634.83 626.76 L635.53 626.69 L636.24 626.63 L636.94 626.57 L637.65 626.51 L638.36 626.44 L639.06 626.38 L639.77 626.32 L640.48 626.26 L641.18 626.20 L641.89 626.13 L642.59 626.07 L643.30 626.01 L644.01 625.95 L644.71 625.89 L645.42 625.83 L646.12 625.77 L646.83 625.71 L647.54 625.65 L648.24 625.59 L648.95 625.53 L649.66 625.47 L650.36 625.41 L651.07 625.36 L651.78 625.30 L652.48 625.24 L653.19 625.18 L653.89 625.12 L654.60 625.06 L655.31 625.01 L656.01 624.95 L656.72 624.89 L657.43 624.83 L658.13 624.78 L658.84 624.72 L659.54 624.66 L660.25 624.61 L660.96 624.55 L661.66 624.49 L662.37 624.44 L663.08 624.38 L663.78 624.33 L664.49 624.27 L665.19 624.22 L665.90 624.16 L666.61 624.11 L667.31 624.05 L668.02 624.00 L668.73 623.94 L669.43 623.89 L670.14 623.83 L670.84 623.78 L671.55 623.72 L672.26 623.67 L672.96 623.62 L673.67 623.56 L674.38 623.51 L675.08 623.46 L675.79 623.40 L676.49 623.35 L677.20 623.30 L677.91 623.25 L678.61 623.19 L679.32 623.14 L680.03 623.09 L680.73 623.04 L681.44 622.98 L682.14 622.93 L682.85 622.88 L683.56 622.83 L684.26 622.78 L684.97 622.73 L685.68 622.68 L686.38 622.63 L687.09 622.57 L687.79 622.52 L688.50 622.47 L689.21 622.42 L689.91 622.37 L690.62 622.32 L691.33 622.27 L692.03 622.22 L692.74 622.17 L693.44 622.12 L694.15 622.07 L694.86 622.02 L695.56 621.98 L696.27 621.93 L696.98 621.88 L697.68 621.83 L698.39 621.78 L699.09 621.73 L699.80 621.68 L700.51 621.63 L701.21 621.59 L701.92 621.54 L702.62 621.49 L703.33 621.44 L704.04 621.39 L704.74 621.35 L705.45 621.30 L706.16 621.25 L706.86 621.20 L707.57 621.16 L708.28 621.11 L708.98 621.06 L709.69 621.02 L710.39 620.97 L711.10 620.92 L711.81 620.88 L712.51 620.83 L713.22 620.78 L713.92 620.74 L714.63 620.69 L715.34 620.65 L716.04 620.60 L716.75 620.56 L717.46 620.51 L718.16 620.46 L718.87 620.42 L719.58 620.37 L720.28 620.33 L720.99 620.28 L721.69 620.24 L722.40 620.19 L723.11 620.15 L723.81 620.11 L724.52 620.06 L725.23 620.02 L725.93 619.97 L726.64 619.93 L727.34 619.88 L728.05 619.84 L728.76 619.80 L729.46 619.75 L730.17 619.71 L730.88 619.66 L731.58 619.62 L732.29 619.58 L732.99 619.53 L733.70 619.49 L734.41 619.45 L735.11 619.41 L735.82 619.36 L736.53 619.32 L737.23 619.28 L737.94 619.23 L738.64 619.19 L739.35 619.15 L740.06 619.11 L740.76 619.07 L741.47 619.02 L742.17 618.98 L742.88 618.94 L743.59 618.90 L744.29 618.86 L745.00 618.81 L745.71 618.77 L746.41 618.73 L747.12 618.69 L747.83 618.65 L748.53 618.61 L749.24 618.57 L749.94 618.53 L750.65 618.48 L751.36 618.44 L752.06 618.40 L752.77 618.36 L753.48 618.32 L754.18 618.28 L754.89 618.24 L755.59 618.20 L756.30 618.16 L757.01 618.12 L757.71 618.08 L758.42 618.04 L759.12 618.00 L759.83 617.96 L760.54 617.92 L761.24 617.88 L761.95 617.84 L762.66 617.80 L763.36 617.76 L764.07 617.72 L764.78 617.68 L765.48 617.65 L766.19 617.61 L766.89 617.57 L767.60 617.53" stroke="#000" stroke-width="1.9" fill="none" stroke-linejoin="round" stroke-linecap="butt"/>
<path d="M485.10 625.36 L485.81 625.36 L486.51 625.36 L487.22 625.37 L487.93 625.37 L488.63 625.37 L489.34 625.37 L490.04 625.38 L490.75 625.38 L491.46 625.38 L492.16 625.38 L492.87 625.38 L493.58 625.39 L494.28 625.39 L494.99 625.39 L495.69 625.39 L496.40 625.39 L497.11 625.40 L497.81 625.40 L498.52 625.40 L499.23 625.40 L499.93 625.41 L500.64 625.41 L501.34 625.41 L502.05 625.41 L502.76 625.41 L503.46 625.42 L504.17 625.42 L504.88 625.42 L505.58 625.42 L506.29 625.43 L506.99 625.43 L507.70 625.43 L508.41 625.43 L509.11 625.43 L509.82 625.44 L510.53 625.44 L511.23 625.44 L511.94 625.44 L512.64 625.44 L513.35 625.45 L514.06 625.45 L514.76 625.45 L515.47 625.45 L516.18 625.46 L516.88 625.46 L517.59 625.46 L518.29 625.46 L519.00 625.46 L519.71 625.47 L520.41 625.47 L521.12 625.47 L521.83 625.47 L522.53 625.48 L523.24 625.48 L523.94 625.48 L524.65 625.48 L525.36 625.48 L526.06 625.49 L526.77 625.49 L527.48 625.49 L528.18 625.49 L528.89 625.50 L529.59 625.50 L530.30 625.50 L531.01 625.50 L531.71 625.50 L532.42 625.51 L533.12 625.51 L533.83 625.51 L534.54 625.51 L535.24 625.51 L535.95 625.52 L536.66 625.52 L537.36 625.52 L538.07 625.52 L538.78 625.53 L539.48 625.53 L540.19 625.53 L540.89 625.53 L541.60 625.53 L542.31 625.54 L543.01 625.54 L543.72 625.54 L544.43 625.54 L545.13 625.55 L545.84 625.55 L546.54 625.55 L547.25 625.55 L547.96 625.55 L548.66 625.56 L549.37 625.56 L550.08 625.56 L550.78 625.56 L551.49 625.56 L552.19 625.57 L552.90 625.57 L553.61 625.57 L554.31 625.57 L555.02 625.58 L555.73 625.58 L556.43 625.58 L557.14 625.58 L557.84 625.58 L558.55 625.59 L559.26 625.59 L559.96 625.59 L560.67 625.59 L561.38 625.60 L562.08 625.60 L562.79 625.60 L563.49 625.60 L564.20 625.60 L564.91 625.61 L565.61 625.61 L566.32 625.61 L567.03 625.61 L567.73 625.61 L568.44 625.62 L569.14 625.62 L569.85 625.62 L570.56 625.62 L571.26 625.63 L571.97 625.63 L572.68 625.63 L573.38 625.63 L574.09 625.63 L574.79 625.64 L575.50 625.64 L576.21 625.64 L576.91 625.64 L577.62 625.65 L578.33 625.65 L579.03 625.65 L579.74 625.65 L580.44 625.65 L581.15 625.66 L581.86 625.66 L582.56 625.66 L583.27 625.66 L583.98 625.67 L584.68 625.67 L585.39 625.67 L586.09 625.67 L586.80 625.67 L587.51 625.68 L588.21 625.68 L588.92 625.68 L589.62 625.68 L590.33 625.68 L591.04 625.69 L591.74 625.69 L592.45 625.69 L593.16 625.69 L593.86 625.70 L594.57 625.70 L595.27 625.70 L595.98 625.70 L596.69 625.70 L597.39 625.71 L598.10 625.71 L598.81 625.71 L599.51 625.71 L600.22 625.72 L600.93 625.72 L601.63 625.72 L602.34 625.72 L603.04 625.72 L603.75 625.73 L604.46 625.73 L605.16 625.73 L605.87 625.73 L606.58 625.73 L607.28 625.74 L607.99 625.74 L608.69 625.74 L609.40 625.74 L610.11 625.75 L610.81 625.75 L611.52 625.75 L612.23 625.75 L612.93 625.75 L613.64 625.76 L614.34 625.76 L615.05 625.76 L615.76 625.76 L616.46 625.77 L617.17 625.77 L617.88 625.77 L618.58 625.77 L619.29 625.77 L619.99 625.78 L620.70 625.78 L621.41 625.78 L622.11 625.78 L622.82 625.79 L623.53 625.79 L624.23 625.79 L624.94 625.79 L625.64 625.79 L626.35 625.80 L627.06 625.80 L627.76 625.80 L628.47 625.80 L629.17 625.80 L629.88 625.81 L630.59 625.81 L631.29 625.81 L632.00 625.81 L632.71 625.82 L633.41 625.82 L634.12 625.82 L634.83 625.82 L635.53 625.82 L636.24 625.83 L636.94 625.83 L637.65 625.83 L638.36 625.83 L639.06 625.84 L639.77 625.84 L640.48 625.84 L641.18 625.84 L641.89 625.84 L642.59 625.85 L643.30 625.85 L644.01 625.85 L644.71 625.85 L645.42 625.85 L646.12 625.86 L646.83 625.86 L647.54 625.86 L648.24 625.86 L648.95 625.87 L649.66 625.87 L650.36 625.87 L651.07 625.87 L651.78 625.87 L652.48 625.88 L653.19 625.88 L653.89 625.88 L654.60 625.88 L655.31 625.89 L656.01 625.89 L656.72 625.89 L657.43 625.89 L658.13 625.89 L658.84 625.90 L659.54 625.90 L660.25 625.90 L660.96 625.90 L661.66 625.91 L662.37 625.91 L663.08 625.91 L663.78 625.91 L664.49 625.91 L665.19 625.92 L665.90 625.92 L666.61 625.92 L667.31 625.92 L668.02 625.92 L668.73 625.93 L669.43 625.93 L670.14 625.93 L670.84 625.93 L671.55 625.94 L672.26 625.94 L672.96 625.94 L673.67 625.94 L674.38 625.94 L675.08 625.95 L675.79 625.95 L676.49 625.95 L677.20 625.95 L677.91 625.96 L678.61 625.96 L679.32 625.96 L680.03 625.96 L680.73 625.96 L681.44 625.97 L682.14 625.97 L682.85 625.97 L683.56 625.97 L684.26 625.97 L684.97 625.98 L685.68 625.98 L686.38 625.98 L687.09 625.98 L687.79 625.99 L688.50 625.99 L689.21 625.99 L689.91 625.99 L690.62 625.99 L691.33 626.00 L692.03 626.00 L692.74 626.00 L693.44 626.00 L694.15 626.01 L694.86 626.01 L695.56 626.01 L696.27 626.01 L696.98 626.01 L697.68 626.02 L698.39 626.02 L699.09 626.02 L699.80 626.02 L700.51 626.03 L701.21 626.03 L701.92 626.03 L702.62 626.03 L703.33 626.03 L704.04 626.04 L704.74 626.04 L705.45 626.04 L706.16 626.04 L706.86 626.04 L707.57 626.05 L708.28 626.05 L708.98 626.05 L709.69 626.05 L710.39 626.06 L711.10 626.06 L711.81 626.06 L712.51 626.06 L713.22 626.06 L713.92 626.07 L714.63 626.07 L715.34 626.07 L716.04 626.07 L716.75 626.08 L717.46 626.08 L718.16 626.08 L718.87 626.08 L719.58 626.08 L720.28 626.09 L720.99 626.09 L721.69 626.09 L722.40 626.09 L723.11 626.09 L723.81 626.10 L724.52 626.10 L725.23 626.10 L725.93 626.10 L726.64 626.11 L727.34 626.11 L728.05 626.11 L728.76 626.11 L729.46 626.11 L730.17 626.12 L730.88 626.12 L731.58 626.12 L732.29 626.12 L732.99 626.13 L733.70 626.13 L734.41 626.13 L735.11 626.13 L735.82 626.13 L736.53 626.14 L737.23 626.14 L737.94 626.14 L738.64 626.14 L739.35 626.14 L740.06 626.15 L740.76 626.15 L741.47 626.15 L742.17 626.15 L742.88 626.16 L743.59 626.16 L744.29 626.16 L745.00 626.16 L745.71 626.16 L746.41 626.17 L747.12 626.17 L747.83 626.17 L748.53 626.17 L749.24 626.18 L749.94 626.18 L750.65 626.18 L751.36 626.18 L752.06 626.18 L752.77 626.19 L753.48 626.19 L754.18 626.19 L754.89 626.19 L755.59 626.20 L756.30 626.20 L757.01 626.20 L757.71 626.20 L758.42 626.20 L759.12 626.21 L759.83 626.21 L760.54 626.21 L761.24 626.21 L761.95 626.21 L762.66 626.22 L763.36 626.22 L764.07 626.22 L764.78 626.22 L765.48 626.23 L766.19 626.23 L766.89 626.23 L767.60 626.23" stroke="#ff00ff" stroke-width="1.8" fill="none" stroke-linejoin="round" stroke-linecap="butt" stroke-dasharray="1.6 2.6"/>
<rect x="485.10" y="590.90" width="282.50" height="218.10" fill="none" stroke="#3c3c3c" stroke-width="1"/>
<path d="M485.10 809.00v-9 M499.23 809.00v-4.5 M513.35 809.00v-4.5 M527.48 809.00v-4.5 M541.60 809.00v-4.5 M555.73 809.00v-9 M569.85 809.00v-4.5 M583.98 809.00v-4.5 M598.10 809.00v-4.5 M612.23 809.00v-4.5 M626.35 809.00v-9 M640.48 809.00v-4.5 M654.60 809.00v-4.5 M668.73 809.00v-4.5 M682.85 809.00v-4.5 M696.98 809.00v-9 M711.10 809.00v-4.5 M725.23 809.00v-4.5 M739.35 809.00v-4.5 M753.48 809.00v-4.5 M767.60 809.00v-9 M485.10 809.00h12 M485.10 795.87h6 M485.10 788.19h6 M485.10 782.74h6 M485.10 778.51h6 M485.10 775.06h6 M485.10 772.14h6 M485.10 769.61h6 M485.10 767.38h6 M485.10 765.38h12 M485.10 752.25h6 M485.10 744.57h6 M485.10 739.12h6 M485.10 734.89h6 M485.10 731.44h6 M485.10 728.52h6 M485.10 725.99h6 M485.10 723.76h6 M485.10 721.76h12 M485.10 708.63h6 M485.10 700.95h6 M485.10 695.50h6 M485.10 691.27h6 M485.10 687.82h6 M485.10 684.90h6 M485.10 682.37h6 M485.10 680.14h6 M485.10 678.14h12 M485.10 665.01h6 M485.10 657.33h6 M485.10 651.88h6 M485.10 647.65h6 M485.10 644.20h6 M485.10 641.28h6 M485.10 638.75h6 M485.10 636.52h6 M485.10 634.52h12 M485.10 621.39h6 M485.10 613.71h6 M485.10 608.26h6 M485.10 604.03h6 M485.10 600.58h6 M485.10 597.66h6 M485.10 595.13h6 M485.10 592.90h6 M485.10 590.90h12" stroke="#444" stroke-width="0.75" fill="none"/>
<text transform="translate(90.30,544.00) scale(0.1650,0.1414)" font-size="100" font-weight="bold" fill="#000">-20</text>
<text transform="translate(160.83,544.00) scale(0.1635,0.1414)" font-size="100" font-weight="bold" fill="#000">-10</text>
<text transform="translate(238.55,544.00) scale(0.1560,0.1414)" font-size="100" font-weight="bold" fill="#000">0</text>
<text transform="translate(305.58,544.00) scale(0.1680,0.1414)" font-size="100" font-weight="bold" fill="#000">10</text>
<text transform="translate(375.10,544.00) scale(0.1720,0.1414)" font-size="100" font-weight="bold" fill="#000">20</text>
<text transform="translate(290.10,571.00) scale(0.3365,0.2611)" font-size="100" font-weight="normal" fill="#000" stroke="#000" stroke-width="1.2">Φ</text>
<text transform="translate(315.20,578.90) scale(0.2140,0.1918)" font-size="100" font-weight="bold" fill="#000">2</text>
<text transform="translate(336.20,570.97) scale(0.2282,0.2488)" font-size="100" font-weight="bold" fill="#000" stroke="#000" stroke-width="5">[</text>
<text transform="translate(353.50,558.15) scale(0.2140,0.1538)" font-size="100" font-weight="bold" fill="#000">o</text>
<text transform="translate(374.20,570.97) scale(0.2132,0.2488)" font-size="100" font-weight="bold" fill="#000" stroke="#000" stroke-width="5">]</text>
<text transform="translate(474.10,543.90) scale(0.1650,0.1414)" font-size="100" font-weight="bold" fill="#000">-20</text>
<text transform="translate(544.62,543.90) scale(0.1635,0.1414)" font-size="100" font-weight="bold" fill="#000">-10</text>
<text transform="translate(622.35,543.90) scale(0.1560,0.1414)" font-size="100" font-weight="bold" fill="#000">0</text>
<text transform="translate(689.38,543.90) scale(0.1680,0.1414)" font-size="100" font-weight="bold" fill="#000">10</text>
<text transform="translate(758.90,543.90) scale(0.1720,0.1414)" font-size="100" font-weight="bold" fill="#000">20</text>
<text transform="translate(673.90,570.90) scale(0.3365,0.2611)" font-size="100" font-weight="normal" fill="#000" stroke="#000" stroke-width="1.2">Φ</text>
<text transform="translate(699.00,578.80) scale(0.2140,0.1918)" font-size="100" font-weight="bold" fill="#000">2</text>
<text transform="translate(720.00,570.87) scale(0.2282,0.2488)" font-size="100" font-weight="bold" fill="#000" stroke="#000" stroke-width="5">[</text>
<text transform="translate(737.30,558.05) scale(0.2140,0.1538)" font-size="100" font-weight="bold" fill="#000">o</text>
<text transform="translate(758.00,570.87) scale(0.2132,0.2488)" font-size="100" font-weight="bold" fill="#000" stroke="#000" stroke-width="5">]</text>
<text transform="translate(90.30,824.30) scale(0.1650,0.1414)" font-size="100" font-weight="bold" fill="#000">-20</text>
<text transform="translate(160.83,824.30) scale(0.1635,0.1414)" font-size="100" font-weight="bold" fill="#000">-10</text>
<text transform="translate(238.55,824.30) scale(0.1560,0.1414)" font-size="100" font-weight="bold" fill="#000">0</text>
<text transform="translate(305.58,824.30) scale(0.1680,0.1414)" font-size="100" font-weight="bold" fill="#000">10</text>
<text transform="translate(375.10,824.30) scale(0.1720,0.1414)" font-size="100" font-weight="bold" fill="#000">20</text>
<text transform="translate(290.10,851.30) scale(0.3365,0.2611)" font-size="100" font-weight="normal" fill="#000" stroke="#000" stroke-width="1.2">Φ</text>
<text transform="translate(315.20,859.20) scale(0.2140,0.1918)" font-size="100" font-weight="bold" fill="#000">2</text>
<text transform="translate(336.20,851.27) scale(0.2282,0.2488)" font-size="100" font-weight="bold" fill="#000" stroke="#000" stroke-width="5">[</text>
<text transform="translate(353.50,838.45) scale(0.2140,0.1538)" font-size="100" font-weight="bold" fill="#000">o</text>
<text transform="translate(374.20,851.27) scale(0.2132,0.2488)" font-size="100" font-weight="bold" fill="#000" stroke="#000" stroke-width="5">]</text>
<text transform="translate(474.10,824.30) scale(0.1650,0.1414)" font-size="100" font-weight="bold" fill="#000">-20</text>
<text transform="translate(544.62,824.30) scale(0.1635,0.1414)" font-size="100" font-weight="bold" fill="#000">-10</text>
<text transform="translate(622.35,824.30) scale(0.1560,0.1414)" font-size="100" font-weight="bold" fill="#000">0</text>
<text transform="translate(689.38,824.30) scale(0.1680,0.1414)" font-size="100" font-weight="bold" fill="#000">10</text>
<text transform="translate(758.90,824.30) scale(0.1720,0.1414)" font-size="100" font-weight="bold" fill="#000">20</text>
<text transform="translate(673.90,851.30) scale(0.3365,0.2611)" font-size="100" font-weight="normal" fill="#000" stroke="#000" stroke-width="1.2">Φ</text>
<text transform="translate(699.00,859.20) scale(0.2140,0.1918)" font-size="100" font-weight="bold" fill="#000">2</text>
<text transform="translate(720.00,851.27) scale(0.2282,0.2488)" font-size="100" font-weight="bold" fill="#000" stroke="#000" stroke-width="5">[</text>
<text transform="translate(737.30,838.45) scale(0.2140,0.1538)" font-size="100" font-weight="bold" fill="#000">o</text>
<text transform="translate(758.00,851.27) scale(0.2132,0.2488)" font-size="100" font-weight="bold" fill="#000" stroke="#000" stroke-width="5">]</text>
<text transform="translate(68.80,337.30) scale(0.1620,0.1429)" font-size="100" font-weight="bold" fill="#000">10</text>
<text transform="translate(89.60,331.10) scale(0.1320,0.1191)" font-size="100" font-weight="bold" fill="#000">5</text>
<text transform="translate(68.80,370.00) scale(0.1620,0.1429)" font-size="100" font-weight="bold" fill="#000">10</text>
<text transform="translate(89.60,363.80) scale(0.1320,0.1185)" font-size="100" font-weight="bold" fill="#000">4</text>
<text transform="translate(68.80,402.70) scale(0.1620,0.1429)" font-size="100" font-weight="bold" fill="#000">10</text>
<text transform="translate(89.60,396.50) scale(0.1320,0.1178)" font-size="100" font-weight="bold" fill="#000">3</text>
<text transform="translate(68.80,435.40) scale(0.1620,0.1429)" font-size="100" font-weight="bold" fill="#000">10</text>
<text transform="translate(89.60,429.20) scale(0.1320,0.1178)" font-size="100" font-weight="bold" fill="#000">2</text>
<text transform="translate(68.80,467.70) scale(0.1620,0.1414)" font-size="100" font-weight="bold" fill="#000">10</text>
<text transform="translate(77.20,500.40) scale(0.1380,0.1424)" font-size="100" font-weight="bold" fill="#000">1</text>
<text transform="translate(63.30,533.00) scale(0.1580,0.1414)" font-size="100" font-weight="bold" fill="#000">10</text>
<text transform="translate(85.40,522.70) scale(0.1224,0.1136)" font-size="100" font-weight="bold" fill="#000">-1</text>
<text transform="translate(441.60,314.90) scale(0.1610,0.1489)" font-size="100" font-weight="bold" fill="#000">10</text>
<text transform="translate(462.60,303.80) scale(0.1298,0.1118)" font-size="100" font-weight="bold" fill="#000">-23</text>
<text transform="translate(441.60,358.58) scale(0.1610,0.1489)" font-size="100" font-weight="bold" fill="#000">10</text>
<text transform="translate(462.60,347.48) scale(0.1298,0.1118)" font-size="100" font-weight="bold" fill="#000">-24</text>
<text transform="translate(441.60,402.26) scale(0.1610,0.1489)" font-size="100" font-weight="bold" fill="#000">10</text>
<text transform="translate(462.60,391.16) scale(0.1298,0.1118)" font-size="100" font-weight="bold" fill="#000">-25</text>
<text transform="translate(441.60,445.94) scale(0.1610,0.1489)" font-size="100" font-weight="bold" fill="#000">10</text>
<text transform="translate(462.60,434.84) scale(0.1298,0.1118)" font-size="100" font-weight="bold" fill="#000">-26</text>
<text transform="translate(441.60,489.62) scale(0.1610,0.1489)" font-size="100" font-weight="bold" fill="#000">10</text>
<text transform="translate(462.60,478.52) scale(0.1298,0.1118)" font-size="100" font-weight="bold" fill="#000">-27</text>
<text transform="translate(441.60,533.30) scale(0.1610,0.1489)" font-size="100" font-weight="bold" fill="#000">10</text>
<text transform="translate(462.60,522.20) scale(0.1298,0.1113)" font-size="100" font-weight="bold" fill="#000">-28</text>
<text transform="translate(57.80,595.60) scale(0.1610,0.1489)" font-size="100" font-weight="bold" fill="#000">10</text>
<text transform="translate(78.80,584.50) scale(0.1298,0.1118)" font-size="100" font-weight="bold" fill="#000">-23</text>
<text transform="translate(57.80,639.22) scale(0.1610,0.1489)" font-size="100" font-weight="bold" fill="#000">10</text>
<text transform="translate(78.80,628.12) scale(0.1298,0.1118)" font-size="100" font-weight="bold" fill="#000">-24</text>
<text transform="translate(57.80,682.84) scale(0.1610,0.1489)" font-size="100" font-weight="bold" fill="#000">10</text>
<text transform="translate(78.80,671.74) scale(0.1298,0.1118)" font-size="100" font-weight="bold" fill="#000">-25</text>
<text transform="translate(57.80,726.46) scale(0.1610,0.1489)" font-size="100" font-weight="bold" fill="#000">10</text>
<text transform="translate(78.80,715.36) scale(0.1298,0.1118)" font-size="100" font-weight="bold" fill="#000">-26</text>
<text transform="translate(57.80,770.08) scale(0.1610,0.1489)" font-size="100" font-weight="bold" fill="#000">10</text>
<text transform="translate(78.80,758.98) scale(0.1298,0.1118)" font-size="100" font-weight="bold" fill="#000">-27</text>
<text transform="translate(57.80,813.70) scale(0.1610,0.1489)" font-size="100" font-weight="bold" fill="#000">10</text>
<text transform="translate(78.80,802.60) scale(0.1298,0.1113)" font-size="100" font-weight="bold" fill="#000">-28</text>
<text transform="translate(441.60,595.60) scale(0.1610,0.1489)" font-size="100" font-weight="bold" fill="#000">10</text>
<text transform="translate(462.60,584.50) scale(0.1298,0.1118)" font-size="100" font-weight="bold" fill="#000">-23</text>
<text transform="translate(441.60,639.22) scale(0.1610,0.1489)" font-size="100" font-weight="bold" fill="#000">10</text>
<text transform="translate(462.60,628.12) scale(0.1298,0.1118)" font-size="100" font-weight="bold" fill="#000">-24</text>
<text transform="translate(441.60,682.84) scale(0.1610,0.1489)" font-size="100" font-weight="bold" fill="#000">10</text>
<text transform="translate(462.60,671.74) scale(0.1298,0.1118)" font-size="100" font-weight="bold" fill="#000">-25</text>
<text transform="translate(441.60,726.46) scale(0.1610,0.1489)" font-size="100" font-weight="bold" fill="#000">10</text>
<text transform="translate(462.60,715.36) scale(0.1298,0.1118)" font-size="100" font-weight="bold" fill="#000">-26</text>
<text transform="translate(441.60,770.08) scale(0.1610,0.1489)" font-size="100" font-weight="bold" fill="#000">10</text>
<text transform="translate(462.60,758.98) scale(0.1298,0.1118)" font-size="100" font-weight="bold" fill="#000">-27</text>
<text transform="translate(441.60,813.70) scale(0.1610,0.1489)" font-size="100" font-weight="bold" fill="#000">10</text>
<text transform="translate(462.60,802.60) scale(0.1298,0.1113)" font-size="100" font-weight="bold" fill="#000">-28</text>
<rect x="403.80" y="421.95" width="32.50" height="2.30" fill="#000"/>
<text transform="translate(428.10,416.90) rotate(-90) scale(0.2716,0.3228)" font-size="100" font-weight="bold" fill="#000">d</text>
<text transform="translate(413.50,401.30) rotate(-90) scale(0.1593,0.1994)" font-size="100" font-weight="bold" fill="#000">C</text>
<text transform="translate(438.90,401.00) rotate(-90) scale(0.1691,0.1974)" font-size="100" font-weight="bold" fill="#000">d</text>
<rect x="403.80" y="379.15" width="32.50" height="2.30" fill="#000"/>
<text transform="translate(428.63,369.60) rotate(-90) scale(0.1502,0.3261)" font-size="100" font-weight="bold" fill="#000" stroke="#000" stroke-width="5">[</text>
<text transform="translate(428.10,358.40) rotate(-90) scale(0.2435,0.2930)" font-size="100" font-weight="bold" fill="#000">cm</text>
<text transform="translate(428.63,317.50) rotate(-90) scale(0.1502,0.3261)" font-size="100" font-weight="bold" fill="#000" stroke="#000" stroke-width="5">]</text>
<rect x="20.00" y="702.65" width="32.50" height="2.30" fill="#000"/>
<text transform="translate(44.30,697.60) rotate(-90) scale(0.2716,0.3228)" font-size="100" font-weight="bold" fill="#000">d</text>
<text transform="translate(29.70,682.00) rotate(-90) scale(0.1593,0.1994)" font-size="100" font-weight="bold" fill="#000">C</text>
<text transform="translate(55.10,681.70) rotate(-90) scale(0.1691,0.1974)" font-size="100" font-weight="bold" fill="#000">d</text>
<rect x="20.00" y="659.85" width="32.50" height="2.30" fill="#000"/>
<text transform="translate(44.83,650.30) rotate(-90) scale(0.1502,0.3261)" font-size="100" font-weight="bold" fill="#000" stroke="#000" stroke-width="5">[</text>
<text transform="translate(44.30,639.10) rotate(-90) scale(0.2435,0.2930)" font-size="100" font-weight="bold" fill="#000">cm</text>
<text transform="translate(44.83,598.20) rotate(-90) scale(0.1502,0.3261)" font-size="100" font-weight="bold" fill="#000" stroke="#000" stroke-width="5">]</text>
<rect x="403.80" y="702.65" width="32.50" height="2.30" fill="#000"/>
<text transform="translate(428.10,697.60) rotate(-90) scale(0.2716,0.3228)" font-size="100" font-weight="bold" fill="#000">d</text>
<text transform="translate(413.50,682.00) rotate(-90) scale(0.1593,0.1994)" font-size="100" font-weight="bold" fill="#000">C</text>
<text transform="translate(438.90,681.70) rotate(-90) scale(0.1691,0.1974)" font-size="100" font-weight="bold" fill="#000">d</text>
<rect x="403.80" y="659.85" width="32.50" height="2.30" fill="#000"/>
<text transform="translate(428.63,650.30) rotate(-90) scale(0.1502,0.3261)" font-size="100" font-weight="bold" fill="#000" stroke="#000" stroke-width="5">[</text>
<text transform="translate(428.10,639.10) rotate(-90) scale(0.2435,0.2930)" font-size="100" font-weight="bold" fill="#000">cm</text>
<text transform="translate(428.63,598.20) rotate(-90) scale(0.1502,0.3261)" font-size="100" font-weight="bold" fill="#000" stroke="#000" stroke-width="5">]</text>
<rect x="20.00" y="425.55" width="33.00" height="2.30" fill="#000"/>
<text transform="translate(44.50,417.00) rotate(-90) scale(0.2284,0.3242)" font-size="100" font-weight="bold" fill="#000">d</text>
<text transform="translate(56.50,404.00) rotate(-90) scale(0.1745,0.2687)" font-size="100" font-weight="bold" fill="#000" stroke="#000" stroke-width="2.5">D</text>
<path d="M45.6 383.6 L25.2 379.2" stroke="#000" stroke-width="2.8" fill="none"/>
<text transform="translate(44.50,370.60) rotate(-90) scale(0.2374,0.3242)" font-size="100" font-weight="bold" fill="#000">d</text>
<text transform="translate(25.60,355.40) rotate(-90) scale(0.1645,0.2015)" font-size="100" font-weight="bold" fill="#000" stroke="#000" stroke-width="3">EXP</text>
<rect x="20.00" y="311.25" width="33.00" height="2.30" fill="#000"/>
<text transform="translate(115.70,332.90) scale(0.1980,0.1723)" font-size="100" font-weight="bold" fill="#000">tan</text>
<text transform="translate(144.50,332.85) scale(0.1807,0.1668)" font-size="100" font-weight="normal" fill="#000" stroke="#000" stroke-width="1.5">β</text>
<rect x="154.50" y="327.10" width="12.40" height="1.7" fill="#000"/><rect x="154.50" y="329.70" width="12.40" height="1.7" fill="#000"/>
<text transform="translate(167.40,332.90) scale(0.1960,0.1504)" font-size="100" font-weight="bold" fill="#000">40</text>
<text transform="translate(499.50,328.10) scale(0.1980,0.1723)" font-size="100" font-weight="bold" fill="#000">tan</text>
<text transform="translate(528.30,328.05) scale(0.1807,0.1668)" font-size="100" font-weight="normal" fill="#000" stroke="#000" stroke-width="1.5">β</text>
<rect x="538.30" y="322.30" width="12.40" height="1.7" fill="#000"/><rect x="538.30" y="324.90" width="12.40" height="1.7" fill="#000"/>
<text transform="translate(551.20,328.10) scale(0.1960,0.1504)" font-size="100" font-weight="bold" fill="#000">40</text>
<text transform="translate(115.70,608.40) scale(0.1980,0.1723)" font-size="100" font-weight="bold" fill="#000">tan</text>
<text transform="translate(144.50,608.35) scale(0.1807,0.1668)" font-size="100" font-weight="normal" fill="#000" stroke="#000" stroke-width="1.5">β</text>
<rect x="154.50" y="602.60" width="12.40" height="1.7" fill="#000"/><rect x="154.50" y="605.20" width="12.40" height="1.7" fill="#000"/>
<text transform="translate(167.40,608.40) scale(0.1960,0.1504)" font-size="100" font-weight="bold" fill="#000">40</text>
<text transform="translate(499.50,608.40) scale(0.1980,0.1723)" font-size="100" font-weight="bold" fill="#000">tan</text>
<text transform="translate(528.30,608.35) scale(0.1807,0.1668)" font-size="100" font-weight="normal" fill="#000" stroke="#000" stroke-width="1.5">β</text>
<rect x="538.30" y="602.60" width="12.40" height="1.7" fill="#000"/><rect x="538.30" y="605.20" width="12.40" height="1.7" fill="#000"/>
<text transform="translate(551.20,608.40) scale(0.1960,0.1504)" font-size="100" font-weight="bold" fill="#000">40</text>
<text transform="translate(250.00,347.75) scale(0.1321,0.1477)" font-size="100" font-weight="bold" fill="#ff0000" stroke="#ff0000" stroke-width="2">(</text>
<text transform="translate(255.00,348.00) scale(0.1740,0.1489)" font-size="100" font-weight="bold" fill="#ff0000">0</text>
<text transform="translate(263.70,340.38) scale(0.1080,0.1164)" font-size="100" font-weight="bold" fill="#ff0000">o</text>
<text transform="translate(269.40,348.08) scale(0.1520,0.1755)" font-size="100" font-weight="bold" fill="#ff0000">,</text>
<text transform="translate(277.70,348.00) scale(0.1675,0.1489)" font-size="100" font-weight="bold" fill="#ff0000">90</text>
<text transform="translate(294.45,340.38) scale(0.1080,0.1164)" font-size="100" font-weight="bold" fill="#ff0000">o</text>
<text transform="translate(300.85,347.75) scale(0.1321,0.1477)" font-size="100" font-weight="bold" fill="#ff0000" stroke="#ff0000" stroke-width="2">)</text>
<text transform="translate(144.10,372.85) scale(0.1321,0.1477)" font-size="100" font-weight="bold" fill="#ff00ff" stroke="#ff00ff" stroke-width="2">(</text>
<text transform="translate(149.10,373.10) scale(0.1740,0.1489)" font-size="100" font-weight="bold" fill="#ff00ff">0</text>
<text transform="translate(157.80,365.48) scale(0.1080,0.1164)" font-size="100" font-weight="bold" fill="#ff00ff">o</text>
<text transform="translate(163.50,373.18) scale(0.1520,0.1755)" font-size="100" font-weight="bold" fill="#ff00ff">,</text>
<text transform="translate(171.80,373.10) scale(0.1653,0.1489)" font-size="100" font-weight="bold" fill="#ff00ff">350</text>
<text transform="translate(196.60,365.48) scale(0.1080,0.1164)" font-size="100" font-weight="bold" fill="#ff00ff">o</text>
<text transform="translate(203.00,372.85) scale(0.1321,0.1477)" font-size="100" font-weight="bold" fill="#ff00ff" stroke="#ff00ff" stroke-width="2">)</text>
<text transform="translate(313.80,373.05) scale(0.1321,0.1477)" font-size="100" font-weight="bold" fill="#ff00ff" stroke="#ff00ff" stroke-width="2">(</text>
<text transform="translate(318.80,373.30) scale(0.1740,0.1489)" font-size="100" font-weight="bold" fill="#ff00ff">0</text>
<text transform="translate(327.50,365.68) scale(0.1080,0.1164)" font-size="100" font-weight="bold" fill="#ff00ff">o</text>
<text transform="translate(333.20,373.38) scale(0.1520,0.1755)" font-size="100" font-weight="bold" fill="#ff00ff">,</text>
<text transform="translate(341.50,373.30) scale(0.1675,0.1489)" font-size="100" font-weight="bold" fill="#ff00ff">10</text>
<text transform="translate(358.25,365.68) scale(0.1080,0.1164)" font-size="100" font-weight="bold" fill="#ff00ff">o</text>
<text transform="translate(364.65,373.05) scale(0.1321,0.1477)" font-size="100" font-weight="bold" fill="#ff00ff" stroke="#ff00ff" stroke-width="2">)</text>
<text transform="translate(150.80,463.95) scale(0.1321,0.1477)" font-size="100" font-weight="bold" fill="#0000ff" stroke="#0000ff" stroke-width="2">(</text>
<text transform="translate(155.80,464.20) scale(0.1675,0.1489)" font-size="100" font-weight="bold" fill="#0000ff">90</text>
<text transform="translate(172.55,456.58) scale(0.1080,0.1164)" font-size="100" font-weight="bold" fill="#0000ff">o</text>
<text transform="translate(178.25,464.28) scale(0.1520,0.1755)" font-size="100" font-weight="bold" fill="#0000ff">,</text>
<text transform="translate(186.55,464.20) scale(0.1740,0.1489)" font-size="100" font-weight="bold" fill="#0000ff">0</text>
<text transform="translate(195.25,456.58) scale(0.1080,0.1164)" font-size="100" font-weight="bold" fill="#0000ff">o</text>
<text transform="translate(201.65,463.95) scale(0.1321,0.1477)" font-size="100" font-weight="bold" fill="#0000ff" stroke="#0000ff" stroke-width="2">)</text>
<text transform="translate(274.20,464.65) scale(0.1321,0.1477)" font-size="100" font-weight="bold" fill="#0000ff" stroke="#0000ff" stroke-width="2">(</text>
<text transform="translate(279.20,464.90) scale(0.1653,0.1489)" font-size="100" font-weight="bold" fill="#0000ff">270</text>
<text transform="translate(304.00,457.28) scale(0.1080,0.1164)" font-size="100" font-weight="bold" fill="#0000ff">o</text>
<text transform="translate(309.70,464.98) scale(0.1520,0.1755)" font-size="100" font-weight="bold" fill="#0000ff">,</text>
<text transform="translate(318.00,464.90) scale(0.1740,0.1489)" font-size="100" font-weight="bold" fill="#0000ff">0</text>
<text transform="translate(326.70,457.28) scale(0.1080,0.1164)" font-size="100" font-weight="bold" fill="#0000ff">o</text>
<text transform="translate(333.10,464.65) scale(0.1321,0.1477)" font-size="100" font-weight="bold" fill="#0000ff" stroke="#0000ff" stroke-width="2">)</text>
<text transform="translate(249.60,505.65) scale(0.1302,0.1477)" font-size="100" font-weight="bold" fill="#000" stroke="#000" stroke-width="2">(</text>
<text transform="translate(254.53,505.90) scale(0.1714,0.1489)" font-size="100" font-weight="bold" fill="#000">0</text>
<text transform="translate(263.09,498.28) scale(0.1064,0.1164)" font-size="100" font-weight="bold" fill="#000">o</text>
<text transform="translate(268.71,505.98) scale(0.1497,0.1755)" font-size="100" font-weight="bold" fill="#000">,</text>
<text transform="translate(276.88,505.90) scale(0.1714,0.1489)" font-size="100" font-weight="bold" fill="#000">0</text>
<text transform="translate(285.45,498.28) scale(0.1064,0.1164)" font-size="100" font-weight="bold" fill="#000">o</text>
<text transform="translate(291.76,505.65) scale(0.1302,0.1477)" font-size="100" font-weight="bold" fill="#000" stroke="#000" stroke-width="2">)</text>
<text transform="translate(598.20,327.47) scale(0.1411,0.1235)" font-size="100" font-weight="bold" fill="#000" stroke="#000" stroke-width="4">(</text>
<text transform="translate(607.90,328.10) scale(0.1710,0.1359)" font-size="100" font-weight="normal" fill="#000" stroke="#000" stroke-width="2.5">Φ</text>
<text transform="translate(621.30,331.90) scale(0.0860,0.1076)" font-size="100" font-weight="bold" fill="#000" stroke="#000" stroke-width="3">1</text>
<text transform="translate(630.80,328.19) scale(0.1440,0.1623)" font-size="100" font-weight="bold" fill="#000">,</text>
<text transform="translate(639.50,328.10) scale(0.1669,0.1359)" font-size="100" font-weight="normal" fill="#000" stroke="#000" stroke-width="2.5">Φ</text>
<text transform="translate(651.90,331.90) scale(0.1080,0.1073)" font-size="100" font-weight="bold" fill="#000" stroke="#000" stroke-width="2">3</text>
<text transform="translate(661.90,327.47) scale(0.1351,0.1235)" font-size="100" font-weight="bold" fill="#000" stroke="#000" stroke-width="4">)</text>
<rect x="671.70" y="322.00" width="8.80" height="1.4" fill="#000"/><rect x="671.70" y="325.00" width="8.80" height="1.4" fill="#000"/>
<text transform="translate(686.30,328.06) scale(0.1242,0.1378)" font-size="100" font-weight="bold" fill="#000" stroke="#000" stroke-width="2">(</text>
<text transform="translate(691.00,328.10) scale(0.1636,0.1353)" font-size="100" font-weight="bold" fill="#000">0</text>
<text transform="translate(699.18,321.38) scale(0.1015,0.1164)" font-size="100" font-weight="bold" fill="#000">o</text>
<text transform="translate(704.54,328.18) scale(0.1429,0.1755)" font-size="100" font-weight="bold" fill="#000">,</text>
<text transform="translate(712.34,328.10) scale(0.1636,0.1353)" font-size="100" font-weight="bold" fill="#000">0</text>
<text transform="translate(720.52,321.38) scale(0.1015,0.1164)" font-size="100" font-weight="bold" fill="#000">o</text>
<text transform="translate(726.53,328.06) scale(0.1242,0.1378)" font-size="100" font-weight="bold" fill="#000" stroke="#000" stroke-width="2">)</text>
<text transform="translate(214.40,608.17) scale(0.1411,0.1235)" font-size="100" font-weight="bold" fill="#0000ff" stroke="#0000ff" stroke-width="4">(</text>
<text transform="translate(224.10,608.80) scale(0.1710,0.1359)" font-size="100" font-weight="normal" fill="#0000ff" stroke="#0000ff" stroke-width="2.5">Φ</text>
<text transform="translate(237.50,612.60) scale(0.0860,0.1076)" font-size="100" font-weight="bold" fill="#0000ff" stroke="#0000ff" stroke-width="3">1</text>
<text transform="translate(247.00,608.89) scale(0.1440,0.1623)" font-size="100" font-weight="bold" fill="#0000ff">,</text>
<text transform="translate(255.70,608.80) scale(0.1669,0.1359)" font-size="100" font-weight="normal" fill="#0000ff" stroke="#0000ff" stroke-width="2.5">Φ</text>
<text transform="translate(268.10,612.60) scale(0.1080,0.1073)" font-size="100" font-weight="bold" fill="#0000ff" stroke="#0000ff" stroke-width="2">3</text>
<text transform="translate(278.10,608.17) scale(0.1351,0.1235)" font-size="100" font-weight="bold" fill="#0000ff" stroke="#0000ff" stroke-width="4">)</text>
<rect x="287.90" y="602.70" width="8.80" height="1.4" fill="#0000ff"/><rect x="287.90" y="605.70" width="8.80" height="1.4" fill="#0000ff"/>
<text transform="translate(302.50,608.76) scale(0.1242,0.1378)" font-size="100" font-weight="bold" fill="#0000ff" stroke="#0000ff" stroke-width="2">(</text>
<text transform="translate(307.20,608.80) scale(0.1575,0.1353)" font-size="100" font-weight="bold" fill="#0000ff">90</text>
<text transform="translate(322.94,602.08) scale(0.1015,0.1164)" font-size="100" font-weight="bold" fill="#0000ff">o</text>
<text transform="translate(328.30,608.88) scale(0.1429,0.1755)" font-size="100" font-weight="bold" fill="#0000ff">,</text>
<text transform="translate(336.10,608.80) scale(0.1636,0.1353)" font-size="100" font-weight="bold" fill="#0000ff">0</text>
<text transform="translate(344.28,602.08) scale(0.1015,0.1164)" font-size="100" font-weight="bold" fill="#0000ff">o</text>
<text transform="translate(350.30,608.76) scale(0.1242,0.1378)" font-size="100" font-weight="bold" fill="#0000ff" stroke="#0000ff" stroke-width="2">)</text>
<text transform="translate(598.20,608.17) scale(0.1411,0.1235)" font-size="100" font-weight="bold" fill="#ff00ff" stroke="#ff00ff" stroke-width="4">(</text>
<text transform="translate(607.90,608.80) scale(0.1710,0.1359)" font-size="100" font-weight="normal" fill="#ff00ff" stroke="#ff00ff" stroke-width="2.5">Φ</text>
<text transform="translate(621.30,612.60) scale(0.0860,0.1076)" font-size="100" font-weight="bold" fill="#ff00ff" stroke="#ff00ff" stroke-width="3">1</text>
<text transform="translate(630.80,608.89) scale(0.1440,0.1623)" font-size="100" font-weight="bold" fill="#ff00ff">,</text>
<text transform="translate(639.50,608.80) scale(0.1669,0.1359)" font-size="100" font-weight="normal" fill="#ff00ff" stroke="#ff00ff" stroke-width="2.5">Φ</text>
<text transform="translate(651.90,612.60) scale(0.1080,0.1073)" font-size="100" font-weight="bold" fill="#ff00ff" stroke="#ff00ff" stroke-width="2">3</text>
<text transform="translate(661.90,608.17) scale(0.1351,0.1235)" font-size="100" font-weight="bold" fill="#ff00ff" stroke="#ff00ff" stroke-width="4">)</text>
<rect x="671.70" y="602.70" width="8.80" height="1.4" fill="#ff00ff"/><rect x="671.70" y="605.70" width="8.80" height="1.4" fill="#ff00ff"/>
<text transform="translate(686.30,608.76) scale(0.1242,0.1378)" font-size="100" font-weight="bold" fill="#ff00ff" stroke="#ff00ff" stroke-width="2">(</text>
<text transform="translate(691.00,608.80) scale(0.1636,0.1353)" font-size="100" font-weight="bold" fill="#ff00ff">0</text>
<text transform="translate(699.18,602.08) scale(0.1015,0.1164)" font-size="100" font-weight="bold" fill="#ff00ff">o</text>
<text transform="translate(704.54,608.88) scale(0.1429,0.1755)" font-size="100" font-weight="bold" fill="#ff00ff">,</text>
<text transform="translate(712.34,608.80) scale(0.1575,0.1353)" font-size="100" font-weight="bold" fill="#ff00ff">10</text>
<text transform="translate(728.08,602.08) scale(0.1015,0.1164)" font-size="100" font-weight="bold" fill="#ff00ff">o</text>
<text transform="translate(734.10,608.76) scale(0.1242,0.1378)" font-size="100" font-weight="bold" fill="#ff00ff" stroke="#ff00ff" stroke-width="2">)</text>
<path d="M136.80 678.76 C137.14 677.30 138.65 677.12 139.32 678.57 L142.68 685.13 C143.35 686.58 144.86 686.40 145.20 684.94" stroke="#ff0000" stroke-width="1.45" fill="none" stroke-linecap="round"/>
<path d="M144.61 677.57 L137.39 686.13" stroke="#ff0000" stroke-width="1.0" fill="none" stroke-linecap="round"/>
<text transform="translate(145.90,677.10) scale(0.1120,0.1023)" font-size="100" font-weight="bold" fill="#ff0000">0</text>
<path d="M268.60 686.72 C268.92 685.30 270.38 685.12 271.03 686.55 L274.27 692.95 C274.92 694.38 276.38 694.20 276.70 692.78" stroke="#000" stroke-width="1.2" fill="none" stroke-linecap="round"/>
<path d="M276.13 685.57 L269.17 693.93" stroke="#000" stroke-width="0.75" fill="none" stroke-linecap="round"/>
<text transform="translate(277.60,685.60) scale(0.1038,0.0938)" font-size="100" font-weight="normal" fill="#000">±</text>
<text transform="translate(348.70,692.95) scale(0.1560,0.1335)" font-size="100" font-weight="bold" fill="#ff00ff">g</text>
<text transform="translate(350.20,683.30) scale(0.1000,0.0520)" font-size="100" font-weight="bold" fill="#ff00ff">~</text>
<text transform="translate(335.30,726.50) scale(0.1504,0.1313)" font-size="100" font-weight="bold" fill="#0000ff">H</text>
<text transform="translate(347.80,720.50) scale(0.1120,0.1008)" font-size="100" font-weight="bold" fill="#0000ff">0</text>
</g></svg></body></html>
